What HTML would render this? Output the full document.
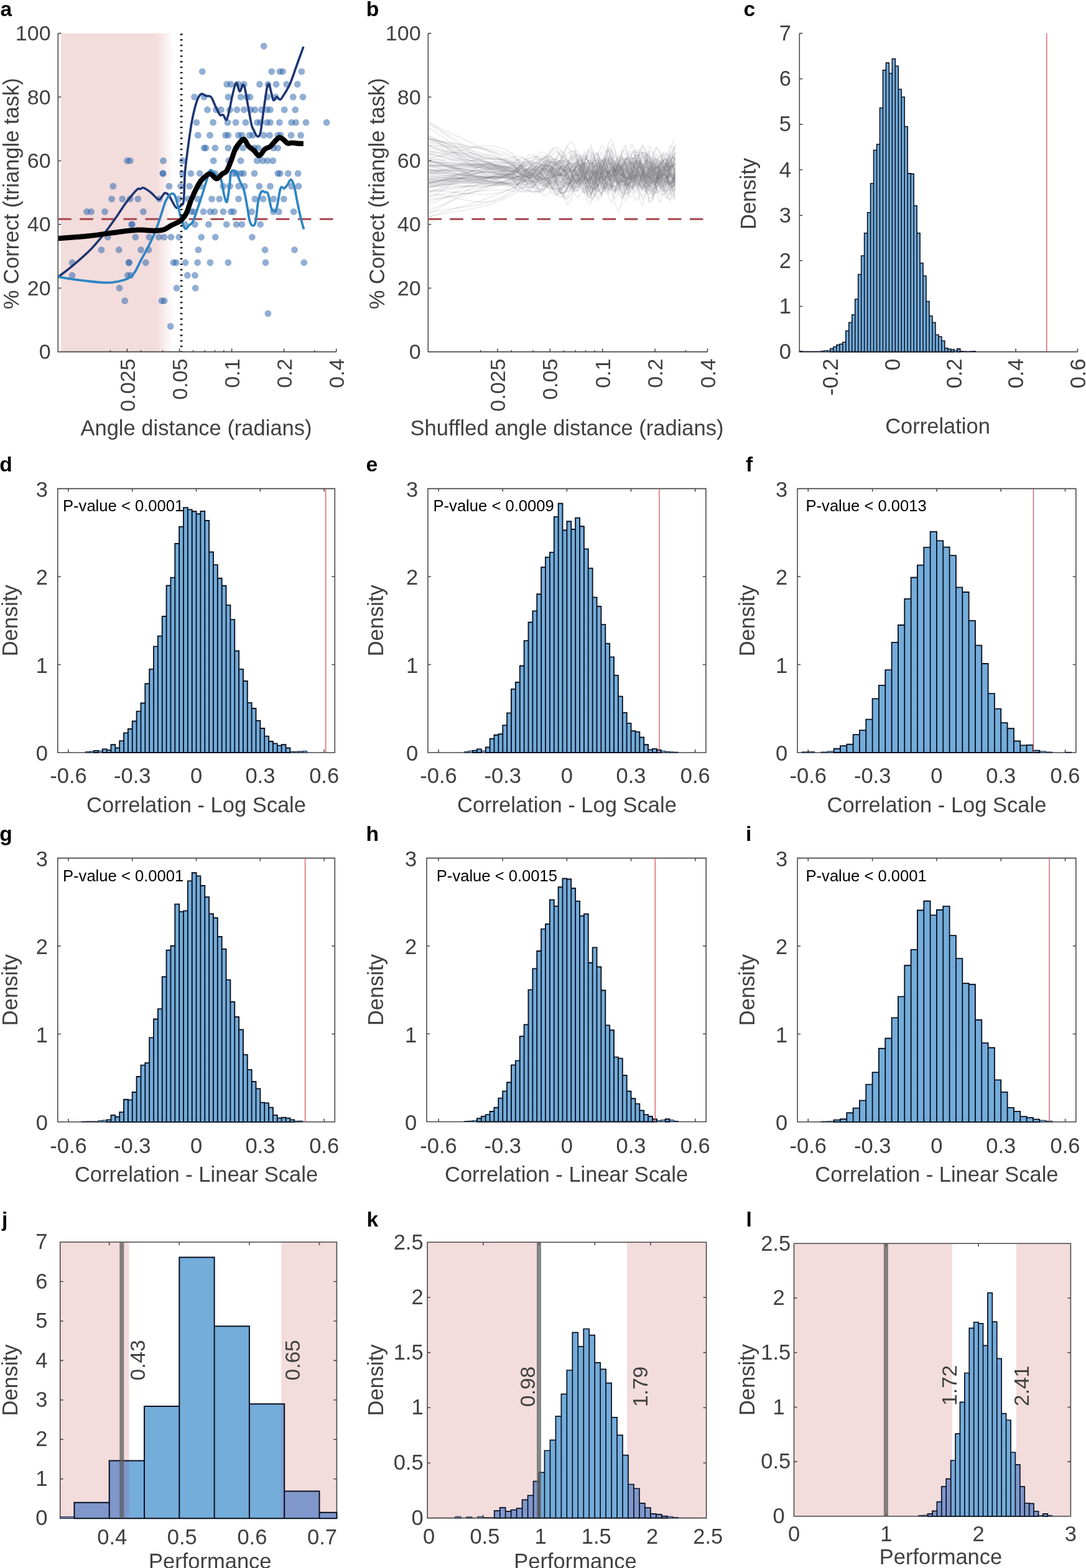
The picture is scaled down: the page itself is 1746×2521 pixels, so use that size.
<!DOCTYPE html>
<html lang="en">
<head>
<meta charset="utf-8">
<title>Figure: triangle task performance, shuffled controls and permutation tests</title>
<style>
html,body{margin:0;padding:0;background:#fff}
body{width:1746px;height:2521px;overflow:hidden}
svg{display:block;font-family:'Liberation Sans', Arial, Helvetica, sans-serif}
</style>
</head>
<body>
<svg width="1746" height="2521" viewBox="0 0 1746 2521">
<defs>
<linearGradient id="pinkfade" x1="0" y1="0" x2="1" y2="0">
<stop offset="0" stop-color="#f3dcdc"/>
<stop offset="0.84" stop-color="#f3dcdc"/>
<stop offset="1" stop-color="#f3dcdc" stop-opacity="0"/>
</linearGradient>
</defs>
<rect width="1746" height="2521" fill="#fff"/>
<g id="panel-a">
<rect x="98" y="53.6" width="182" height="511.4" fill="url(#pinkfade)"/>
<g fill="#2d64ad" fill-opacity="0.52"><circle cx="424.2" cy="74.08" r="5.4"/><circle cx="325.3" cy="115.04" r="5.4"/><circle cx="436.7" cy="115.04" r="5.4"/><circle cx="449.8" cy="115.04" r="5.4"/><circle cx="454.6" cy="115.04" r="5.4"/><circle cx="484.9" cy="115.04" r="5.4"/><circle cx="364.7" cy="135.52" r="5.4"/><circle cx="371.2" cy="135.52" r="5.4"/><circle cx="383.5" cy="135.52" r="5.4"/><circle cx="392.3" cy="135.52" r="5.4"/><circle cx="417.4" cy="135.52" r="5.4"/><circle cx="430.9" cy="135.52" r="5.4"/><circle cx="444" cy="135.52" r="5.4"/><circle cx="460.7" cy="135.52" r="5.4"/><circle cx="478.2" cy="135.52" r="5.4"/><circle cx="312.5" cy="156" r="5.4"/><circle cx="328.2" cy="156" r="5.4"/><circle cx="366.8" cy="156" r="5.4"/><circle cx="387" cy="156" r="5.4"/><circle cx="396.7" cy="156" r="5.4"/><circle cx="401.9" cy="156" r="5.4"/><circle cx="430" cy="156" r="5.4"/><circle cx="443.2" cy="156" r="5.4"/><circle cx="471.2" cy="156" r="5.4"/><circle cx="487" cy="156" r="5.4"/><circle cx="333.5" cy="176.48" r="5.4"/><circle cx="347.5" cy="176.48" r="5.4"/><circle cx="355.4" cy="176.48" r="5.4"/><circle cx="369.5" cy="176.48" r="5.4"/><circle cx="380.9" cy="176.48" r="5.4"/><circle cx="392.3" cy="176.48" r="5.4"/><circle cx="402.8" cy="176.48" r="5.4"/><circle cx="409.8" cy="176.48" r="5.4"/><circle cx="420.4" cy="176.48" r="5.4"/><circle cx="429.1" cy="176.48" r="5.4"/><circle cx="434.4" cy="176.48" r="5.4"/><circle cx="457.2" cy="176.48" r="5.4"/><circle cx="474.7" cy="176.48" r="5.4"/><circle cx="316" cy="196.96" r="5.4"/><circle cx="342.6" cy="196.96" r="5.4"/><circle cx="366" cy="196.96" r="5.4"/><circle cx="379.1" cy="196.96" r="5.4"/><circle cx="394.9" cy="196.96" r="5.4"/><circle cx="413.3" cy="196.96" r="5.4"/><circle cx="418.6" cy="196.96" r="5.4"/><circle cx="429.1" cy="196.96" r="5.4"/><circle cx="434.4" cy="196.96" r="5.4"/><circle cx="449.3" cy="196.96" r="5.4"/><circle cx="468.6" cy="196.96" r="5.4"/><circle cx="475.6" cy="196.96" r="5.4"/><circle cx="491.9" cy="196.96" r="5.4"/><circle cx="525.1" cy="196.96" r="5.4"/><circle cx="318.2" cy="217.44" r="5.4"/><circle cx="337.5" cy="217.44" r="5.4"/><circle cx="362.5" cy="217.44" r="5.4"/><circle cx="366.8" cy="217.44" r="5.4"/><circle cx="383.5" cy="217.44" r="5.4"/><circle cx="388.8" cy="217.44" r="5.4"/><circle cx="401" cy="217.44" r="5.4"/><circle cx="406.3" cy="217.44" r="5.4"/><circle cx="423.9" cy="217.44" r="5.4"/><circle cx="433.5" cy="217.44" r="5.4"/><circle cx="446.7" cy="217.44" r="5.4"/><circle cx="451" cy="217.44" r="5.4"/><circle cx="468" cy="217.44" r="5.4"/><circle cx="483.5" cy="217.44" r="5.4"/><circle cx="328.2" cy="237.92" r="5.4"/><circle cx="330.9" cy="237.92" r="5.4"/><circle cx="345.8" cy="237.92" r="5.4"/><circle cx="366.8" cy="237.92" r="5.4"/><circle cx="380" cy="237.92" r="5.4"/><circle cx="390.5" cy="237.92" r="5.4"/><circle cx="409" cy="237.92" r="5.4"/><circle cx="415" cy="237.92" r="5.4"/><circle cx="439.6" cy="237.92" r="5.4"/><circle cx="446.7" cy="237.92" r="5.4"/><circle cx="204.5" cy="258.4" r="5.4"/><circle cx="209.2" cy="258.4" r="5.4"/><circle cx="262.5" cy="258.4" r="5.4"/><circle cx="293.5" cy="258.4" r="5.4"/><circle cx="343.2" cy="258.4" r="5.4"/><circle cx="367.7" cy="258.4" r="5.4"/><circle cx="387" cy="258.4" r="5.4"/><circle cx="413.3" cy="258.4" r="5.4"/><circle cx="422.1" cy="258.4" r="5.4"/><circle cx="430" cy="258.4" r="5.4"/><circle cx="438.8" cy="258.4" r="5.4"/><circle cx="261.7" cy="278.88" r="5.4"/><circle cx="262.2" cy="278.88" r="5.4"/><circle cx="293.5" cy="278.88" r="5.4"/><circle cx="306.8" cy="278.88" r="5.4"/><circle cx="321.2" cy="278.88" r="5.4"/><circle cx="345.8" cy="278.88" r="5.4"/><circle cx="374.7" cy="278.88" r="5.4"/><circle cx="380" cy="278.88" r="5.4"/><circle cx="387" cy="278.88" r="5.4"/><circle cx="391.4" cy="278.88" r="5.4"/><circle cx="409" cy="278.88" r="5.4"/><circle cx="446.7" cy="278.88" r="5.4"/><circle cx="450.2" cy="278.88" r="5.4"/><circle cx="463.3" cy="278.88" r="5.4"/><circle cx="479.1" cy="278.88" r="5.4"/><circle cx="181.8" cy="299.36" r="5.4"/><circle cx="271.9" cy="299.36" r="5.4"/><circle cx="290.6" cy="299.36" r="5.4"/><circle cx="304.7" cy="299.36" r="5.4"/><circle cx="322.1" cy="299.36" r="5.4"/><circle cx="358.9" cy="299.36" r="5.4"/><circle cx="369.5" cy="299.36" r="5.4"/><circle cx="383.5" cy="299.36" r="5.4"/><circle cx="393.2" cy="299.36" r="5.4"/><circle cx="416.8" cy="299.36" r="5.4"/><circle cx="434.4" cy="299.36" r="5.4"/><circle cx="468.6" cy="299.36" r="5.4"/><circle cx="480" cy="299.36" r="5.4"/><circle cx="179.5" cy="319.84" r="5.4"/><circle cx="196.7" cy="319.84" r="5.4"/><circle cx="209.2" cy="319.84" r="5.4"/><circle cx="221.8" cy="319.84" r="5.4"/><circle cx="256.2" cy="319.84" r="5.4"/><circle cx="287.2" cy="319.84" r="5.4"/><circle cx="302.6" cy="319.84" r="5.4"/><circle cx="317.9" cy="319.84" r="5.4"/><circle cx="340.5" cy="319.84" r="5.4"/><circle cx="352.8" cy="319.84" r="5.4"/><circle cx="383.5" cy="319.84" r="5.4"/><circle cx="409.8" cy="319.84" r="5.4"/><circle cx="423" cy="319.84" r="5.4"/><circle cx="439.6" cy="319.84" r="5.4"/><circle cx="456.3" cy="319.84" r="5.4"/><circle cx="139.5" cy="340.32" r="5.4"/><circle cx="146.6" cy="340.32" r="5.4"/><circle cx="168.5" cy="340.32" r="5.4"/><circle cx="230.4" cy="340.32" r="5.4"/><circle cx="307.6" cy="340.32" r="5.4"/><circle cx="311.8" cy="340.32" r="5.4"/><circle cx="327" cy="340.32" r="5.4"/><circle cx="337.9" cy="340.32" r="5.4"/><circle cx="344.9" cy="340.32" r="5.4"/><circle cx="358.9" cy="340.32" r="5.4"/><circle cx="371.2" cy="340.32" r="5.4"/><circle cx="375.6" cy="340.32" r="5.4"/><circle cx="404.6" cy="340.32" r="5.4"/><circle cx="439.6" cy="340.32" r="5.4"/><circle cx="448.4" cy="340.32" r="5.4"/><circle cx="472.1" cy="340.32" r="5.4"/><circle cx="211.6" cy="360.8" r="5.4"/><circle cx="212.4" cy="360.8" r="5.4"/><circle cx="297.6" cy="360.8" r="5.4"/><circle cx="313.4" cy="360.8" r="5.4"/><circle cx="335.3" cy="360.8" r="5.4"/><circle cx="364.2" cy="360.8" r="5.4"/><circle cx="380" cy="360.8" r="5.4"/><circle cx="388.8" cy="360.8" r="5.4"/><circle cx="418.6" cy="360.8" r="5.4"/><circle cx="173.2" cy="381.28" r="5.4"/><circle cx="217.8" cy="381.28" r="5.4"/><circle cx="239.8" cy="381.28" r="5.4"/><circle cx="255.4" cy="381.28" r="5.4"/><circle cx="264" cy="381.28" r="5.4"/><circle cx="275" cy="381.28" r="5.4"/><circle cx="287.7" cy="381.28" r="5.4"/><circle cx="323.7" cy="381.28" r="5.4"/><circle cx="346.3" cy="381.28" r="5.4"/><circle cx="405.4" cy="381.28" r="5.4"/><circle cx="163" cy="401.76" r="5.4"/><circle cx="191.2" cy="401.76" r="5.4"/><circle cx="226.5" cy="401.76" r="5.4"/><circle cx="239" cy="401.76" r="5.4"/><circle cx="318.9" cy="401.76" r="5.4"/><circle cx="426.1" cy="401.76" r="5.4"/><circle cx="473.5" cy="401.76" r="5.4"/><circle cx="116" cy="422.24" r="5.4"/><circle cx="206.9" cy="422.24" r="5.4"/><circle cx="207.8" cy="422.24" r="5.4"/><circle cx="234.3" cy="422.24" r="5.4"/><circle cx="278.9" cy="422.24" r="5.4"/><circle cx="283.2" cy="422.24" r="5.4"/><circle cx="298" cy="422.24" r="5.4"/><circle cx="317.6" cy="422.24" r="5.4"/><circle cx="337.9" cy="422.24" r="5.4"/><circle cx="366.8" cy="422.24" r="5.4"/><circle cx="427" cy="422.24" r="5.4"/><circle cx="488.8" cy="422.24" r="5.4"/><circle cx="116" cy="442.72" r="5.4"/><circle cx="205.3" cy="442.72" r="5.4"/><circle cx="210" cy="442.72" r="5.4"/><circle cx="301.3" cy="442.72" r="5.4"/><circle cx="313.4" cy="442.72" r="5.4"/><circle cx="192" cy="463.2" r="5.4"/><circle cx="284" cy="463.2" r="5.4"/><circle cx="314.2" cy="463.2" r="5.4"/><circle cx="200.6" cy="483.68" r="5.4"/><circle cx="260.1" cy="483.68" r="5.4"/><circle cx="264" cy="483.68" r="5.4"/><circle cx="430.9" cy="504.16" r="5.4"/><circle cx="274.2" cy="524.64" r="5.4"/></g>
<line x1="93.3" y1="352.25" x2="537.5" y2="352.25" stroke="#a8444a" stroke-width="2.9" stroke-dasharray="21.5 13.55"/>
<path d="M93.3 445.6C97.58 442.22 110.53 432.43 119 425.3C127.47 418.17 136.78 410.1 144.1 402.8C151.42 395.5 157.68 387.77 162.9 381.5C168.12 375.23 171.22 370.85 175.4 365.2C179.58 359.55 183.9 353.55 188 347.6C192.1 341.65 196.42 334.6 200 329.5C203.58 324.4 206 321.22 209.5 317C213 312.78 218.3 306.38 221 304.2C223.7 302.02 224.13 304.28 225.7 303.9C227.27 303.52 227.53 300.93 230.4 301.9C233.27 302.87 238.73 306.57 242.9 309.7C247.07 312.83 251.75 320.57 255.4 320.7C259.05 320.83 262.18 311.68 264.8 310.5C267.42 309.32 269 311.25 271.1 313.6C273.2 315.95 275.32 321.2 277.4 324.6C279.48 328 281.25 333.08 283.6 334C285.95 334.92 289.53 332.18 291.5 330.1C293.47 328.02 294.4 330.38 295.4 321.5C296.4 312.62 296.27 291.55 297.5 276.8C298.73 262.05 301.05 246.15 302.8 233C304.55 219.85 306.25 207.85 308 197.9C309.75 187.95 311.53 180.03 313.3 173.3C315.07 166.57 316.83 161.23 318.6 157.5C320.37 153.77 321.85 151.48 323.9 150.9C325.95 150.32 328.57 153.33 330.9 154C333.23 154.67 336.15 154.02 337.9 154.9C339.65 155.78 339.93 156.52 341.4 159.3C342.87 162.08 344.65 167.37 346.7 171.6C348.75 175.83 351.67 182.52 353.7 184.7C355.73 186.88 357.15 183.38 358.9 184.7C360.65 186.02 362.43 194.5 364.2 192.6C365.97 190.7 367.75 180.6 369.5 173.3C371.25 166 372.95 155.52 374.7 148.8C376.45 142.08 378.23 133.3 380 133C381.77 132.7 383.55 146.42 385.3 147C387.05 147.58 389.05 137.08 390.5 136.5C391.95 135.92 392.53 137.37 394 143.5C395.47 149.63 397.53 163.65 399.3 173.3C401.07 182.95 403.13 195.4 404.6 201.4C406.07 207.4 406.65 206.38 408.1 209.3C409.55 212.22 411.55 218.17 413.3 218.9C415.05 219.63 416.83 220.72 418.6 213.7C420.37 206.68 422.15 188.78 423.9 176.8C425.65 164.82 427.65 148.67 429.1 141.8C430.55 134.93 431.43 134.43 432.6 135.6C433.77 136.77 434.93 144.55 436.1 148.8C437.27 153.05 438.13 159.93 439.6 161.1C441.07 162.27 443.13 155.95 444.9 155.8C446.67 155.65 448.45 160.5 450.2 160.2C451.95 159.9 452.77 158.1 455.4 154C458.03 149.9 462.48 143.48 466 135.6C469.52 127.72 472.85 116.78 476.5 106.7C480.15 96.62 486 80.37 487.9 75.1" fill="none" stroke="#1d3673" stroke-width="3.6" stroke-linejoin="round"/>
<path d="M93.3 445.2C97.35 445.85 109.37 447.93 117.6 449.1C125.83 450.27 134.6 451.33 142.7 452.2C150.8 453.07 159.68 454.03 166.2 454.3C172.72 454.57 176.58 454.4 181.8 453.8C187.02 453.2 192.8 452.13 197.5 450.7C202.2 449.27 206.62 447.68 210 445.2C213.38 442.72 215.18 439.98 217.8 435.8C220.42 431.62 222.57 426.1 225.7 420.1C228.83 414.1 233.22 406.32 236.6 399.8C239.98 393.28 243.12 387.53 246 381C248.88 374.47 251.55 367.13 253.9 360.6C256.25 354.07 258.02 348.07 260.1 341.8C262.18 335.53 264.3 327.7 266.4 323C268.5 318.3 270.73 315.55 272.7 313.6C274.67 311.65 276.63 310.77 278.2 311.3C279.77 311.83 280.67 313.02 282.1 316.8C283.53 320.58 285.23 328 286.8 334C288.37 340 289.68 347.18 291.5 352.8C293.32 358.42 295.62 366.13 297.7 367.7C299.78 369.27 301.9 364.17 304 362.2C306.1 360.23 307.95 360.6 310.3 355.9C312.65 351.2 315.75 340.78 318.1 334C320.45 327.22 321.98 322.73 324.4 315.2C326.82 307.67 330.2 295.78 332.6 288.8C335 281.82 335.87 273.83 338.8 273.3C341.73 272.77 347.43 283.02 350.2 285.6C352.97 288.18 353.65 283.88 355.4 288.8C357.15 293.72 359.08 309.25 360.7 315.1C362.32 320.95 363.63 327.42 365.1 323.9C366.57 320.38 368.48 301.85 369.5 294C370.52 286.15 369.75 279.95 371.2 276.8C372.65 273.65 376.15 273.63 378.2 275.1C380.25 276.57 382.32 283.03 383.5 285.6C384.68 288.17 383.83 287.05 385.3 290.5C386.77 293.95 390.27 299.28 392.3 306.3C394.33 313.32 396.03 324.7 397.5 332.6C398.97 340.5 399.78 348.72 401.1 353.7C402.42 358.68 403.8 361.92 405.4 362.5C407 363.08 409.08 363.63 410.7 357.2C412.32 350.77 413.48 332.08 415.1 323.9C416.72 315.72 418.65 310.6 420.4 308.1C422.15 305.6 423.85 308.32 425.6 308.9C427.35 309.48 429.15 307.35 430.9 311.6C432.65 315.85 434.5 329.73 436.1 334.4C437.7 339.07 439.03 339.6 440.5 339.6C441.97 339.6 443.13 340.53 444.9 334.4C446.67 328.27 449.05 308.07 451.1 302.8C453.15 297.53 455.3 303.82 457.2 302.8C459.1 301.78 460.75 299.03 462.5 296.7C464.25 294.37 465.95 288.37 467.7 288.8C469.45 289.23 471.25 293.17 473 299.3C474.75 305.43 476.45 317.12 478.2 325.6C479.95 334.08 481.8 343.03 483.5 350.2C485.2 357.37 487.58 365.53 488.4 368.6" fill="none" stroke="#2f86c3" stroke-width="3.8" stroke-linejoin="round"/>
<path d="M93.3 383.3C101.53 382.65 126.65 381.1 142.7 379.4C158.75 377.7 176.55 374.72 189.6 373.1C202.65 371.48 213.17 370.17 221 369.7C228.83 369.23 231.38 370.12 236.6 370.3C241.82 370.48 247.85 370.98 252.3 370.8C256.75 370.62 259.38 370.63 263.3 369.2C267.22 367.77 271.37 364.55 275.8 362.2C280.23 359.85 285.98 358.23 289.9 355.1C293.82 351.97 296.28 349.25 299.3 343.4C302.32 337.55 304.48 328.17 308 320C311.52 311.83 316.88 300.28 320.4 294.4C323.92 288.52 326.18 287.18 329.1 284.7C332.02 282.22 334.68 279.05 337.9 279.5C341.12 279.95 345.18 287.4 348.4 287.4C351.62 287.4 354.57 281.55 357.2 279.5C359.83 277.45 361.87 278.47 364.2 275.1C366.53 271.73 368.87 265.15 371.2 259.3C373.53 253.45 375.85 244.97 378.2 240C380.55 235.03 382.95 232.18 385.3 229.5C387.65 226.82 389.97 223.03 392.3 223.9C394.63 224.77 396.67 231.72 399.3 234.7C401.93 237.68 405.18 239.17 408.1 241.8C411.02 244.43 413.88 250.8 416.8 250.5C419.72 250.2 422.67 242.48 425.6 240C428.53 237.52 431.47 237.93 434.4 235.6C437.33 233.27 440.72 228.42 443.2 226C445.68 223.58 447.27 221.4 449.3 221.1C451.33 220.8 453.2 222.65 455.4 224.2C457.6 225.75 460.15 229.52 462.5 230.4C464.85 231.28 466.88 229.45 469.5 229.5C472.12 229.55 475.13 230.47 478.2 230.7C481.27 230.93 486.28 230.87 487.9 230.9" fill="none" stroke="#000" stroke-width="8.2" stroke-linejoin="round"/>
<line x1="291.6" y1="54.1" x2="291.6" y2="565.6" stroke="#000" stroke-width="3.6" stroke-dasharray="2.3 6.5"/>
<path d="M204.43 565.6v-5M288.5 565.6v-5M372.57 565.6v-5M456.63 565.6v-5M540.7 565.6v-5M177.37 565.6v-2.5M226.54 565.6v-2.5M261.43 565.6v-2.5M310.61 565.6v-2.5M329.31 565.6v-2.5M345.5 565.6v-2.5M359.79 565.6v-2.5M505.81 565.6v-2.5M93.3 565.6h5M93.3 463.2h5M93.3 360.8h5M93.3 258.4h5M93.3 156h5M93.3 53.6h5M93.3 53.6V565.6H540.7" fill="none" stroke="#474747" stroke-width="1.55"/>
<text x="81.6" y="577.1" font-size="34" text-anchor="end" fill="#404040">0</text>
<text x="81.6" y="474.7" font-size="34" text-anchor="end" fill="#404040">20</text>
<text x="81.6" y="372.3" font-size="34" text-anchor="end" fill="#404040">40</text>
<text x="81.6" y="269.9" font-size="34" text-anchor="end" fill="#404040">60</text>
<text x="81.6" y="167.5" font-size="34" text-anchor="end" fill="#404040">80</text>
<text x="81.6" y="65.1" font-size="34" text-anchor="end" fill="#404040">100</text>
<text x="216.63" y="576.6" font-size="34" text-anchor="end" transform="rotate(-90 216.63 576.6)" fill="#404040">0.025</text>
<text x="300.7" y="576.6" font-size="34" text-anchor="end" transform="rotate(-90 300.7 576.6)" fill="#404040">0.05</text>
<text x="384.77" y="576.6" font-size="34" text-anchor="end" transform="rotate(-90 384.77 576.6)" fill="#404040">0.1</text>
<text x="468.83" y="576.6" font-size="34" text-anchor="end" transform="rotate(-90 468.83 576.6)" fill="#404040">0.2</text>
<text x="552.9" y="576.6" font-size="34" text-anchor="end" transform="rotate(-90 552.9 576.6)" fill="#404040">0.4</text>
<text x="30.3" y="311.3" font-size="34.5" text-anchor="middle" transform="rotate(-90 30.3 311.3)" fill="#404040">% Correct (triangle task)</text>
<text x="315.5" y="699.5" font-size="34.5" text-anchor="middle" fill="#404040">Angle distance (radians)</text>
<text x="0.5" y="25.6" font-size="33.6" font-weight="bold" fill="#000">a</text>
</g>
<g id="panel-b">
<path d="M799.88 565.6v-5M884.28 565.6v-5M968.69 565.6v-5M1053.09 565.6v-5M1137.5 565.6v-5M772.71 565.6v-2.5M822.08 565.6v-2.5M857.11 565.6v-2.5M906.49 565.6v-2.5M925.26 565.6v-2.5M941.52 565.6v-2.5M955.86 565.6v-2.5M1102.47 565.6v-2.5M688.3 565.6h5M688.3 463.2h5M688.3 360.8h5M688.3 258.4h5M688.3 156h5M688.3 53.6h5M688.3 53.6V565.6H1137.5" fill="none" stroke="#474747" stroke-width="1.55"/>
<text x="676.6" y="577.1" font-size="34" text-anchor="end" fill="#404040">0</text>
<text x="676.6" y="474.7" font-size="34" text-anchor="end" fill="#404040">20</text>
<text x="676.6" y="372.3" font-size="34" text-anchor="end" fill="#404040">40</text>
<text x="676.6" y="269.9" font-size="34" text-anchor="end" fill="#404040">60</text>
<text x="676.6" y="167.5" font-size="34" text-anchor="end" fill="#404040">80</text>
<text x="676.6" y="65.1" font-size="34" text-anchor="end" fill="#404040">100</text>
<text x="812.08" y="576.6" font-size="34" text-anchor="end" transform="rotate(-90 812.08 576.6)" fill="#404040">0.025</text>
<text x="896.48" y="576.6" font-size="34" text-anchor="end" transform="rotate(-90 896.48 576.6)" fill="#404040">0.05</text>
<text x="980.89" y="576.6" font-size="34" text-anchor="end" transform="rotate(-90 980.89 576.6)" fill="#404040">0.1</text>
<text x="1065.29" y="576.6" font-size="34" text-anchor="end" transform="rotate(-90 1065.29 576.6)" fill="#404040">0.2</text>
<text x="1149.7" y="576.6" font-size="34" text-anchor="end" transform="rotate(-90 1149.7 576.6)" fill="#404040">0.4</text>
<g fill="none" stroke="#7b7c80" stroke-opacity="0.15" stroke-width="1.7" stroke-linejoin="round">
<path d="M688.3 294.0 703.4 291.5 718.5 286.8 733.5 281.0 748.6 275.2 763.7 270.6 778.8 268.0 793.8 268.8 808.9 273.9 824.0 284.5 829.5 293.0 835.0 300.2 840.5 304.6 846.0 305.2 851.5 302.2 857.0 297.1 862.5 292.4 868.0 290.5 873.5 292.6 879.0 297.4 884.5 301.1 890.0 299.4 895.5 290.5 901.0 278.0 906.5 270.6 912.0 276.2 917.5 293.0 923.0 307.6 928.5 306.1 934.0 291.4 939.5 283.6 945.0 288.6 950.5 278.7 956.0 250.0 961.5 244.4 967.0 267.1 972.5 275.7 978.0 263.6 983.5 265.2 989.0 276.7 994.5 264.2 1000.0 241.3 1005.5 249.3 1011.0 276.4 1016.5 283.1 1022.0 279.7 1027.5 295.2 1033.0 308.0 1038.5 289.8 1044.0 270.2 1049.5 282.4 1055.0 300.5 1060.5 296.1 1066.0 293.8 1071.5 310.5 1077.0 312.4 1082.5 283.7 1085.5 269.2"/>
<path d="M688.3 257.7 703.4 261.1 718.5 265.7 733.5 270.9 748.6 276.2 763.7 280.8 778.8 284.2 793.8 285.7 808.9 284.9 824.0 281.0 829.5 276.9 835.0 273.8 840.5 272.7 846.0 274.1 851.5 277.5 857.0 280.9 862.5 282.0 868.0 278.5 873.5 269.7 879.0 257.6 884.5 246.5 890.0 241.0 895.5 243.2 901.0 250.0 906.5 254.5 912.0 251.2 917.5 243.4 923.0 242.8 928.5 257.7 934.0 278.2 939.5 283.0 945.0 271.9 950.5 273.7 956.0 286.8 961.5 278.2 967.0 259.3 972.5 265.7 978.0 284.4 983.5 283.8 989.0 281.2 994.5 302.1 1000.0 319.6 1005.5 308.0 1011.0 295.1 1016.5 301.5 1022.0 298.4 1027.5 274.3 1033.0 265.3 1038.5 280.7 1044.0 284.8 1049.5 273.0 1055.0 278.2 1060.5 294.8 1066.0 286.6 1071.5 262.8 1077.0 257.9 1082.5 260.6 1085.5 253.2"/>
<path d="M688.3 195.4 703.4 205.6 718.5 215.5 733.5 225.4 748.6 235.2 763.7 245.2 778.8 255.3 793.8 265.7 808.9 276.5 824.0 287.8 829.5 292.4 835.0 295.4 840.5 296.6 846.0 296.1 851.5 294.6 857.0 292.9 862.5 292.3 868.0 293.6 873.5 296.7 879.0 300.6 884.5 303.4 890.0 302.4 895.5 296.0 901.0 284.8 906.5 272.5 912.0 265.0 917.5 266.4 923.0 275.7 928.5 285.4 934.0 286.8 939.5 279.8 945.0 275.9 950.5 284.2 956.0 290.0 961.5 277.9 967.0 259.2 972.5 257.5 978.0 273.6 983.5 286.4 989.0 286.8 994.5 289.4 1000.0 304.5 1005.5 316.6 1011.0 306.7 1016.5 282.5 1022.0 268.6 1027.5 270.6 1033.0 271.1 1038.5 261.7 1044.0 258.2 1049.5 273.5 1055.0 293.5 1060.5 295.7 1066.0 282.7 1071.5 274.3 1077.0 271.9 1082.5 263.6 1085.5 252.4"/>
<path d="M688.3 267.6 703.4 267.6 718.5 266.9 733.5 265.7 748.6 264.5 763.7 263.8 778.8 263.8 793.8 264.9 808.9 267.7 824.0 272.3 829.5 275.7 835.0 279.2 840.5 282.0 846.0 283.3 851.5 282.6 857.0 279.4 862.5 274.0 868.0 267.2 873.5 260.9 879.0 257.0 884.5 257.8 890.0 264.4 895.5 276.2 901.0 290.2 906.5 300.9 912.0 302.6 917.5 293.1 923.0 276.1 928.5 262.0 934.0 263.3 939.5 284.0 945.0 309.8 950.5 313.3 956.0 287.8 961.5 261.5 967.0 263.1 972.5 288.6 978.0 306.4 983.5 294.4 989.0 265.0 994.5 249.6 1000.0 261.8 1005.5 283.9 1011.0 289.2 1016.5 273.5 1022.0 257.3 1027.5 259.3 1033.0 275.4 1038.5 286.4 1044.0 283.0 1049.5 275.5 1055.0 277.5 1060.5 287.5 1066.0 292.3 1071.5 286.2 1077.0 279.8 1082.5 285.1 1085.5 292.0"/>
<path d="M688.3 199.0 703.4 208.0 718.5 218.2 733.5 228.9 748.6 239.6 763.7 249.7 778.8 258.8 793.8 266.3 808.9 271.6 824.0 274.2 829.5 272.8 835.0 272.5 840.5 273.4 846.0 275.5 851.5 278.6 857.0 282.4 862.5 286.7 868.0 290.8 873.5 294.7 879.0 298.1 884.5 301.3 890.0 304.2 895.5 307.0 901.0 309.2 906.5 309.6 912.0 307.2 917.5 301.6 923.0 293.8 928.5 287.6 934.0 287.9 939.5 297.8 945.0 313.5 950.5 322.6 956.0 315.8 961.5 299.0 967.0 285.5 972.5 282.2 978.0 285.8 983.5 289.5 989.0 291.3 994.5 292.5 1000.0 291.4 1005.5 283.3 1011.0 268.1 1016.5 254.6 1022.0 253.9 1027.5 267.0 1033.0 281.7 1038.5 284.8 1044.0 274.4 1049.5 261.0 1055.0 255.2 1060.5 258.7 1066.0 266.0 1071.5 273.6 1077.0 281.7 1082.5 290.1 1085.5 292.9"/>
<path d="M688.3 290.1 703.4 289.3 718.5 288.2 733.5 287.0 748.6 285.9 763.7 284.8 778.8 284.0 793.8 283.6 808.9 283.7 824.0 284.4 829.5 285.2 835.0 284.4 840.5 281.9 846.0 278.3 851.5 274.3 857.0 270.9 862.5 268.5 868.0 266.9 873.5 265.6 879.0 263.4 884.5 259.9 890.0 256.4 895.5 255.6 901.0 260.5 906.5 272.3 912.0 286.8 917.5 296.5 923.0 295.8 928.5 287.5 934.0 281.7 939.5 285.4 945.0 291.9 950.5 293.9 956.0 299.7 961.5 308.8 967.0 302.1 972.5 278.4 978.0 263.9 983.5 269.3 989.0 275.6 994.5 272.9 1000.0 271.9 1005.5 272.7 1011.0 263.5 1016.5 254.0 1022.0 265.1 1027.5 289.2 1033.0 299.9 1038.5 295.2 1044.0 292.9 1049.5 293.5 1055.0 288.2 1060.5 287.0 1066.0 299.4 1071.5 307.6 1077.0 294.8 1082.5 275.2 1085.5 270.6"/>
<path d="M688.3 253.8 703.4 251.9 718.5 248.4 733.5 244.1 748.6 239.7 763.7 236.2 778.8 234.3 793.8 234.9 808.9 238.7 824.0 246.6 829.5 253.0 835.0 261.1 840.5 269.0 846.0 274.6 851.5 276.6 857.0 275.1 862.5 271.7 868.0 269.8 873.5 272.8 879.0 282.2 884.5 296.0 890.0 308.4 895.5 312.2 901.0 303.6 906.5 286.7 912.0 273.6 917.5 274.8 923.0 287.8 928.5 295.8 934.0 286.5 939.5 274.8 945.0 289.6 950.5 318.6 956.0 314.0 961.5 287.9 967.0 284.0 972.5 287.9 978.0 262.5 983.5 232.5 989.0 241.5 994.5 266.4 1000.0 265.5 1005.5 260.3 1011.0 283.7 1016.5 304.7 1022.0 287.9 1027.5 266.3 1033.0 277.1 1038.5 290.8 1044.0 278.4 1049.5 274.3 1055.0 303.9 1060.5 325.8 1066.0 309.9 1071.5 292.6 1077.0 296.0 1082.5 284.9 1085.5 263.9"/>
<path d="M688.3 344.3 703.4 335.8 718.5 326.6 733.5 317.2 748.6 307.7 763.7 298.6 778.8 290.1 793.8 282.5 808.9 276.2 824.0 271.5 829.5 271.2 835.0 270.0 840.5 268.0 846.0 265.5 851.5 263.6 857.0 263.8 862.5 267.2 868.0 274.2 873.5 283.6 879.0 292.5 884.5 297.1 890.0 294.1 895.5 283.4 901.0 269.5 906.5 260.1 912.0 262.1 917.5 274.8 923.0 289.3 928.5 295.6 934.0 292.6 939.5 289.9 945.0 291.1 950.5 284.4 956.0 272.1 961.5 279.2 967.0 303.3 972.5 308.6 978.0 285.3 983.5 267.7 989.0 275.6 994.5 287.2 1000.0 286.3 1005.5 285.5 1011.0 287.7 1016.5 276.1 1022.0 256.6 1027.5 259.3 1033.0 283.9 1038.5 292.6 1044.0 273.1 1049.5 256.4 1055.0 260.9 1060.5 268.9 1066.0 270.0 1071.5 276.2 1077.0 282.2 1082.5 268.3 1085.5 253.2"/>
<path d="M688.3 280.9 703.4 281.3 718.5 282.7 733.5 284.7 748.6 286.7 763.7 288.1 778.8 288.4 793.8 287.1 808.9 283.6 824.0 277.4 829.5 272.7 835.0 270.3 840.5 270.3 846.0 272.2 851.5 274.4 857.0 275.3 862.5 273.8 868.0 270.1 873.5 265.9 879.0 264.8 884.5 269.5 890.0 280.6 895.5 293.8 901.0 301.0 906.5 294.2 912.0 273.3 917.5 249.7 923.0 240.4 928.5 253.0 934.0 274.3 939.5 281.4 945.0 273.2 950.5 273.9 956.0 279.8 961.5 263.8 967.0 243.6 972.5 259.6 978.0 296.1 983.5 301.0 989.0 274.9 994.5 263.7 1000.0 274.5 1005.5 276.7 1011.0 273.0 1016.5 289.9 1022.0 310.3 1027.5 294.6 1033.0 259.8 1038.5 257.3 1044.0 285.2 1049.5 296.7 1055.0 284.9 1060.5 281.1 1066.0 283.7 1071.5 264.5 1077.0 234.5 1082.5 237.1 1085.5 248.9"/>
<path d="M688.3 277.3 703.4 277.7 718.5 279.0 733.5 280.6 748.6 282.3 763.7 283.5 778.8 284.0 793.8 283.1 808.9 280.6 824.0 276.1 829.5 272.6 835.0 267.9 840.5 263.3 846.0 260.4 851.5 260.8 857.0 265.3 862.5 273.5 868.0 283.5 873.5 292.1 879.0 296.1 884.5 294.2 890.0 287.9 895.5 281.8 901.0 281.0 906.5 286.9 912.0 294.3 917.5 293.9 923.0 280.7 928.5 262.6 934.0 257.0 939.5 270.1 945.0 282.9 950.5 277.6 956.0 277.1 961.5 299.3 967.0 314.8 972.5 301.1 978.0 284.7 983.5 288.8 989.0 290.3 994.5 270.5 1000.0 257.1 1005.5 272.5 1011.0 290.1 1016.5 285.1 1022.0 279.7 1027.5 294.2 1033.0 302.8 1038.5 283.2 1044.0 262.3 1049.5 266.5 1055.0 273.9 1060.5 262.7 1066.0 256.9 1071.5 277.7 1077.0 296.9 1082.5 288.9 1085.5 279.7"/>
<path d="M688.3 233.0 703.4 237.5 718.5 242.1 733.5 246.9 748.6 251.7 763.7 256.3 778.8 260.7 793.8 264.8 808.9 268.4 824.0 271.4 829.5 272.0 835.0 273.0 840.5 274.5 846.0 276.2 851.5 278.0 857.0 279.6 862.5 280.6 868.0 280.7 873.5 279.6 879.0 277.5 884.5 274.7 890.0 272.1 895.5 270.7 901.0 271.5 906.5 275.1 912.0 281.0 917.5 287.9 923.0 293.6 928.5 296.7 934.0 296.7 939.5 295.3 945.0 294.2 950.5 292.2 956.0 285.5 961.5 273.1 967.0 260.4 972.5 254.9 978.0 259.1 983.5 268.3 989.0 275.5 994.5 278.3 1000.0 280.0 1005.5 283.7 1011.0 288.0 1016.5 288.8 1022.0 284.7 1027.5 280.2 1033.0 281.1 1038.5 288.0 1044.0 294.9 1049.5 295.1 1055.0 288.0 1060.5 278.6 1066.0 271.9 1071.5 267.4 1077.0 260.2 1082.5 251.3 1085.5 247.4"/>
<path d="M688.3 265.7 703.4 267.1 718.5 268.9 733.5 270.9 748.6 272.9 763.7 274.7 778.8 276.0 793.8 276.8 808.9 276.7 824.0 275.7 829.5 274.4 835.0 272.4 840.5 269.5 846.0 265.7 851.5 261.4 857.0 256.9 862.5 253.0 868.0 250.7 873.5 250.8 879.0 253.6 884.5 259.2 890.0 266.5 895.5 273.9 901.0 279.7 906.5 282.5 912.0 282.3 917.5 281.1 923.0 280.9 928.5 282.7 934.0 283.9 939.5 280.2 945.0 270.2 950.5 261.7 956.0 265.6 961.5 280.1 967.0 293.2 972.5 297.5 978.0 296.8 983.5 298.0 989.0 299.5 994.5 293.3 1000.0 278.2 1005.5 264.8 1011.0 263.7 1016.5 273.0 1022.0 281.5 1027.5 282.6 1033.0 281.1 1038.5 283.0 1044.0 284.9 1049.5 278.4 1055.0 263.0 1060.5 249.7 1066.0 249.1 1071.5 259.1 1077.0 268.7 1082.5 272.7 1085.5 274.1"/>
<path d="M688.3 297.3 703.4 295.9 718.5 294.2 733.5 292.5 748.6 290.7 763.7 289.1 778.8 287.7 793.8 286.7 808.9 286.3 824.0 286.5 829.5 287.2 835.0 288.3 840.5 290.2 846.0 293.0 851.5 296.5 857.0 300.0 862.5 302.5 868.0 302.7 873.5 299.8 879.0 293.8 884.5 285.5 890.0 277.1 895.5 271.0 901.0 268.5 906.5 269.3 912.0 271.2 917.5 272.0 923.0 272.5 928.5 276.8 934.0 287.7 939.5 300.0 945.0 301.6 950.5 289.2 956.0 277.9 961.5 275.4 967.0 273.9 972.5 270.8 978.0 277.3 983.5 295.3 989.0 308.2 994.5 305.0 1000.0 295.6 1005.5 291.1 1011.0 286.5 1016.5 277.0 1022.0 273.5 1027.5 285.7 1033.0 302.3 1038.5 307.0 1044.0 301.9 1049.5 298.3 1055.0 294.0 1060.5 281.0 1066.0 267.4 1071.5 267.5 1077.0 274.9 1082.5 276.2 1085.5 272.0"/>
<path d="M688.3 342.4 703.4 339.0 718.5 336.5 733.5 334.6 748.6 332.6 763.7 330.1 778.8 326.7 793.8 322.0 808.9 315.4 824.0 306.6 829.5 301.4 835.0 293.3 840.5 283.4 846.0 273.3 851.5 265.2 857.0 260.8 862.5 261.2 868.0 266.2 873.5 273.7 879.0 280.4 884.5 283.3 890.0 280.8 895.5 274.8 901.0 270.4 906.5 273.7 912.0 286.3 917.5 301.7 923.0 307.4 928.5 294.1 934.0 267.8 939.5 250.7 945.0 257.8 950.5 271.6 956.0 266.5 961.5 260.1 967.0 279.4 972.5 307.5 978.0 306.5 983.5 279.4 989.0 265.5 994.5 276.5 1000.0 283.1 1005.5 271.4 1011.0 269.6 1016.5 296.5 1022.0 323.3 1027.5 316.5 1033.0 291.4 1038.5 284.6 1044.0 293.8 1049.5 288.3 1055.0 268.8 1060.5 269.8 1066.0 299.0 1071.5 319.7 1077.0 309.6 1082.5 292.3 1085.5 291.8"/>
<path d="M688.3 293.1 703.4 291.5 718.5 289.6 733.5 287.5 748.6 285.4 763.7 283.4 778.8 281.8 793.8 280.7 808.9 280.2 824.0 280.6 829.5 281.4 835.0 283.0 840.5 284.7 846.0 285.8 851.5 285.7 857.0 283.9 862.5 280.4 868.0 275.9 873.5 272.1 879.0 270.9 884.5 274.1 890.0 282.8 895.5 295.9 901.0 310.1 906.5 319.8 912.0 319.6 917.5 307.9 923.0 288.9 928.5 271.7 934.0 265.7 939.5 272.1 945.0 280.1 950.5 278.0 956.0 273.0 961.5 280.9 967.0 299.6 972.5 306.8 978.0 288.7 983.5 260.1 989.0 248.5 994.5 261.8 1000.0 281.1 1005.5 287.2 1011.0 283.3 1016.5 286.4 1022.0 298.6 1027.5 302.6 1033.0 285.8 1038.5 261.7 1044.0 256.4 1049.5 277.1 1055.0 302.5 1060.5 309.7 1066.0 299.9 1071.5 292.2 1077.0 294.2 1082.5 293.4 1085.5 286.5"/>
<path d="M688.3 266.5 703.4 270.3 718.5 274.4 733.5 278.9 748.6 283.3 763.7 287.5 778.8 291.2 793.8 294.3 808.9 296.4 824.0 297.4 829.5 296.8 835.0 295.0 840.5 292.5 846.0 289.7 851.5 287.3 857.0 285.6 862.5 285.0 868.0 285.1 873.5 285.6 879.0 285.8 884.5 285.1 890.0 283.6 895.5 282.1 901.0 281.9 906.5 283.9 912.0 287.6 917.5 290.1 923.0 287.0 928.5 275.7 934.0 259.4 939.5 249.2 945.0 256.4 950.5 278.1 956.0 292.7 961.5 289.1 967.0 278.3 972.5 276.1 978.0 283.5 983.5 290.5 989.0 292.8 994.5 295.3 1000.0 298.9 1005.5 294.8 1011.0 277.8 1016.5 259.7 1022.0 258.0 1027.5 273.7 1033.0 287.5 1038.5 283.3 1044.0 267.7 1049.5 260.1 1055.0 268.4 1060.5 282.4 1066.0 290.8 1071.5 294.5 1077.0 298.3 1082.5 298.9 1085.5 295.1"/>
<path d="M688.3 246.7 703.4 249.6 718.5 252.1 733.5 254.3 748.6 256.5 763.7 259.0 778.8 261.8 793.8 265.3 808.9 269.6 824.0 275.0 829.5 277.9 835.0 279.9 840.5 280.9 846.0 280.9 851.5 280.7 857.0 280.9 862.5 282.1 868.0 284.7 873.5 287.9 879.0 290.3 884.5 289.9 890.0 285.5 895.5 277.2 901.0 268.2 906.5 263.0 912.0 265.7 917.5 275.8 923.0 288.3 928.5 297.3 934.0 302.6 939.5 310.7 945.0 323.7 950.5 327.4 956.0 309.9 961.5 287.2 967.0 278.8 972.5 279.5 978.0 276.0 983.5 273.7 989.0 284.0 994.5 296.0 1000.0 290.4 1005.5 271.7 1011.0 261.0 1016.5 262.3 1022.0 262.6 1027.5 262.6 1033.0 277.1 1038.5 303.6 1044.0 319.2 1049.5 315.1 1055.0 306.8 1060.5 304.7 1066.0 298.6 1071.5 282.6 1077.0 268.3 1082.5 269.8 1085.5 272.0"/>
<path d="M688.3 271.5 703.4 274.6 718.5 279.0 733.5 284.0 748.6 289.0 763.7 293.4 778.8 296.5 793.8 297.8 808.9 296.7 824.0 292.5 829.5 288.3 835.0 283.3 840.5 278.1 846.0 273.2 851.5 269.5 857.0 267.4 862.5 267.1 868.0 268.5 873.5 271.0 879.0 273.9 884.5 276.6 890.0 278.8 895.5 281.1 901.0 284.6 906.5 290.3 912.0 298.1 917.5 305.6 923.0 308.6 928.5 302.6 934.0 287.6 939.5 271.2 945.0 266.3 950.5 279.5 956.0 298.3 961.5 306.6 967.0 302.8 972.5 296.2 978.0 291.6 983.5 284.6 989.0 272.3 994.5 263.6 1000.0 270.2 1005.5 289.5 1011.0 304.0 1016.5 299.4 1022.0 280.3 1027.5 264.5 1033.0 262.1 1038.5 267.7 1044.0 272.5 1049.5 276.9 1055.0 286.4 1060.5 298.3 1066.0 300.4 1071.5 285.0 1077.0 260.8 1082.5 249.0 1085.5 251.0"/>
<path d="M688.3 233.5 703.4 234.9 718.5 235.6 733.5 235.9 748.6 236.2 763.7 236.9 778.8 238.3 793.8 240.7 808.9 244.6 824.0 250.3 829.5 253.9 835.0 258.5 840.5 263.9 846.0 269.7 851.5 275.3 857.0 280.3 862.5 284.3 868.0 287.0 873.5 288.2 879.0 288.0 884.5 286.7 890.0 284.5 895.5 281.9 901.0 278.9 906.5 275.6 912.0 272.2 917.5 269.1 923.0 267.6 928.5 269.3 934.0 275.4 939.5 284.6 945.0 291.2 950.5 286.5 956.0 268.6 961.5 247.0 967.0 235.0 972.5 238.9 978.0 253.7 983.5 267.8 989.0 273.5 994.5 271.0 1000.0 265.8 1005.5 261.9 1011.0 260.3 1016.5 261.3 1022.0 267.3 1027.5 279.7 1033.0 294.7 1038.5 303.2 1044.0 297.6 1049.5 279.4 1055.0 259.8 1060.5 251.1 1066.0 256.8 1071.5 267.6 1077.0 267.8 1082.5 255.7 1085.5 244.9"/>
<path d="M688.3 228.2 703.4 233.5 718.5 239.0 733.5 244.4 748.6 249.9 763.7 255.3 778.8 260.6 793.8 265.7 808.9 270.6 824.0 275.1 829.5 276.5 835.0 278.7 840.5 281.4 846.0 284.3 851.5 286.9 857.0 288.5 862.5 288.5 868.0 286.5 873.5 282.5 879.0 277.2 884.5 271.4 890.0 266.9 895.5 265.2 901.0 267.1 906.5 272.5 912.0 279.1 917.5 283.5 923.0 282.6 928.5 276.0 934.0 266.9 939.5 261.8 945.0 265.6 950.5 275.0 956.0 280.1 961.5 277.6 967.0 273.1 972.5 273.1 978.0 277.4 983.5 280.6 989.0 280.6 994.5 280.5 1000.0 283.2 1005.5 286.2 1011.0 284.2 1016.5 277.6 1022.0 273.2 1027.5 276.6 1033.0 284.3 1038.5 286.0 1044.0 277.2 1049.5 265.4 1055.0 262.3 1060.5 270.9 1066.0 281.1 1071.5 280.9 1077.0 269.0 1082.5 257.8 1085.5 255.9"/>
<path d="M688.3 286.9 703.4 288.3 718.5 289.6 733.5 290.9 748.6 292.1 763.7 293.4 778.8 294.8 793.8 296.3 808.9 297.9 824.0 299.7 829.5 300.5 835.0 301.8 840.5 303.6 846.0 305.5 851.5 307.3 857.0 308.3 862.5 308.1 868.0 306.2 873.5 302.8 879.0 298.5 884.5 294.3 890.0 291.6 895.5 291.1 901.0 292.7 906.5 294.9 912.0 295.7 917.5 294.2 923.0 291.3 928.5 290.1 934.0 292.8 939.5 296.8 945.0 295.1 950.5 284.6 956.0 274.1 961.5 270.7 967.0 269.8 972.5 265.0 978.0 260.4 983.5 264.4 989.0 275.0 994.5 281.7 1000.0 280.5 1005.5 279.0 1011.0 282.4 1016.5 285.5 1022.0 282.0 1027.5 277.2 1033.0 280.7 1038.5 291.6 1044.0 299.9 1049.5 302.0 1055.0 304.3 1060.5 310.7 1066.0 314.2 1071.5 307.7 1077.0 295.3 1082.5 288.3 1085.5 287.4"/>
<path d="M688.3 261.2 703.4 261.5 718.5 262.0 733.5 262.6 748.6 263.2 763.7 263.7 778.8 264.0 793.8 263.9 808.9 263.4 824.0 262.4 829.5 261.6 835.0 262.5 840.5 265.8 846.0 271.7 851.5 280.0 857.0 289.8 862.5 300.0 868.0 308.7 873.5 313.9 879.0 314.1 884.5 308.4 890.0 297.6 895.5 284.3 901.0 272.2 906.5 265.7 912.0 267.3 917.5 275.7 923.0 285.8 928.5 290.7 934.0 287.0 939.5 279.4 945.0 279.6 950.5 294.1 956.0 307.6 961.5 300.1 967.0 271.5 972.5 244.5 978.0 241.0 983.5 258.8 989.0 276.1 994.5 276.5 1000.0 265.9 1005.5 262.5 1011.0 271.8 1016.5 279.3 1022.0 269.1 1027.5 245.8 1033.0 232.2 1038.5 244.9 1044.0 274.9 1049.5 296.5 1055.0 295.1 1060.5 281.1 1066.0 274.9 1071.5 282.9 1077.0 292.6 1082.5 288.5 1085.5 281.8"/>
<path d="M688.3 234.4 703.4 240.5 718.5 246.8 733.5 253.3 748.6 259.8 763.7 266.1 778.8 272.2 793.8 277.8 808.9 282.9 824.0 287.3 829.5 288.2 835.0 288.6 840.5 287.9 846.0 285.7 851.5 281.7 857.0 275.8 862.5 268.5 868.0 260.8 873.5 254.2 879.0 250.4 884.5 250.9 890.0 256.7 895.5 267.3 901.0 280.5 906.5 292.2 912.0 297.4 917.5 293.1 923.0 279.8 928.5 262.7 934.0 250.3 939.5 249.1 945.0 257.6 950.5 265.9 956.0 267.0 961.5 267.5 967.0 276.4 972.5 290.4 978.0 295.1 983.5 282.1 989.0 260.9 994.5 252.0 1000.0 266.2 1005.5 292.6 1011.0 309.6 1016.5 306.2 1022.0 290.9 1027.5 280.2 1033.0 279.8 1038.5 281.9 1044.0 277.5 1049.5 270.1 1055.0 271.7 1060.5 286.2 1066.0 301.2 1071.5 298.5 1077.0 273.0 1082.5 242.9 1085.5 232.6"/>
<path d="M688.3 306.5 703.4 306.7 718.5 307.9 733.5 309.5 748.6 311.1 763.7 312.3 778.8 312.5 793.8 311.4 808.9 308.3 824.0 302.9 829.5 298.9 835.0 294.1 840.5 290.0 846.0 288.2 851.5 289.7 857.0 294.3 862.5 300.4 868.0 305.1 873.5 304.9 879.0 297.5 884.5 283.2 890.0 265.7 895.5 251.7 901.0 246.9 906.5 252.6 912.0 262.0 917.5 264.6 923.0 256.2 928.5 246.7 934.0 254.5 939.5 283.5 945.0 307.9 950.5 302.2 956.0 290.9 961.5 303.2 967.0 315.1 972.5 297.2 978.0 274.1 983.5 282.5 989.0 304.8 994.5 302.8 1000.0 287.6 1005.5 294.8 1011.0 313.2 1016.5 302.8 1022.0 269.5 1027.5 256.1 1033.0 266.1 1038.5 262.5 1044.0 242.6 1049.5 245.5 1055.0 278.6 1060.5 300.0 1066.0 292.8 1071.5 290.4 1077.0 308.9 1082.5 315.0 1085.5 303.6"/>
<path d="M688.3 298.6 703.4 297.3 718.5 296.3 733.5 295.3 748.6 294.4 763.7 293.4 778.8 292.1 793.8 290.5 808.9 288.4 824.0 285.7 829.5 284.2 835.0 283.2 840.5 282.9 846.0 283.4 851.5 284.6 857.0 286.2 862.5 287.7 868.0 288.6 873.5 288.5 879.0 287.1 884.5 284.6 890.0 281.7 895.5 279.3 901.0 278.3 906.5 278.7 912.0 279.6 917.5 279.1 923.0 275.8 928.5 270.0 934.0 265.0 939.5 265.0 945.0 270.7 950.5 274.7 956.0 269.1 961.5 259.1 967.0 257.2 972.5 268.0 978.0 280.6 983.5 281.1 989.0 270.1 994.5 263.0 1000.0 271.8 1005.5 289.6 1011.0 298.3 1016.5 289.8 1022.0 276.6 1027.5 276.2 1033.0 290.6 1038.5 303.5 1044.0 300.2 1049.5 284.8 1055.0 274.8 1060.5 279.9 1066.0 291.1 1071.5 292.0 1077.0 276.9 1082.5 259.5 1085.5 254.0"/>
<path d="M688.3 291.1 703.4 290.5 718.5 289.3 733.5 287.8 748.6 286.4 763.7 285.2 778.8 284.6 793.8 284.8 808.9 286.3 824.0 289.2 829.5 291.6 835.0 292.8 840.5 292.3 846.0 289.8 851.5 285.7 857.0 281.3 862.5 278.2 868.0 278.2 873.5 281.8 879.0 288.3 884.5 295.0 890.0 298.8 895.5 297.4 901.0 292.0 906.5 286.5 912.0 285.5 917.5 289.1 923.0 291.0 928.5 283.5 934.0 268.7 939.5 261.0 945.0 269.0 950.5 276.2 956.0 268.0 961.5 261.7 967.0 268.1 972.5 267.2 978.0 250.7 983.5 242.2 989.0 252.8 994.5 260.6 1000.0 255.2 1005.5 255.9 1011.0 268.4 1016.5 270.3 1022.0 257.0 1027.5 253.7 1033.0 267.3 1038.5 275.3 1044.0 271.9 1049.5 277.7 1055.0 293.1 1060.5 294.5 1066.0 281.1 1071.5 280.2 1077.0 298.7 1082.5 310.4 1085.5 312.1"/>
<path d="M688.3 311.7 703.4 312.6 718.5 315.1 733.5 318.5 748.6 321.8 763.7 324.3 778.8 325.2 793.8 323.6 808.9 318.6 824.0 309.5 829.5 302.6 835.0 292.9 840.5 282.6 846.0 274.3 851.5 270.4 857.0 272.0 862.5 278.2 868.0 286.1 873.5 291.7 879.0 291.9 884.5 287.1 890.0 281.7 895.5 282.8 901.0 295.2 906.5 315.0 912.0 329.0 917.5 323.4 923.0 298.3 928.5 273.3 934.0 271.3 939.5 287.5 945.0 290.1 950.5 277.7 956.0 291.4 961.5 319.3 967.0 307.7 972.5 268.2 978.0 259.1 983.5 277.5 989.0 276.6 994.5 266.4 1000.0 286.3 1005.5 310.4 1011.0 290.8 1016.5 254.4 1022.0 255.3 1027.5 275.5 1033.0 272.4 1038.5 268.0 1044.0 294.4 1049.5 314.0 1055.0 288.3 1060.5 257.8 1066.0 267.9 1071.5 287.2 1077.0 279.9 1082.5 278.5 1085.5 291.4"/>
<path d="M688.3 222.2 703.4 226.0 718.5 228.7 733.5 230.9 748.6 233.0 763.7 235.7 778.8 239.5 793.8 244.9 808.9 252.3 824.0 262.5 829.5 268.5 835.0 274.5 840.5 279.3 846.0 282.0 851.5 281.8 857.0 278.7 862.5 273.4 868.0 267.2 873.5 262.1 879.0 259.3 884.5 259.4 890.0 260.9 895.5 261.1 901.0 256.9 906.5 247.1 912.0 235.1 917.5 227.9 923.0 233.3 928.5 253.0 934.0 277.0 939.5 288.0 945.0 277.6 950.5 261.5 956.0 261.7 961.5 271.2 967.0 270.8 972.5 264.3 978.0 273.5 983.5 301.2 989.0 319.9 994.5 308.6 1000.0 282.4 1005.5 271.4 1011.0 280.4 1016.5 287.5 1022.0 281.8 1027.5 278.7 1033.0 291.1 1038.5 303.0 1044.0 289.8 1049.5 257.4 1055.0 237.4 1060.5 245.5 1066.0 262.5 1071.5 264.4 1077.0 254.8 1082.5 254.3 1085.5 258.5"/>
<path d="M688.3 258.7 703.4 262.2 718.5 266.9 733.5 272.4 748.6 277.8 763.7 282.5 778.8 286.0 793.8 287.4 808.9 286.2 824.0 281.7 829.5 277.2 835.0 272.6 840.5 268.5 846.0 265.7 851.5 265.1 857.0 266.9 862.5 271.5 868.0 278.3 873.5 286.0 879.0 293.0 884.5 297.3 890.0 297.1 895.5 291.9 901.0 282.7 906.5 272.2 912.0 264.4 917.5 262.1 923.0 265.2 928.5 270.2 934.0 272.1 939.5 269.3 945.0 267.1 950.5 273.6 956.0 285.0 961.5 287.1 967.0 273.4 972.5 255.9 978.0 253.3 983.5 269.4 989.0 289.0 994.5 294.7 1000.0 286.1 1005.5 277.0 1011.0 277.5 1016.5 282.7 1022.0 282.3 1027.5 276.8 1033.0 277.6 1038.5 290.8 1044.0 306.3 1049.5 307.3 1055.0 290.6 1060.5 272.1 1066.0 269.5 1071.5 285.0 1077.0 307.2 1082.5 318.9 1085.5 321.3"/>
<path d="M688.3 293.3 703.4 293.3 718.5 293.0 733.5 292.5 748.6 292.0 763.7 291.6 778.8 291.6 793.8 292.2 808.9 293.4 824.0 295.5 829.5 297.0 835.0 296.8 840.5 294.8 846.0 290.9 851.5 285.6 857.0 280.0 862.5 275.1 868.0 272.2 873.5 271.7 879.0 273.6 884.5 276.6 890.0 279.3 895.5 280.8 901.0 281.0 906.5 281.3 912.0 283.5 917.5 287.0 923.0 288.4 928.5 283.4 934.0 272.5 939.5 264.9 945.0 271.4 950.5 288.0 956.0 295.1 961.5 289.5 967.0 284.1 972.5 284.5 978.0 283.3 983.5 281.0 989.0 287.9 994.5 302.5 1000.0 307.6 1005.5 295.7 1011.0 282.9 1016.5 284.4 1022.0 293.8 1027.5 297.7 1033.0 297.5 1038.5 299.9 1044.0 299.2 1049.5 287.8 1055.0 275.5 1060.5 278.6 1066.0 293.0 1071.5 299.4 1077.0 293.1 1082.5 286.4 1085.5 286.2"/>
<path d="M688.3 294.0 703.4 290.5 718.5 286.7 733.5 282.7 748.6 278.6 763.7 274.8 778.8 271.3 793.8 268.4 808.9 266.2 824.0 264.8 829.5 265.1 835.0 266.9 840.5 270.4 846.0 275.1 851.5 280.4 857.0 285.3 862.5 288.7 868.0 289.6 873.5 287.6 879.0 283.1 884.5 277.4 890.0 272.5 895.5 270.3 901.0 271.7 906.5 276.0 912.0 280.8 917.5 283.8 923.0 285.1 928.5 288.1 934.0 296.2 939.5 307.8 945.0 312.4 950.5 300.8 956.0 283.2 961.5 277.7 967.0 285.3 972.5 291.7 978.0 289.0 983.5 284.7 989.0 285.0 994.5 282.9 1000.0 270.5 1005.5 255.9 1011.0 255.7 1016.5 271.5 1022.0 286.6 1027.5 288.2 1033.0 282.8 1038.5 282.4 1044.0 286.0 1049.5 284.7 1055.0 280.4 1060.5 285.5 1066.0 301.9 1071.5 316.2 1077.0 320.1 1082.5 315.6 1085.5 315.8"/>
<path d="M688.3 205.3 703.4 214.2 718.5 224.9 733.5 236.4 748.6 247.9 763.7 258.6 778.8 267.6 793.8 274.0 808.9 277.0 824.0 275.7 829.5 271.6 835.0 267.1 840.5 263.0 846.0 260.3 851.5 259.3 857.0 260.2 862.5 262.4 868.0 264.6 873.5 265.6 879.0 264.6 884.5 262.1 890.0 259.7 895.5 260.4 901.0 266.1 906.5 276.3 912.0 286.5 917.5 291.1 923.0 288.1 928.5 282.0 934.0 280.8 939.5 286.2 945.0 287.6 950.5 278.5 956.0 274.4 961.5 286.9 967.0 301.0 972.5 301.6 978.0 298.5 983.5 304.5 989.0 309.0 994.5 297.8 1000.0 282.3 1005.5 281.0 1011.0 288.2 1016.5 286.7 1022.0 280.8 1027.5 285.9 1033.0 296.3 1038.5 292.7 1044.0 276.8 1049.5 268.2 1055.0 269.8 1060.5 265.5 1066.0 254.6 1071.5 254.8 1077.0 269.1 1082.5 277.8 1085.5 275.9"/>
<path d="M688.3 289.5 703.4 289.8 718.5 290.9 733.5 292.4 748.6 293.8 763.7 294.9 778.8 295.2 793.8 294.4 808.9 292.2 824.0 288.1 829.5 285.0 835.0 282.1 840.5 279.8 846.0 278.5 851.5 278.4 857.0 279.6 862.5 281.6 868.0 283.8 873.5 285.7 879.0 286.6 884.5 286.3 890.0 284.8 895.5 282.9 901.0 281.3 906.5 280.3 912.0 279.3 917.5 277.2 923.0 272.6 928.5 266.3 934.0 262.1 939.5 265.3 945.0 276.4 950.5 285.3 956.0 279.6 961.5 264.3 967.0 258.1 972.5 272.1 978.0 294.8 983.5 303.5 989.0 290.0 994.5 271.0 1000.0 269.0 1005.5 286.6 1011.0 304.0 1016.5 302.0 1022.0 283.4 1027.5 267.7 1033.0 268.5 1038.5 279.5 1044.0 285.2 1049.5 279.5 1055.0 270.1 1060.5 266.3 1066.0 267.8 1071.5 268.9 1077.0 267.4 1082.5 268.7 1085.5 271.2"/>
<path d="M688.3 220.7 703.4 225.7 718.5 231.1 733.5 236.7 748.6 242.3 763.7 247.7 778.8 252.8 793.8 257.3 808.9 261.0 824.0 263.9 829.5 264.1 835.0 265.4 840.5 267.8 846.0 271.4 851.5 275.4 857.0 278.6 862.5 279.7 868.0 277.7 873.5 272.7 879.0 265.8 884.5 259.0 890.0 254.5 895.5 252.8 901.0 252.6 906.5 251.0 912.0 246.9 917.5 242.9 923.0 245.0 928.5 256.3 934.0 271.2 939.5 278.4 945.0 276.4 950.5 277.0 956.0 279.7 961.5 270.6 967.0 256.5 972.5 257.1 978.0 269.1 983.5 275.6 989.0 279.7 994.5 292.6 1000.0 303.1 1005.5 295.7 1011.0 281.5 1016.5 277.2 1022.0 275.7 1027.5 267.8 1033.0 266.5 1038.5 280.7 1044.0 293.4 1049.5 291.4 1055.0 286.6 1060.5 286.6 1066.0 278.4 1071.5 259.2 1077.0 248.1 1082.5 252.5 1085.5 255.6"/>
<path d="M688.3 285.7 703.4 285.6 718.5 286.4 733.5 287.7 748.6 289.1 763.7 289.9 778.8 289.8 793.8 288.3 808.9 284.9 824.0 279.2 829.5 275.1 835.0 270.2 840.5 264.9 846.0 259.9 851.5 255.6 857.0 252.8 862.5 251.7 868.0 252.8 873.5 255.9 879.0 260.9 884.5 266.9 890.0 273.1 895.5 278.4 901.0 281.7 906.5 281.9 912.0 278.7 917.5 272.4 923.0 264.5 928.5 257.8 934.0 256.1 939.5 263.1 945.0 278.6 950.5 294.5 956.0 297.3 961.5 283.7 967.0 264.8 972.5 257.7 978.0 270.1 983.5 292.4 989.0 305.1 994.5 296.4 1000.0 273.3 1005.5 255.2 1011.0 256.3 1016.5 273.3 1022.0 289.8 1027.5 291.2 1033.0 276.9 1038.5 258.9 1044.0 250.0 1049.5 254.3 1055.0 266.5 1060.5 277.4 1066.0 280.5 1071.5 274.3 1077.0 262.3 1082.5 252.4 1085.5 250.8"/>
<path d="M688.3 301.8 703.4 299.1 718.5 294.5 733.5 289.0 748.6 283.5 763.7 278.9 778.8 276.2 793.8 276.3 808.9 280.1 824.0 288.6 829.5 295.7 835.0 300.8 840.5 301.8 846.0 297.6 851.5 288.4 857.0 276.1 862.5 264.7 868.0 258.7 873.5 261.6 879.0 273.8 884.5 291.6 890.0 307.6 895.5 314.8 901.0 310.6 906.5 299.7 912.0 291.8 917.5 292.0 923.0 294.9 928.5 290.6 934.0 281.8 939.5 288.4 945.0 314.3 950.5 318.4 956.0 280.8 961.5 257.2 967.0 279.2 972.5 300.7 978.0 289.1 983.5 274.9 989.0 274.7 994.5 264.6 1000.0 251.2 1005.5 269.1 1011.0 298.4 1016.5 286.7 1022.0 250.2 1027.5 249.4 1033.0 280.9 1038.5 293.6 1044.0 285.5 1049.5 287.6 1055.0 289.8 1060.5 274.3 1066.0 273.1 1071.5 306.3 1077.0 324.8 1082.5 294.9 1085.5 273.5"/>
<path d="M688.3 298.2 703.4 297.8 718.5 296.7 733.5 295.2 748.6 293.6 763.7 292.5 778.8 292.1 793.8 293.0 808.9 295.4 824.0 299.8 829.5 303.2 835.0 306.4 840.5 308.7 846.0 308.9 851.5 306.2 857.0 300.2 862.5 291.1 868.0 280.0 873.5 268.6 879.0 259.6 884.5 254.9 890.0 255.7 895.5 261.2 901.0 268.6 906.5 274.3 912.0 275.6 917.5 273.7 923.0 273.5 928.5 281.2 934.0 296.7 939.5 309.9 945.0 306.0 950.5 284.9 956.0 270.9 961.5 278.6 967.0 295.4 972.5 302.1 978.0 301.1 983.5 309.3 989.0 329.1 994.5 339.9 1000.0 325.9 1005.5 299.5 1011.0 286.1 1016.5 291.3 1022.0 297.4 1027.5 291.9 1033.0 285.5 1038.5 293.9 1044.0 310.2 1049.5 311.0 1055.0 288.9 1060.5 263.8 1066.0 257.5 1071.5 265.9 1077.0 268.8 1082.5 262.8 1085.5 261.5"/>
<path d="M688.3 349.0 703.4 345.5 718.5 342.6 733.5 340.0 748.6 337.4 763.7 334.5 778.8 331.0 793.8 326.5 808.9 320.8 824.0 313.5 829.5 309.5 835.0 302.9 840.5 294.3 846.0 284.9 851.5 275.9 857.0 269.3 862.5 266.6 868.0 268.7 873.5 275.7 879.0 286.0 884.5 297.1 890.0 305.6 895.5 308.6 901.0 305.0 906.5 296.4 912.0 287.1 917.5 281.4 923.0 280.5 928.5 279.9 934.0 273.0 939.5 258.4 945.0 248.3 950.5 259.8 956.0 286.4 961.5 298.4 967.0 280.2 972.5 250.6 978.0 240.2 983.5 255.2 989.0 274.6 994.5 280.1 1000.0 278.3 1005.5 284.0 1011.0 294.7 1016.5 292.6 1022.0 273.7 1027.5 260.0 1033.0 273.7 1038.5 306.6 1044.0 327.3 1049.5 317.7 1055.0 293.7 1060.5 282.3 1066.0 288.8 1071.5 293.6 1077.0 280.2 1082.5 264.4 1085.5 260.5"/>
<path d="M688.3 249.7 703.4 255.3 718.5 262.1 733.5 269.4 748.6 276.8 763.7 283.6 778.8 289.2 793.8 293.1 808.9 294.7 824.0 293.5 829.5 290.5 835.0 287.1 840.5 284.5 846.0 284.0 851.5 285.9 857.0 289.6 862.5 293.0 868.0 293.7 873.5 289.6 879.0 280.6 884.5 269.8 890.0 262.6 895.5 264.5 901.0 277.2 906.5 295.3 912.0 307.8 917.5 306.6 923.0 294.8 928.5 286.0 934.0 288.8 939.5 291.8 945.0 276.3 950.5 258.2 956.0 272.4 961.5 299.6 967.0 297.9 972.5 278.1 978.0 275.7 983.5 280.9 989.0 267.2 994.5 255.1 1000.0 275.4 1005.5 302.9 1011.0 298.4 1016.5 278.6 1022.0 278.7 1027.5 285.7 1033.0 274.4 1038.5 267.2 1044.0 290.2 1049.5 313.9 1055.0 302.9 1060.5 279.9 1066.0 279.5 1071.5 286.4 1077.0 280.1 1082.5 281.7 1085.5 295.9"/>
<path d="M688.3 300.6 703.4 300.2 718.5 299.8 733.5 299.6 748.6 299.3 763.7 299.0 778.8 298.6 793.8 298.0 808.9 297.3 824.0 296.4 829.5 295.8 835.0 294.1 840.5 291.5 846.0 288.3 851.5 285.3 857.0 283.3 862.5 283.1 868.0 285.0 873.5 289.1 879.0 294.4 884.5 299.4 890.0 302.6 895.5 302.8 901.0 299.9 906.5 295.8 912.0 293.1 917.5 294.3 923.0 298.4 928.5 301.1 934.0 296.9 939.5 285.4 945.0 274.9 950.5 276.0 956.0 284.9 961.5 287.2 967.0 279.7 972.5 273.5 978.0 276.5 983.5 280.7 989.0 274.5 994.5 261.0 1000.0 254.8 1005.5 262.0 1011.0 271.6 1016.5 271.6 1022.0 265.8 1027.5 266.5 1033.0 275.0 1038.5 279.1 1044.0 271.8 1049.5 262.6 1055.0 265.0 1060.5 277.8 1066.0 286.6 1071.5 285.0 1077.0 281.6 1082.5 286.7 1085.5 291.7"/>
<path d="M688.3 329.4 703.4 323.8 718.5 316.5 733.5 308.3 748.6 300.1 763.7 292.8 778.8 287.2 793.8 284.2 808.9 284.6 824.0 289.4 829.5 294.8 835.0 299.1 840.5 301.5 846.0 301.3 851.5 298.3 857.0 292.7 862.5 285.2 868.0 277.3 873.5 270.5 879.0 266.4 884.5 266.2 890.0 270.0 895.5 276.2 901.0 282.0 906.5 284.1 912.0 280.1 917.5 271.1 923.0 262.1 928.5 260.9 934.0 273.4 939.5 296.7 945.0 316.4 950.5 315.1 956.0 294.9 961.5 277.9 967.0 279.3 972.5 292.3 978.0 297.6 983.5 287.3 989.0 274.1 994.5 276.6 1000.0 295.9 1005.5 312.6 1011.0 307.5 1016.5 282.6 1022.0 259.9 1027.5 257.6 1033.0 271.5 1038.5 281.9 1044.0 277.1 1049.5 266.6 1055.0 268.9 1060.5 288.3 1066.0 307.7 1071.5 305.8 1077.0 278.9 1082.5 250.8 1085.5 243.1"/>
<path d="M688.3 295.5 703.4 293.0 718.5 291.8 733.5 291.1 748.6 290.5 763.7 289.3 778.8 286.8 793.8 282.4 808.9 275.5 824.0 265.5 829.5 259.2 835.0 254.8 840.5 253.5 846.0 255.8 851.5 261.8 857.0 270.4 862.5 279.8 868.0 287.7 873.5 291.6 879.0 290.0 884.5 283.1 890.0 273.1 895.5 264.2 901.0 260.5 906.5 264.0 912.0 272.0 917.5 277.6 923.0 274.4 928.5 262.9 934.0 254.2 939.5 263.6 945.0 291.4 950.5 311.1 956.0 298.4 961.5 271.1 967.0 262.5 972.5 275.5 978.0 283.6 983.5 273.0 989.0 262.9 994.5 273.4 1000.0 291.4 1005.5 287.1 1011.0 259.6 1016.5 241.6 1022.0 255.5 1027.5 283.5 1033.0 293.2 1038.5 282.5 1044.0 277.2 1049.5 288.6 1055.0 295.9 1060.5 280.2 1066.0 257.1 1071.5 256.9 1077.0 279.4 1082.5 293.2 1085.5 287.5"/>
<path d="M688.3 244.6 703.4 246.0 718.5 248.0 733.5 250.2 748.6 252.5 763.7 254.5 778.8 255.9 793.8 256.4 808.9 255.7 824.0 253.6 829.5 251.6 835.0 251.1 840.5 252.8 846.0 257.1 851.5 263.7 857.0 271.7 862.5 279.6 868.0 285.5 873.5 288.1 879.0 287.1 884.5 283.6 890.0 279.9 895.5 278.4 901.0 279.6 906.5 281.2 912.0 279.7 917.5 273.5 923.0 266.7 928.5 268.0 934.0 282.1 939.5 300.8 945.0 307.5 950.5 299.8 956.0 294.4 961.5 292.0 967.0 278.3 972.5 259.1 978.0 257.2 983.5 272.7 989.0 281.8 994.5 276.5 1000.0 272.5 1005.5 273.8 1011.0 264.9 1016.5 246.0 1022.0 240.3 1027.5 256.4 1033.0 273.7 1038.5 278.4 1044.0 282.5 1049.5 292.6 1055.0 293.0 1060.5 276.8 1066.0 265.3 1071.5 274.5 1077.0 289.4 1082.5 293.3 1085.5 293.2"/>
<path d="M688.3 266.0 703.4 266.3 718.5 265.9 733.5 265.3 748.6 264.7 763.7 264.4 778.8 264.6 793.8 265.7 808.9 268.0 824.0 271.7 829.5 274.2 835.0 276.4 840.5 276.8 846.0 274.3 851.5 268.5 857.0 260.3 862.5 251.5 868.0 245.3 873.5 244.5 879.0 250.9 884.5 263.8 890.0 279.2 895.5 290.9 901.0 293.3 906.5 285.3 912.0 272.5 917.5 265.3 923.0 270.2 928.5 281.6 934.0 282.8 939.5 263.3 945.0 240.2 950.5 247.2 956.0 277.9 961.5 292.2 967.0 284.5 972.5 289.0 978.0 315.2 983.5 327.9 989.0 305.8 994.5 279.7 1000.0 283.2 1005.5 299.9 1011.0 295.9 1016.5 280.4 1022.0 289.4 1027.5 320.1 1033.0 331.2 1038.5 309.1 1044.0 288.3 1049.5 292.0 1055.0 294.8 1060.5 271.2 1066.0 244.7 1071.5 250.0 1077.0 271.7 1082.5 271.9 1085.5 259.8"/>
<path d="M688.3 255.2 703.4 256.5 718.5 257.1 733.5 257.2 748.6 257.4 763.7 257.9 778.8 259.3 793.8 261.7 808.9 265.8 824.0 271.8 829.5 275.7 835.0 279.5 840.5 282.8 846.0 285.0 851.5 285.7 857.0 284.7 862.5 282.4 868.0 279.5 873.5 277.0 879.0 275.9 884.5 277.0 890.0 280.2 895.5 284.4 901.0 287.9 906.5 288.8 912.0 286.6 917.5 283.6 923.0 283.3 928.5 288.6 934.0 298.1 939.5 304.5 945.0 300.3 950.5 288.0 956.0 280.3 961.5 280.8 967.0 280.2 972.5 271.8 978.0 262.7 983.5 263.7 989.0 272.5 994.5 275.6 1000.0 266.8 1005.5 255.2 1011.0 252.0 1016.5 255.0 1022.0 253.6 1027.5 246.2 1033.0 243.7 1038.5 253.5 1044.0 267.5 1049.5 272.5 1055.0 267.6 1060.5 264.5 1066.0 269.9 1071.5 275.7 1077.0 270.7 1082.5 260.8 1085.5 258.0"/>
<path d="M688.3 272.3 703.4 273.6 718.5 276.1 733.5 279.2 748.6 282.3 763.7 284.8 778.8 286.1 793.8 285.7 808.9 283.1 824.0 277.5 829.5 273.0 835.0 267.7 840.5 262.2 846.0 257.2 851.5 253.6 857.0 252.0 862.5 252.8 868.0 255.9 873.5 260.8 879.0 266.4 884.5 271.4 890.0 274.6 895.5 275.5 901.0 274.7 906.5 273.8 912.0 275.2 917.5 280.5 923.0 288.7 928.5 295.6 934.0 295.4 939.5 285.0 945.0 270.2 950.5 266.4 956.0 282.2 961.5 304.9 967.0 312.8 972.5 297.0 978.0 270.4 983.5 255.1 989.0 260.5 994.5 276.0 1000.0 283.5 1005.5 276.6 1011.0 264.7 1016.5 260.0 1022.0 263.2 1027.5 264.5 1033.0 257.6 1038.5 249.4 1044.0 253.2 1049.5 271.6 1055.0 291.0 1060.5 293.5 1066.0 276.6 1071.5 256.8 1077.0 253.3 1082.5 270.4 1085.5 282.9"/>
<path d="M688.3 273.3 703.4 275.8 718.5 277.6 733.5 279.0 748.6 280.4 763.7 282.2 778.8 284.7 793.8 288.2 808.9 293.1 824.0 299.8 829.5 303.7 835.0 304.8 840.5 302.7 846.0 297.2 851.5 289.1 857.0 280.0 862.5 271.8 868.0 266.7 873.5 266.3 879.0 271.0 884.5 279.6 890.0 289.0 895.5 295.8 901.0 297.2 906.5 293.3 912.0 287.6 917.5 285.3 923.0 288.7 928.5 293.5 934.0 290.4 939.5 274.5 945.0 257.8 950.5 263.1 956.0 288.7 961.5 301.9 967.0 284.3 972.5 256.3 978.0 249.3 983.5 264.2 989.0 275.9 994.5 271.7 1000.0 266.4 1005.5 273.2 1011.0 280.0 1016.5 269.1 1022.0 249.8 1027.5 250.2 1033.0 276.7 1038.5 300.5 1044.0 294.9 1049.5 270.4 1055.0 259.6 1060.5 272.6 1066.0 288.3 1071.5 286.5 1077.0 270.9 1082.5 263.3 1085.5 261.3"/>
<path d="M688.3 293.4 703.4 292.0 718.5 290.8 733.5 289.7 748.6 288.5 763.7 287.3 778.8 285.9 793.8 284.2 808.9 282.1 824.0 279.6 829.5 278.2 835.0 277.2 840.5 276.7 846.0 276.8 851.5 277.3 857.0 277.9 862.5 278.0 868.0 277.0 873.5 274.5 879.0 270.8 884.5 266.5 890.0 263.3 895.5 262.9 901.0 266.6 906.5 274.2 912.0 283.3 917.5 290.3 923.0 292.3 928.5 289.8 934.0 286.6 939.5 286.8 945.0 288.9 950.5 286.7 956.0 280.2 961.5 278.8 967.0 285.4 972.5 290.0 978.0 283.2 983.5 269.9 989.0 263.2 994.5 266.9 1000.0 272.2 1005.5 273.6 1011.0 276.0 1016.5 284.5 1022.0 292.6 1027.5 290.8 1033.0 281.6 1038.5 277.6 1044.0 284.2 1049.5 292.4 1055.0 291.8 1060.5 284.9 1066.0 280.6 1071.5 280.7 1077.0 281.3 1082.5 278.9 1085.5 279.8"/>
<path d="M688.3 323.8 703.4 320.3 718.5 317.2 733.5 314.3 748.6 311.3 763.7 308.2 778.8 304.7 793.8 300.6 808.9 295.7 824.0 289.8 829.5 286.8 835.0 286.3 840.5 288.8 846.0 293.1 851.5 297.0 857.0 297.3 862.5 291.9 868.0 281.2 873.5 269.0 879.0 261.6 884.5 264.6 890.0 278.8 895.5 298.0 901.0 311.2 906.5 310.7 912.0 300.8 917.5 295.7 923.0 302.9 928.5 308.8 934.0 292.0 939.5 262.2 945.0 262.0 950.5 292.3 956.0 296.5 961.5 284.0 967.0 294.8 972.5 296.7 978.0 262.5 983.5 246.4 989.0 272.9 994.5 287.4 1000.0 278.8 1005.5 291.2 1011.0 306.7 1016.5 281.8 1022.0 255.8 1027.5 273.9 1033.0 294.6 1038.5 288.6 1044.0 297.4 1049.5 320.6 1055.0 305.6 1060.5 270.2 1066.0 272.9 1071.5 291.6 1077.0 283.6 1082.5 282.4 1085.5 295.0"/>
<path d="M688.3 266.2 703.4 265.8 718.5 265.8 733.5 265.9 748.6 266.1 763.7 266.1 778.8 265.7 793.8 264.7 808.9 263.1 824.0 260.5 829.5 258.8 835.0 257.2 840.5 256.3 846.0 256.7 851.5 259.0 857.0 263.5 862.5 269.9 868.0 277.6 873.5 285.3 879.0 291.4 884.5 294.3 890.0 293.0 895.5 287.9 901.0 280.8 906.5 274.7 912.0 272.5 917.5 275.1 923.0 279.9 928.5 282.0 934.0 278.1 939.5 271.0 945.0 271.0 950.5 285.4 956.0 303.5 961.5 308.4 967.0 297.7 972.5 285.3 978.0 282.6 983.5 284.3 989.0 277.9 994.5 263.1 1000.0 254.2 1005.5 261.8 1011.0 278.0 1016.5 285.4 1022.0 277.9 1027.5 266.8 1033.0 264.4 1038.5 267.5 1044.0 263.1 1049.5 248.5 1055.0 237.0 1060.5 242.3 1066.0 260.5 1071.5 274.1 1077.0 272.8 1082.5 266.0 1085.5 264.9"/>
<path d="M688.3 286.3 703.4 285.8 718.5 285.8 733.5 286.0 748.6 286.2 763.7 286.1 778.8 285.6 793.8 284.5 808.9 282.4 824.0 279.3 829.5 277.1 835.0 275.1 840.5 273.6 846.0 272.5 851.5 272.0 857.0 271.9 862.5 271.7 868.0 271.0 873.5 269.3 879.0 266.6 884.5 263.0 890.0 259.8 895.5 258.5 901.0 260.9 906.5 268.2 912.0 279.6 917.5 291.8 923.0 300.3 928.5 301.1 934.0 294.4 939.5 285.4 945.0 282.0 950.5 286.3 956.0 290.4 961.5 288.3 967.0 283.7 972.5 283.1 978.0 284.9 983.5 280.5 989.0 266.8 994.5 253.0 1000.0 252.1 1005.5 265.8 1011.0 281.9 1016.5 288.3 1022.0 285.2 1027.5 282.2 1033.0 285.1 1038.5 289.4 1044.0 288.6 1049.5 284.9 1055.0 286.2 1060.5 294.5 1066.0 300.0 1071.5 292.9 1077.0 276.9 1082.5 264.7 1085.5 263.9"/>
<path d="M688.3 197.1 703.4 204.6 718.5 211.6 733.5 218.5 748.6 225.3 763.7 232.4 778.8 239.8 793.8 247.9 808.9 256.7 824.0 266.5 829.5 270.9 835.0 274.2 840.5 275.5 846.0 274.4 851.5 270.8 857.0 265.4 862.5 259.6 868.0 255.1 873.5 253.7 879.0 256.5 884.5 263.4 890.0 272.3 895.5 279.8 901.0 281.6 906.5 275.5 912.0 263.3 917.5 251.6 923.0 248.9 928.5 260.1 934.0 280.4 939.5 294.8 945.0 290.5 950.5 275.3 956.0 273.5 961.5 287.7 967.0 295.0 972.5 279.8 978.0 257.2 983.5 253.9 989.0 272.3 994.5 286.8 1000.0 278.0 1005.5 258.1 1011.0 252.8 1016.5 265.5 1022.0 273.8 1027.5 261.8 1033.0 244.1 1038.5 246.5 1044.0 270.7 1049.5 290.4 1055.0 286.0 1060.5 269.5 1066.0 266.8 1071.5 282.6 1077.0 296.9 1082.5 291.4 1085.5 283.8"/>
<path d="M688.3 247.7 703.4 251.1 718.5 255.0 733.5 259.1 748.6 263.1 763.7 267.0 778.8 270.4 793.8 273.2 808.9 275.1 824.0 275.9 829.5 275.2 835.0 275.0 840.5 274.6 846.0 273.1 851.5 269.9 857.0 265.3 862.5 260.2 868.0 256.8 873.5 257.4 879.0 263.7 884.5 275.4 890.0 289.5 895.5 300.9 901.0 304.8 906.5 299.9 912.0 290.4 917.5 283.5 923.0 282.3 928.5 282.2 934.0 275.7 939.5 267.3 945.0 275.0 950.5 302.3 956.0 316.8 961.5 304.3 967.0 289.5 972.5 287.0 978.0 281.6 983.5 270.5 989.0 276.9 994.5 301.9 1000.0 312.7 1005.5 296.5 1011.0 279.0 1016.5 275.3 1022.0 269.9 1027.5 259.6 1033.0 266.6 1038.5 291.2 1044.0 300.7 1049.5 283.5 1055.0 266.3 1060.5 264.6 1066.0 262.1 1071.5 255.8 1077.0 268.4 1082.5 297.9 1085.5 309.1"/>
<path d="M688.3 301.3 703.4 297.2 718.5 292.6 733.5 288.0 748.6 283.3 763.7 278.7 778.8 274.6 793.8 270.9 808.9 267.9 824.0 265.8 829.5 265.8 835.0 267.0 840.5 269.4 846.0 273.0 851.5 277.5 857.0 282.6 862.5 287.9 868.0 292.8 873.5 296.9 879.0 300.0 884.5 302.1 890.0 303.1 895.5 303.3 901.0 302.6 906.5 300.5 912.0 296.5 917.5 290.5 923.0 283.1 928.5 276.4 934.0 274.2 939.5 279.7 945.0 292.2 950.5 303.7 956.0 303.4 961.5 290.5 967.0 273.4 972.5 261.5 978.0 258.0 983.5 259.6 989.0 263.1 994.5 267.9 1000.0 273.8 1005.5 277.0 1011.0 272.0 1016.5 258.4 1022.0 244.2 1027.5 239.9 1033.0 249.6 1038.5 266.6 1044.0 280.1 1049.5 283.9 1055.0 280.4 1060.5 275.3 1066.0 271.6 1071.5 269.3 1077.0 269.6 1082.5 275.8 1085.5 282.7"/>
<path d="M688.3 289.5 703.4 289.0 718.5 288.4 733.5 287.8 748.6 287.1 763.7 286.5 778.8 286.0 793.8 285.7 808.9 285.6 824.0 285.7 829.5 286.0 835.0 288.6 840.5 293.8 846.0 300.7 851.5 307.1 857.0 309.7 862.5 305.9 868.0 295.1 873.5 280.4 879.0 267.8 884.5 264.3 890.0 273.4 895.5 291.4 901.0 308.1 906.5 312.6 912.0 303.5 917.5 292.0 923.0 289.8 928.5 292.4 934.0 282.6 939.5 262.5 945.0 267.1 950.5 300.9 956.0 302.0 961.5 266.5 967.0 254.1 972.5 266.1 978.0 263.0 983.5 261.9 989.0 282.8 994.5 281.4 1000.0 244.2 1005.5 233.0 1011.0 263.3 1016.5 277.4 1022.0 265.8 1027.5 267.8 1033.0 270.4 1038.5 248.8 1044.0 245.1 1049.5 282.4 1055.0 302.1 1060.5 278.0 1066.0 263.7 1071.5 276.8 1077.0 280.2 1082.5 281.7 1085.5 294.8"/>
<path d="M688.3 279.1 703.4 276.4 718.5 272.0 733.5 266.8 748.6 261.5 763.7 257.1 778.8 254.5 793.8 254.5 808.9 258.0 824.0 265.8 829.5 272.5 835.0 281.1 840.5 290.2 846.0 297.8 851.5 301.7 857.0 300.6 862.5 294.3 868.0 284.4 873.5 273.9 879.0 266.8 884.5 265.8 890.0 270.9 895.5 278.4 901.0 281.9 906.5 276.4 912.0 263.3 917.5 252.3 923.0 256.1 928.5 278.3 934.0 304.5 939.5 311.1 945.0 294.9 950.5 285.8 956.0 298.7 961.5 300.9 967.0 275.1 972.5 255.8 978.0 272.8 983.5 300.2 989.0 300.2 994.5 285.3 1000.0 290.5 1005.5 307.0 1011.0 296.7 1016.5 262.4 1022.0 247.9 1027.5 266.3 1033.0 281.0 1038.5 271.0 1044.0 265.4 1049.5 286.6 1055.0 305.0 1060.5 288.0 1066.0 257.6 1071.5 255.9 1077.0 278.8 1082.5 286.2 1085.5 282.0"/>
<path d="M688.3 349.0 703.4 344.0 718.5 339.4 733.5 334.8 748.6 330.3 763.7 325.6 778.8 320.6 793.8 315.2 808.9 309.2 824.0 302.5 829.5 299.4 835.0 294.0 840.5 286.7 846.0 278.4 851.5 270.4 857.0 264.2 862.5 261.1 868.0 261.9 873.5 266.9 879.0 275.0 884.5 284.3 890.0 292.2 895.5 296.1 901.0 294.6 906.5 288.2 912.0 280.0 917.5 274.3 923.0 273.5 928.5 275.4 934.0 273.8 939.5 262.6 945.0 245.6 950.5 239.4 956.0 254.9 961.5 277.1 967.0 280.5 972.5 258.2 978.0 230.6 983.5 224.1 989.0 242.2 994.5 264.5 1000.0 270.9 1005.5 263.2 1011.0 258.3 1016.5 264.5 1022.0 271.7 1027.5 267.7 1033.0 257.5 1038.5 259.2 1044.0 281.0 1049.5 306.6 1055.0 311.2 1060.5 289.9 1066.0 264.5 1071.5 261.3 1077.0 284.2 1082.5 309.2 1085.5 315.7"/>
<path d="M688.3 309.5 703.4 307.3 718.5 305.0 733.5 302.8 748.6 300.5 763.7 298.2 778.8 296.1 793.8 293.9 808.9 291.9 824.0 290.1 829.5 289.5 835.0 288.6 840.5 287.5 846.0 285.9 851.5 283.6 857.0 280.5 862.5 276.4 868.0 271.9 873.5 268.1 879.0 267.1 884.5 270.7 890.0 279.9 895.5 293.7 901.0 308.2 906.5 316.9 912.0 314.4 917.5 300.7 923.0 282.8 928.5 271.8 934.0 275.6 939.5 290.1 945.0 302.9 950.5 307.3 956.0 306.2 961.5 298.1 967.0 280.4 972.5 267.5 978.0 277.8 983.5 302.6 989.0 311.0 994.5 291.1 1000.0 266.0 1005.5 260.0 1011.0 270.0 1016.5 279.9 1022.0 285.8 1027.5 288.7 1033.0 281.2 1038.5 261.2 1044.0 247.8 1049.5 261.0 1055.0 289.1 1060.5 300.1 1066.0 284.6 1071.5 264.9 1077.0 260.3 1082.5 267.4 1085.5 272.0"/>
<path d="M688.3 277.0 703.4 276.2 718.5 274.0 733.5 271.3 748.6 268.6 763.7 266.5 778.8 265.6 793.8 266.6 808.9 270.0 824.0 276.5 829.5 281.5 835.0 285.6 840.5 287.1 846.0 284.7 851.5 278.6 857.0 270.8 862.5 264.4 868.0 262.6 873.5 266.8 879.0 275.1 884.5 282.6 890.0 284.3 895.5 278.9 901.0 271.6 906.5 271.9 912.0 283.9 917.5 299.2 923.0 302.3 928.5 288.6 934.0 276.1 939.5 281.9 945.0 287.2 950.5 266.8 956.0 255.7 961.5 274.3 967.0 280.6 972.5 266.9 978.0 273.8 983.5 290.6 989.0 278.3 994.5 262.2 1000.0 275.4 1005.5 284.6 1011.0 271.5 1016.5 275.8 1022.0 299.2 1027.5 296.4 1033.0 277.8 1038.5 282.6 1044.0 287.7 1049.5 265.9 1055.0 255.4 1060.5 273.8 1066.0 278.5 1071.5 264.9 1077.0 271.7 1082.5 285.7 1085.5 280.2"/>
<path d="M688.3 338.2 703.4 332.3 718.5 326.2 733.5 320.0 748.6 313.8 763.7 307.7 778.8 301.8 793.8 296.2 808.9 291.1 824.0 286.5 829.5 285.3 835.0 282.9 840.5 280.1 846.0 278.1 851.5 278.1 857.0 281.0 862.5 286.8 868.0 293.8 873.5 299.3 879.0 300.5 884.5 295.6 890.0 285.7 895.5 274.8 901.0 267.8 906.5 267.1 912.0 270.0 917.5 269.9 923.0 264.4 928.5 259.9 934.0 265.7 939.5 277.8 945.0 276.1 950.5 257.0 956.0 251.4 961.5 265.9 967.0 274.7 972.5 274.5 978.0 284.4 983.5 296.3 989.0 287.5 994.5 272.5 1000.0 279.5 1005.5 296.6 1011.0 296.7 1016.5 288.9 1022.0 290.8 1027.5 287.6 1033.0 268.3 1038.5 257.8 1044.0 271.1 1049.5 281.2 1055.0 270.8 1060.5 261.5 1066.0 264.9 1071.5 262.6 1077.0 255.9 1082.5 268.3 1085.5 283.4"/>
<path d="M688.3 294.1 703.4 291.9 718.5 288.8 733.5 285.4 748.6 281.9 763.7 278.9 778.8 276.7 793.8 275.8 808.9 276.7 824.0 279.7 829.5 282.6 835.0 285.9 840.5 288.9 846.0 291.1 851.5 291.7 857.0 289.7 862.5 284.7 868.0 276.6 873.5 266.1 879.0 254.7 884.5 244.6 890.0 238.0 895.5 236.5 901.0 240.3 906.5 248.0 912.0 256.5 917.5 262.8 923.0 266.1 928.5 267.2 934.0 266.5 939.5 261.9 945.0 252.0 950.5 244.0 956.0 252.3 961.5 276.9 967.0 299.8 972.5 304.3 978.0 293.1 983.5 280.7 989.0 274.6 994.5 272.7 1000.0 274.9 1005.5 284.1 1011.0 294.9 1016.5 292.8 1022.0 271.9 1027.5 246.2 1033.0 235.4 1038.5 242.8 1044.0 255.7 1049.5 263.9 1055.0 267.5 1060.5 267.5 1066.0 260.5 1071.5 249.4 1077.0 250.4 1082.5 272.0 1085.5 290.0"/>
<path d="M688.3 294.9 703.4 294.6 718.5 295.8 733.5 297.5 748.6 299.3 763.7 300.4 778.8 300.2 793.8 297.9 808.9 292.8 824.0 284.4 829.5 278.4 835.0 270.4 840.5 261.5 846.0 253.7 851.5 248.7 857.0 248.3 862.5 253.0 868.0 261.9 873.5 272.1 879.0 280.1 884.5 282.2 890.0 277.1 895.5 267.0 901.0 256.9 906.5 252.8 912.0 256.7 917.5 263.5 923.0 264.8 928.5 258.0 934.0 253.0 939.5 265.6 945.0 292.8 950.5 302.5 956.0 281.1 961.5 264.1 967.0 276.7 972.5 296.0 978.0 294.7 983.5 286.2 989.0 292.1 994.5 297.4 1000.0 278.3 1005.5 252.6 1011.0 255.7 1016.5 280.6 1022.0 286.7 1027.5 265.8 1033.0 250.7 1038.5 257.0 1044.0 261.8 1049.5 253.0 1055.0 254.5 1060.5 278.9 1066.0 296.4 1071.5 282.0 1077.0 261.6 1082.5 270.2 1085.5 285.4"/>
<path d="M688.3 275.5 703.4 275.1 718.5 273.7 733.5 271.8 748.6 269.8 763.7 268.4 778.8 268.0 793.8 269.1 808.9 272.3 824.0 278.0 829.5 282.2 835.0 285.2 840.5 286.1 846.0 284.5 851.5 280.5 857.0 274.9 862.5 269.0 868.0 264.1 873.5 261.3 879.0 260.7 884.5 261.5 890.0 262.3 895.5 262.4 901.0 262.9 906.5 266.9 912.0 277.6 917.5 294.4 923.0 310.9 928.5 317.9 934.0 311.4 939.5 298.6 945.0 290.4 950.5 285.1 956.0 275.7 961.5 272.8 967.0 287.2 972.5 303.4 978.0 300.1 983.5 282.9 989.0 269.6 994.5 259.8 1000.0 246.0 1005.5 239.3 1011.0 253.9 1016.5 276.9 1022.0 285.0 1027.5 279.4 1033.0 276.0 1038.5 274.0 1044.0 264.6 1049.5 259.1 1055.0 274.1 1060.5 300.0 1066.0 312.9 1071.5 309.6 1077.0 301.7 1082.5 290.6 1085.5 279.3"/>
<path d="M688.3 295.7 703.4 293.0 718.5 288.6 733.5 283.3 748.6 278.0 763.7 273.6 778.8 270.8 793.8 270.7 808.9 273.9 824.0 281.3 829.5 287.7 835.0 293.1 840.5 296.7 846.0 297.5 851.5 295.4 857.0 290.3 862.5 283.1 868.0 275.3 873.5 268.9 879.0 266.1 884.5 268.5 890.0 276.8 895.5 289.7 901.0 304.2 906.5 315.6 912.0 319.5 917.5 314.4 923.0 302.9 928.5 291.6 934.0 287.5 939.5 292.9 945.0 301.3 950.5 300.4 956.0 288.2 961.5 275.5 967.0 271.9 972.5 274.9 978.0 275.6 983.5 271.7 989.0 270.4 994.5 278.5 1000.0 291.5 1005.5 297.5 1011.0 292.4 1016.5 286.0 1022.0 291.6 1027.5 308.6 1033.0 320.5 1038.5 312.0 1044.0 288.0 1049.5 270.4 1055.0 275.3 1060.5 294.2 1066.0 302.2 1071.5 283.5 1077.0 247.0 1082.5 225.3 1085.5 225.9"/>
<path d="M688.3 264.9 703.4 266.8 718.5 268.9 733.5 271.2 748.6 273.4 763.7 275.6 778.8 277.5 793.8 279.0 808.9 280.2 824.0 280.7 829.5 280.5 835.0 278.7 840.5 276.2 846.0 273.9 851.5 272.6 857.0 272.6 862.5 273.3 868.0 273.0 873.5 270.0 879.0 263.2 884.5 254.0 890.0 246.1 895.5 244.2 901.0 251.4 906.5 265.2 912.0 277.6 917.5 280.3 923.0 273.1 928.5 265.2 934.0 264.7 939.5 266.4 945.0 259.6 950.5 257.3 956.0 277.9 961.5 298.1 967.0 291.1 972.5 275.8 978.0 277.5 983.5 283.7 989.0 282.2 994.5 290.7 1000.0 310.9 1005.5 312.1 1011.0 290.5 1016.5 280.0 1022.0 290.3 1027.5 296.4 1033.0 294.8 1038.5 302.5 1044.0 308.0 1049.5 290.0 1055.0 267.7 1060.5 271.4 1066.0 286.8 1071.5 287.2 1077.0 283.2 1082.5 287.5 1085.5 287.5"/>
<path d="M688.3 308.9 703.4 304.4 718.5 298.5 733.5 291.8 748.6 285.1 763.7 279.2 778.8 274.7 793.8 272.4 808.9 273.0 824.0 277.2 829.5 281.8 835.0 286.3 840.5 290.0 846.0 292.7 851.5 294.1 857.0 294.0 862.5 292.4 868.0 289.4 873.5 285.3 879.0 280.5 884.5 275.3 890.0 270.1 895.5 265.3 901.0 261.5 906.5 259.5 912.0 260.5 917.5 265.4 923.0 274.0 928.5 284.1 934.0 291.0 939.5 288.4 945.0 273.5 950.5 253.2 956.0 243.4 961.5 251.0 967.0 269.3 972.5 284.6 978.0 288.1 983.5 281.3 989.0 271.3 994.5 263.6 1000.0 260.7 1005.5 264.4 1011.0 275.8 1016.5 291.1 1022.0 301.0 1027.5 296.7 1033.0 279.0 1038.5 260.3 1044.0 254.7 1049.5 265.4 1055.0 282.5 1060.5 292.2 1066.0 288.5 1071.5 274.7 1077.0 256.0 1082.5 240.4 1085.5 234.2"/>
<path d="M688.3 283.8 703.4 283.3 718.5 282.6 733.5 281.6 748.6 280.7 763.7 279.9 778.8 279.5 793.8 279.4 808.9 280.0 824.0 281.3 829.5 282.4 835.0 284.5 840.5 287.1 846.0 289.7 851.5 291.5 857.0 291.7 862.5 289.6 868.0 285.5 873.5 279.8 879.0 274.2 884.5 270.6 890.0 270.6 895.5 275.1 901.0 282.7 906.5 290.6 912.0 294.9 917.5 293.6 923.0 288.8 928.5 286.0 934.0 290.1 939.5 299.0 945.0 301.6 950.5 289.4 956.0 273.8 961.5 271.2 967.0 280.0 972.5 284.2 978.0 277.8 983.5 273.0 989.0 280.9 994.5 293.3 1000.0 293.4 1005.5 279.9 1011.0 269.1 1016.5 271.9 1022.0 279.1 1027.5 277.0 1033.0 268.6 1038.5 269.7 1044.0 284.5 1049.5 298.0 1055.0 296.3 1060.5 285.8 1066.0 282.7 1071.5 290.0 1077.0 295.2 1082.5 288.9 1085.5 284.2"/>
<path d="M688.3 238.5 703.4 240.7 718.5 243.3 733.5 245.9 748.6 248.6 763.7 251.2 778.8 253.4 793.8 255.3 808.9 256.6 824.0 257.2 829.5 256.8 835.0 257.7 840.5 259.6 846.0 261.6 851.5 263.1 857.0 263.3 862.5 261.7 868.0 258.6 873.5 255.1 879.0 253.0 884.5 254.4 890.0 260.9 895.5 272.3 901.0 286.2 906.5 297.2 912.0 299.4 917.5 290.2 923.0 273.3 928.5 259.3 934.0 260.5 939.5 280.7 945.0 305.8 950.5 311.5 956.0 294.6 961.5 277.8 967.0 276.3 972.5 280.2 978.0 273.7 983.5 260.4 989.0 259.0 994.5 273.7 1000.0 284.4 1005.5 271.1 1011.0 243.3 1016.5 231.4 1022.0 250.1 1027.5 280.1 1033.0 291.8 1038.5 280.6 1044.0 268.5 1049.5 272.7 1055.0 285.1 1060.5 287.9 1066.0 281.2 1071.5 281.7 1077.0 293.9 1082.5 301.5 1085.5 295.4"/>
<path d="M688.3 258.0 703.4 261.4 718.5 265.2 733.5 269.4 748.6 273.5 763.7 277.4 778.8 280.7 793.8 283.3 808.9 284.8 824.0 284.9 829.5 283.9 835.0 283.6 840.5 283.7 846.0 283.6 851.5 282.1 857.0 278.6 862.5 273.4 868.0 267.9 873.5 264.3 879.0 264.9 884.5 270.6 890.0 279.8 895.5 288.4 901.0 292.4 906.5 290.7 912.0 286.6 917.5 285.1 923.0 285.5 928.5 280.5 934.0 266.0 939.5 253.3 945.0 258.8 950.5 273.9 956.0 276.6 961.5 276.2 967.0 281.5 972.5 274.8 978.0 255.0 983.5 249.8 989.0 262.6 994.5 270.2 1000.0 273.1 1005.5 284.3 1011.0 289.0 1016.5 273.4 1022.0 260.0 1027.5 265.9 1033.0 273.5 1038.5 275.5 1044.0 287.2 1049.5 301.0 1055.0 293.7 1060.5 275.7 1066.0 272.0 1071.5 272.8 1077.0 259.6 1082.5 252.3 1085.5 253.9"/>
<path d="M688.3 301.5 703.4 298.9 718.5 296.4 733.5 294.0 748.6 291.5 763.7 289.0 778.8 286.4 793.8 283.7 808.9 280.8 824.0 277.8 829.5 276.5 835.0 276.1 840.5 277.5 846.0 280.9 851.5 286.4 857.0 293.1 862.5 299.7 868.0 304.2 873.5 305.2 879.0 301.9 884.5 295.2 890.0 287.7 895.5 282.3 901.0 281.2 906.5 283.6 912.0 285.3 917.5 281.4 923.0 270.9 928.5 260.0 934.0 258.9 939.5 270.4 945.0 281.2 950.5 275.4 956.0 263.0 961.5 262.7 967.0 268.0 972.5 259.8 978.0 243.0 983.5 240.9 989.0 257.2 994.5 269.8 1000.0 268.0 1005.5 268.2 1011.0 281.6 1016.5 292.4 1022.0 284.1 1027.5 269.7 1033.0 271.3 1038.5 284.7 1044.0 288.6 1049.5 282.5 1055.0 285.8 1060.5 301.2 1066.0 306.7 1071.5 294.8 1077.0 291.7 1082.5 307.6 1085.5 320.4"/>
<path d="M688.3 317.8 703.4 310.5 718.5 301.3 733.5 291.0 748.6 280.7 763.7 271.4 778.8 264.2 793.8 259.9 808.9 259.6 824.0 264.3 829.5 270.4 835.0 278.1 840.5 285.6 846.0 291.1 851.5 293.2 857.0 291.8 862.5 288.3 868.0 285.2 873.5 284.9 879.0 288.0 884.5 292.0 890.0 292.2 895.5 284.8 901.0 270.8 906.5 258.2 912.0 257.3 917.5 270.9 923.0 288.2 928.5 293.6 934.0 286.0 939.5 283.1 945.0 290.2 950.5 279.9 956.0 253.7 961.5 254.5 967.0 278.6 972.5 283.9 978.0 275.8 983.5 282.4 989.0 283.5 994.5 259.2 1000.0 246.3 1005.5 266.7 1011.0 283.1 1016.5 278.0 1022.0 281.1 1027.5 291.2 1033.0 275.9 1038.5 253.1 1044.0 262.5 1049.5 285.4 1055.0 286.5 1060.5 284.5 1066.0 296.9 1071.5 293.2 1077.0 268.4 1082.5 264.8 1085.5 277.2"/>
<path d="M688.3 260.2 703.4 261.5 718.5 262.5 733.5 263.2 748.6 263.9 763.7 264.8 778.8 266.2 793.8 268.2 808.9 271.1 824.0 275.0 829.5 277.4 835.0 280.0 840.5 282.4 846.0 284.2 851.5 285.0 857.0 285.0 862.5 284.3 868.0 283.5 873.5 283.6 879.0 285.4 884.5 289.5 890.0 295.9 895.5 303.3 901.0 309.3 906.5 310.5 912.0 304.2 917.5 291.0 923.0 274.8 928.5 263.1 934.0 264.3 939.5 280.8 945.0 303.7 950.5 314.2 956.0 302.5 961.5 280.9 967.0 268.0 972.5 269.8 978.0 276.8 983.5 277.7 989.0 273.0 994.5 272.9 1000.0 281.9 1005.5 291.0 1011.0 286.1 1016.5 265.6 1022.0 245.6 1027.5 245.0 1033.0 266.1 1038.5 291.1 1044.0 299.0 1049.5 285.9 1055.0 266.8 1060.5 259.6 1066.0 267.1 1071.5 278.4 1077.0 284.6 1082.5 287.0 1085.5 290.3"/>
<path d="M688.3 277.3 703.4 278.3 718.5 279.5 733.5 280.8 748.6 282.1 763.7 283.3 778.8 284.3 793.8 285.0 808.9 285.3 824.0 285.2 829.5 284.7 835.0 283.5 840.5 282.2 846.0 281.5 851.5 281.7 857.0 282.5 862.5 283.1 868.0 282.3 873.5 278.7 879.0 272.1 884.5 263.8 890.0 257.0 895.5 255.9 901.0 263.3 906.5 278.3 912.0 294.1 917.5 302.0 923.0 297.2 928.5 284.3 934.0 274.7 939.5 275.0 945.0 277.8 950.5 275.6 956.0 280.8 961.5 300.0 967.0 310.4 972.5 293.7 978.0 270.0 983.5 268.8 989.0 284.7 994.5 292.9 1000.0 291.1 1005.5 293.4 1011.0 294.5 1016.5 279.3 1022.0 258.9 1027.5 261.4 1033.0 284.9 1038.5 297.6 1044.0 286.7 1049.5 273.1 1055.0 270.7 1060.5 268.4 1066.0 261.7 1071.5 267.1 1077.0 286.4 1082.5 294.3 1085.5 286.1"/>
<path d="M688.3 277.5 703.4 279.6 718.5 282.4 733.5 285.5 748.6 288.6 763.7 291.4 778.8 293.6 793.8 294.8 808.9 294.9 824.0 293.4 829.5 291.6 835.0 288.5 840.5 284.4 846.0 279.6 851.5 274.8 857.0 270.9 862.5 268.7 868.0 269.3 873.5 273.5 879.0 281.2 884.5 291.8 890.0 303.3 895.5 312.9 901.0 317.6 906.5 314.5 912.0 303.5 917.5 287.7 923.0 272.8 928.5 265.4 934.0 269.1 939.5 281.6 945.0 294.0 950.5 296.4 956.0 287.5 961.5 274.0 967.0 261.9 972.5 254.8 978.0 255.7 983.5 266.0 989.0 280.3 994.5 287.2 1000.0 278.0 1005.5 258.4 1011.0 245.7 1016.5 253.6 1022.0 278.0 1027.5 299.7 1033.0 302.5 1038.5 287.7 1044.0 271.5 1049.5 268.4 1055.0 279.3 1060.5 294.6 1066.0 304.8 1071.5 307.2 1077.0 305.1 1082.5 298.4 1085.5 294.0"/>
<path d="M688.3 280.5 703.4 278.8 718.5 276.6 733.5 274.3 748.6 271.9 763.7 269.7 778.8 268.0 793.8 266.9 808.9 266.6 824.0 267.4 829.5 268.5 835.0 274.2 840.5 283.6 846.0 294.0 851.5 301.5 857.0 302.5 862.5 295.8 868.0 283.7 873.5 272.2 879.0 268.1 884.5 274.8 890.0 288.3 895.5 298.4 901.0 295.5 906.5 280.8 912.0 269.2 917.5 275.0 923.0 291.7 928.5 292.0 934.0 264.2 939.5 242.5 945.0 259.1 950.5 271.2 956.0 248.6 961.5 250.0 967.0 274.7 972.5 260.6 978.0 237.5 983.5 261.6 989.0 284.4 994.5 269.0 1000.0 272.5 1005.5 300.0 1011.0 289.3 1016.5 264.9 1022.0 285.4 1027.5 305.6 1033.0 283.8 1038.5 276.1 1044.0 294.7 1049.5 278.5 1055.0 247.1 1060.5 261.4 1066.0 280.2 1071.5 257.8 1077.0 250.0 1082.5 274.4 1085.5 277.6"/>
<path d="M688.3 242.5 703.4 244.3 718.5 245.2 733.5 245.7 748.6 246.1 763.7 247.0 778.8 248.8 793.8 252.0 808.9 257.0 824.0 264.3 829.5 268.9 835.0 275.5 840.5 282.6 846.0 288.2 851.5 291.1 857.0 290.9 862.5 288.8 868.0 286.8 873.5 287.2 879.0 290.5 884.5 294.7 890.0 295.5 895.5 289.2 901.0 276.9 906.5 265.7 912.0 266.0 917.5 280.6 923.0 297.7 928.5 298.0 934.0 276.2 939.5 254.5 945.0 256.3 950.5 264.8 956.0 258.2 961.5 258.2 967.0 269.9 972.5 260.4 978.0 235.8 983.5 242.1 989.0 273.8 994.5 280.8 1000.0 263.3 1005.5 262.1 1011.0 274.3 1016.5 273.7 1022.0 276.3 1027.5 298.0 1033.0 304.8 1038.5 279.0 1044.0 265.3 1049.5 287.0 1055.0 302.1 1060.5 287.7 1066.0 275.7 1071.5 275.8 1077.0 259.7 1082.5 239.4 1085.5 239.2"/>
<path d="M688.3 257.4 703.4 260.2 718.5 262.5 733.5 264.5 748.6 266.6 763.7 268.9 778.8 271.6 793.8 275.1 808.9 279.4 824.0 285.0 829.5 288.0 835.0 289.6 840.5 289.3 846.0 287.0 851.5 282.8 857.0 277.4 862.5 271.6 868.0 267.0 873.5 265.1 879.0 266.9 884.5 273.1 890.0 282.8 895.5 293.9 901.0 303.1 906.5 307.0 912.0 303.3 917.5 293.7 923.0 283.1 928.5 278.8 934.0 285.9 939.5 302.0 945.0 315.0 950.5 311.4 956.0 294.2 961.5 281.7 967.0 286.0 972.5 300.0 978.0 306.0 983.5 295.3 989.0 277.3 994.5 268.5 1000.0 274.7 1005.5 285.4 1011.0 286.2 1016.5 274.7 1022.0 262.4 1027.5 261.3 1033.0 270.8 1038.5 279.8 1044.0 279.4 1049.5 272.6 1055.0 269.3 1060.5 275.0 1066.0 285.0 1071.5 291.4 1077.0 293.5 1082.5 295.4 1085.5 298.5"/>
<path d="M688.3 316.6 703.4 313.6 718.5 311.0 733.5 308.6 748.6 306.2 763.7 303.6 778.8 300.7 793.8 297.1 808.9 292.7 824.0 287.3 829.5 284.5 835.0 281.3 840.5 278.6 846.0 277.1 851.5 277.6 857.0 280.4 862.5 285.0 868.0 290.4 873.5 294.6 879.0 295.5 884.5 291.7 890.0 283.0 895.5 271.5 901.0 260.9 906.5 255.6 912.0 257.7 917.5 264.4 923.0 269.9 928.5 268.9 934.0 263.1 939.5 263.3 945.0 278.9 950.5 301.0 956.0 306.2 961.5 293.7 967.0 285.1 972.5 292.0 978.0 300.6 983.5 295.7 989.0 286.1 994.5 291.9 1000.0 311.9 1005.5 323.1 1011.0 313.1 1016.5 296.9 1022.0 292.9 1027.5 295.9 1033.0 287.7 1038.5 268.4 1044.0 259.3 1049.5 271.1 1055.0 287.0 1060.5 286.6 1066.0 274.2 1071.5 270.3 1077.0 279.1 1082.5 282.2 1085.5 276.9"/>
<path d="M688.3 263.5 703.4 264.6 718.5 265.7 733.5 266.6 748.6 267.6 763.7 268.6 778.8 269.7 793.8 271.1 808.9 272.7 824.0 274.6 829.5 275.5 835.0 277.3 840.5 279.5 846.0 281.4 851.5 282.0 857.0 280.5 862.5 276.2 868.0 269.0 873.5 259.6 879.0 249.7 884.5 241.5 890.0 237.5 895.5 239.4 901.0 247.2 906.5 258.6 912.0 269.1 917.5 274.7 923.0 274.4 928.5 272.3 934.0 275.4 939.5 287.1 945.0 300.0 950.5 298.6 956.0 281.2 961.5 266.8 967.0 271.4 972.5 288.3 978.0 298.0 983.5 293.2 989.0 286.3 994.5 290.1 1000.0 298.4 1005.5 293.5 1011.0 270.9 1016.5 247.6 1022.0 242.8 1027.5 254.9 1033.0 265.6 1038.5 264.1 1044.0 259.9 1049.5 267.3 1055.0 283.6 1060.5 290.5 1066.0 278.7 1071.5 262.5 1077.0 265.5 1082.5 287.7 1085.5 302.0"/>
<path d="M688.3 223.0 703.4 229.5 718.5 237.3 733.5 245.8 748.6 254.3 763.7 262.1 778.8 268.5 793.8 273.0 808.9 274.7 824.0 273.1 829.5 269.6 835.0 269.2 840.5 273.1 846.0 281.1 851.5 291.7 857.0 302.0 862.5 308.3 868.0 307.7 873.5 299.3 879.0 285.6 884.5 271.9 890.0 264.2 895.5 265.3 901.0 272.3 906.5 276.7 912.0 271.1 917.5 257.9 923.0 250.8 928.5 262.4 934.0 284.7 939.5 288.8 945.0 263.4 950.5 247.7 956.0 269.9 961.5 289.5 967.0 282.1 972.5 282.6 978.0 304.5 983.5 305.6 989.0 274.0 994.5 259.9 1000.0 282.8 1005.5 295.6 1011.0 276.1 1016.5 264.0 1022.0 275.1 1027.5 271.2 1033.0 245.6 1038.5 245.7 1044.0 280.3 1049.5 296.9 1055.0 278.3 1060.5 269.8 1066.0 287.1 1071.5 291.0 1077.0 275.6 1082.5 282.7 1085.5 299.5"/>
<path d="M688.3 320.7 703.4 318.8 718.5 316.4 733.5 313.7 748.6 311.0 763.7 308.6 778.8 306.7 793.8 305.5 808.9 305.4 824.0 306.6 829.5 308.1 835.0 308.3 840.5 307.6 846.0 306.8 851.5 306.7 857.0 307.6 862.5 308.9 868.0 309.2 873.5 306.7 879.0 300.3 884.5 290.4 890.0 279.7 895.5 271.9 901.0 269.7 906.5 272.5 912.0 275.8 917.5 276.1 923.0 275.8 928.5 282.2 934.0 296.4 939.5 306.3 945.0 299.9 950.5 288.3 956.0 285.5 961.5 278.2 967.0 264.9 972.5 267.4 978.0 286.0 983.5 297.7 989.0 302.1 994.5 313.2 1000.0 318.9 1005.5 304.7 1011.0 288.4 1016.5 286.6 1022.0 285.6 1027.5 280.5 1033.0 288.8 1038.5 307.9 1044.0 313.1 1049.5 305.3 1055.0 302.2 1060.5 296.5 1066.0 276.8 1071.5 261.5 1077.0 263.5 1082.5 267.6 1085.5 266.0"/>
<path d="M688.3 242.2 703.4 245.5 718.5 249.3 733.5 253.4 748.6 257.5 763.7 261.3 778.8 264.5 793.8 266.9 808.9 268.3 824.0 268.2 829.5 267.0 835.0 266.3 840.5 266.6 846.0 267.7 851.5 269.8 857.0 272.4 862.5 274.9 868.0 276.5 873.5 276.7 879.0 274.9 884.5 271.1 890.0 266.2 895.5 261.5 901.0 258.5 906.5 258.0 912.0 259.8 917.5 262.0 923.0 263.2 928.5 263.7 934.0 266.9 939.5 276.4 945.0 291.5 950.5 303.1 956.0 303.6 961.5 297.9 967.0 294.6 972.5 294.1 978.0 290.3 983.5 282.8 989.0 279.2 994.5 284.3 1000.0 291.4 1005.5 290.4 1011.0 280.8 1016.5 271.1 1022.0 266.1 1027.5 261.6 1033.0 253.5 1038.5 247.4 1044.0 251.6 1049.5 265.1 1055.0 277.2 1060.5 281.2 1066.0 281.3 1071.5 284.8 1077.0 291.5 1082.5 293.6 1085.5 292.6"/>
<path d="M688.3 227.1 703.4 230.9 718.5 235.0 733.5 239.2 748.6 243.5 763.7 247.6 778.8 251.4 793.8 254.8 808.9 257.6 824.0 259.7 829.5 259.8 835.0 263.0 840.5 269.2 846.0 278.0 851.5 288.1 857.0 298.0 862.5 305.5 868.0 308.8 873.5 306.2 879.0 297.2 884.5 282.9 890.0 266.2 895.5 251.4 901.0 243.3 906.5 245.6 912.0 258.1 917.5 275.7 923.0 290.3 928.5 294.0 934.0 284.4 939.5 268.4 945.0 258.4 950.5 261.5 956.0 270.0 961.5 274.0 967.0 275.3 972.5 280.9 978.0 289.1 983.5 289.3 989.0 276.5 994.5 262.9 1000.0 267.5 1005.5 292.6 1011.0 316.9 1016.5 315.7 1022.0 288.4 1027.5 262.5 1033.0 265.4 1038.5 295.6 1044.0 323.4 1049.5 321.9 1055.0 294.5 1060.5 269.0 1066.0 268.3 1071.5 286.6 1077.0 298.1 1082.5 290.4 1085.5 279.8"/>
<path d="M688.3 223.0 703.4 227.2 718.5 231.3 733.5 235.2 748.6 239.2 763.7 243.2 778.8 247.4 793.8 251.8 808.9 256.4 824.0 261.4 829.5 263.5 835.0 267.3 840.5 272.4 846.0 277.7 851.5 282.0 857.0 284.2 862.5 283.3 868.0 279.1 873.5 272.7 879.0 265.8 884.5 261.1 890.0 261.2 895.5 267.3 901.0 278.1 906.5 289.0 912.0 293.7 917.5 287.8 923.0 272.3 928.5 255.4 934.0 248.5 939.5 256.8 945.0 269.6 950.5 267.7 956.0 252.0 961.5 246.3 967.0 263.3 972.5 285.6 978.0 287.8 983.5 270.3 989.0 257.9 994.5 266.8 1000.0 283.3 1005.5 283.9 1011.0 268.0 1016.5 259.3 1022.0 272.4 1027.5 292.0 1033.0 292.5 1038.5 271.6 1044.0 253.6 1049.5 256.9 1055.0 270.2 1060.5 269.8 1066.0 253.1 1071.5 244.4 1077.0 263.7 1082.5 294.5 1085.5 305.9"/>
<path d="M688.3 219.0 703.4 225.1 718.5 232.0 733.5 239.3 748.6 246.5 763.7 253.4 778.8 259.6 793.8 264.6 808.9 268.1 824.0 269.8 829.5 268.8 835.0 269.6 840.5 272.0 846.0 276.0 851.5 280.9 857.0 285.6 862.5 289.0 868.0 290.1 873.5 287.9 879.0 282.5 884.5 274.8 890.0 266.5 895.5 260.0 901.0 257.5 906.5 260.1 912.0 266.5 917.5 273.2 923.0 276.5 928.5 274.5 934.0 268.7 939.5 263.6 945.0 262.8 950.5 265.1 956.0 267.7 961.5 271.4 967.0 277.3 972.5 281.2 978.0 278.1 983.5 271.0 989.0 270.6 994.5 282.5 1000.0 297.1 1005.5 299.2 1011.0 286.5 1016.5 274.1 1022.0 277.7 1027.5 294.2 1033.0 305.1 1038.5 297.9 1044.0 281.0 1049.5 272.3 1055.0 278.6 1060.5 289.1 1066.0 290.4 1071.5 281.2 1077.0 270.4 1082.5 265.5 1085.5 264.8"/>
<path d="M688.3 256.8 703.4 261.6 718.5 267.1 733.5 273.0 748.6 279.0 763.7 284.5 778.8 289.2 793.8 292.8 808.9 294.9 824.0 294.9 829.5 293.3 835.0 290.2 840.5 285.9 846.0 280.8 851.5 276.0 857.0 272.8 862.5 272.5 868.0 275.6 873.5 282.0 879.0 290.2 884.5 298.2 890.0 303.6 895.5 305.1 901.0 303.5 906.5 300.4 912.0 297.6 917.5 294.7 923.0 289.0 928.5 279.6 934.0 272.2 939.5 276.6 945.0 293.5 950.5 305.3 956.0 298.1 961.5 284.3 967.0 276.9 972.5 271.9 978.0 267.1 983.5 272.7 989.0 289.3 994.5 297.1 1000.0 284.6 1005.5 267.2 1011.0 262.6 1016.5 266.4 1022.0 269.9 1027.5 277.6 1033.0 291.0 1038.5 294.8 1044.0 280.0 1049.5 263.8 1055.0 265.2 1060.5 278.1 1066.0 287.1 1071.5 292.8 1077.0 300.2 1082.5 299.9 1085.5 293.3"/>
<path d="M688.3 223.3 703.4 226.5 718.5 229.4 733.5 232.2 748.6 235.0 763.7 237.9 778.8 241.0 793.8 244.5 808.9 248.5 824.0 253.1 829.5 255.3 835.0 261.3 840.5 269.7 846.0 277.8 851.5 282.9 857.0 283.4 862.5 279.5 868.0 274.0 873.5 270.7 879.0 272.4 884.5 278.3 890.0 283.2 895.5 279.6 901.0 264.4 906.5 244.3 912.0 234.4 917.5 245.1 923.0 268.9 928.5 283.7 934.0 279.2 939.5 275.4 945.0 289.5 950.5 289.3 956.0 259.9 961.5 256.1 967.0 289.3 972.5 303.7 978.0 294.1 983.5 301.8 989.0 308.5 994.5 280.8 1000.0 260.8 1005.5 284.3 1011.0 304.7 1016.5 293.2 1022.0 289.8 1027.5 298.3 1033.0 276.4 1038.5 245.1 1044.0 256.4 1049.5 283.4 1055.0 278.7 1060.5 269.6 1066.0 280.7 1071.5 272.9 1077.0 244.1 1082.5 249.6 1085.5 270.3"/>
<path d="M688.3 275.3 703.4 273.5 718.5 271.4 733.5 269.1 748.6 266.8 763.7 264.6 778.8 262.8 793.8 261.5 808.9 260.9 824.0 261.1 829.5 261.9 835.0 265.1 840.5 270.6 846.0 278.0 851.5 286.0 857.0 293.0 862.5 297.3 868.0 297.6 873.5 293.6 879.0 286.2 884.5 277.7 890.0 270.9 895.5 267.8 901.0 268.3 906.5 269.2 912.0 266.3 917.5 257.2 923.0 245.6 928.5 241.3 934.0 252.7 939.5 276.2 945.0 293.1 950.5 288.9 956.0 277.7 961.5 278.1 967.0 281.6 972.5 270.6 978.0 252.8 983.5 254.1 989.0 278.7 994.5 300.9 1000.0 302.2 1005.5 295.2 1011.0 298.1 1016.5 303.3 1022.0 291.8 1027.5 269.0 1033.0 262.0 1038.5 280.0 1044.0 300.4 1049.5 302.8 1055.0 296.9 1060.5 300.6 1066.0 307.3 1071.5 296.7 1077.0 273.2 1082.5 262.6 1085.5 268.5"/>
<path d="M688.3 234.0 703.4 238.8 718.5 244.1 733.5 249.6 748.6 255.1 763.7 260.4 778.8 265.3 793.8 269.6 808.9 273.1 824.0 275.5 829.5 275.5 835.0 276.7 840.5 279.2 846.0 283.0 851.5 287.4 857.0 291.8 862.5 294.9 868.0 295.8 873.5 293.4 879.0 287.6 884.5 279.1 890.0 269.6 895.5 262.1 901.0 259.7 906.5 264.7 912.0 276.7 917.5 291.8 923.0 303.8 928.5 306.8 934.0 299.3 939.5 287.5 945.0 281.9 950.5 286.8 956.0 290.6 961.5 280.7 967.0 261.4 972.5 250.7 978.0 260.3 983.5 281.5 989.0 293.5 994.5 285.3 1000.0 266.4 1005.5 255.5 1011.0 258.9 1016.5 265.7 1022.0 262.1 1027.5 249.9 1033.0 244.9 1038.5 258.3 1044.0 281.9 1049.5 295.3 1055.0 287.5 1060.5 268.5 1066.0 258.2 1071.5 264.8 1077.0 277.3 1082.5 280.6 1085.5 277.2"/>
<path d="M688.3 272.5 703.4 272.6 718.5 273.6 733.5 275.2 748.6 276.7 763.7 277.7 778.8 277.8 793.8 276.5 808.9 273.2 824.0 267.5 829.5 263.4 835.0 260.9 840.5 261.0 846.0 264.1 851.5 270.4 857.0 278.7 862.5 287.6 868.0 294.7 873.5 298.0 879.0 296.4 884.5 290.2 890.0 281.6 895.5 274.1 901.0 270.7 906.5 272.0 912.0 274.5 917.5 272.9 923.0 264.4 928.5 253.4 934.0 251.5 939.5 266.4 945.0 287.4 950.5 289.2 956.0 268.7 961.5 253.1 967.0 256.6 972.5 263.3 978.0 258.1 983.5 254.0 989.0 268.4 994.5 289.8 1000.0 290.4 1005.5 268.6 1011.0 252.8 1016.5 260.3 1022.0 274.8 1027.5 276.6 1033.0 273.5 1038.5 283.7 1044.0 300.0 1049.5 297.4 1055.0 273.9 1060.5 257.7 1066.0 267.3 1071.5 287.5 1077.0 297.5 1082.5 298.3 1085.5 302.3"/>
<path d="M688.3 288.8 703.4 286.5 718.5 283.8 733.5 280.9 748.6 278.0 763.7 275.4 778.8 273.1 793.8 271.3 808.9 270.3 824.0 270.2 829.5 271.0 835.0 271.2 840.5 271.2 846.0 271.5 851.5 272.5 857.0 274.4 862.5 277.2 868.0 279.9 873.5 281.3 879.0 280.0 884.5 275.3 890.0 268.2 895.5 261.1 901.0 257.1 906.5 258.5 912.0 264.4 917.5 271.0 923.0 274.8 928.5 276.8 934.0 281.5 939.5 290.0 945.0 293.0 950.5 281.1 956.0 266.7 961.5 265.3 967.0 270.8 972.5 271.7 978.0 272.9 983.5 281.3 989.0 285.6 994.5 274.6 1000.0 259.5 1005.5 256.6 1011.0 262.0 1016.5 264.1 1022.0 267.6 1027.5 280.0 1033.0 289.9 1038.5 283.8 1044.0 270.9 1049.5 267.6 1055.0 271.5 1060.5 271.8 1066.0 273.0 1071.5 285.4 1077.0 303.5 1082.5 308.0 1085.5 306.1"/>
<path d="M688.3 273.6 703.4 274.5 718.5 274.7 733.5 274.5 748.6 274.4 763.7 274.6 778.8 275.5 793.8 277.5 808.9 280.9 824.0 286.0 829.5 289.5 835.0 291.5 840.5 291.6 846.0 289.6 851.5 285.9 857.0 281.4 862.5 277.2 868.0 274.2 873.5 273.2 879.0 273.8 884.5 275.0 890.0 275.9 895.5 276.1 901.0 277.0 906.5 281.0 912.0 289.1 917.5 299.2 923.0 304.9 928.5 300.0 934.0 286.0 939.5 273.6 945.0 272.6 950.5 277.6 956.0 279.2 961.5 282.9 967.0 291.1 972.5 289.9 978.0 273.3 983.5 259.4 989.0 263.8 994.5 276.7 1000.0 283.3 1005.5 287.0 1011.0 293.0 1016.5 291.4 1022.0 277.4 1027.5 268.1 1033.0 277.4 1038.5 292.9 1044.0 297.1 1049.5 293.0 1055.0 290.4 1060.5 283.9 1066.0 269.6 1071.5 262.5 1077.0 276.1 1082.5 295.1 1085.5 300.0"/>
<path d="M688.3 255.7 703.4 257.5 718.5 259.7 733.5 262.1 748.6 264.4 763.7 266.6 778.8 268.4 793.8 269.6 808.9 270.0 824.0 269.5 829.5 268.4 835.0 270.6 840.5 275.5 846.0 282.1 851.5 288.3 857.0 291.9 862.5 291.0 868.0 285.5 873.5 276.9 879.0 269.1 884.5 266.4 890.0 271.5 895.5 283.4 901.0 295.8 906.5 299.6 912.0 288.9 917.5 268.0 923.0 250.3 928.5 248.6 934.0 259.9 939.5 263.0 945.0 245.1 950.5 232.9 956.0 256.1 961.5 286.9 967.0 286.7 972.5 271.8 978.0 280.0 983.5 300.4 989.0 294.3 994.5 268.2 1000.0 265.5 1005.5 290.0 1011.0 299.6 1016.5 280.7 1022.0 270.1 1027.5 284.8 1033.0 289.5 1038.5 261.4 1044.0 234.7 1049.5 242.7 1055.0 262.0 1060.5 257.4 1066.0 245.9 1071.5 262.9 1077.0 293.2 1082.5 294.4 1085.5 281.7"/>
<path d="M688.3 283.0 703.4 284.3 718.5 285.6 733.5 286.9 748.6 288.1 763.7 289.4 778.8 290.7 793.8 292.0 808.9 293.3 824.0 294.5 829.5 295.0 835.0 296.6 840.5 298.7 846.0 300.6 851.5 301.4 857.0 300.1 862.5 296.8 868.0 292.2 873.5 288.0 879.0 286.3 884.5 288.9 890.0 295.9 895.5 304.7 901.0 311.0 906.5 309.7 912.0 299.9 917.5 286.4 923.0 277.9 928.5 280.6 934.0 290.5 939.5 295.2 945.0 289.2 950.5 285.6 956.0 294.3 961.5 298.2 967.0 285.1 972.5 273.2 978.0 283.2 983.5 303.0 989.0 305.8 994.5 293.1 1000.0 288.6 1005.5 296.9 1011.0 299.3 1016.5 291.6 1022.0 292.3 1027.5 307.6 1033.0 315.3 1038.5 300.8 1044.0 283.9 1049.5 287.4 1055.0 301.6 1060.5 302.8 1066.0 293.2 1071.5 292.0 1077.0 297.9 1082.5 292.2 1085.5 283.0"/>
<path d="M688.3 216.8 703.4 226.5 718.5 237.2 733.5 248.4 748.6 259.7 763.7 270.4 778.8 280.0 793.8 288.1 808.9 294.1 824.0 297.4 829.5 296.3 835.0 294.8 840.5 293.5 846.0 292.9 851.5 293.6 857.0 295.3 862.5 297.5 868.0 299.2 873.5 298.9 879.0 295.6 884.5 289.5 890.0 282.2 895.5 276.8 901.0 276.7 906.5 283.6 912.0 294.7 917.5 303.7 923.0 303.6 928.5 292.8 934.0 278.7 939.5 273.0 945.0 278.4 950.5 282.7 956.0 278.1 961.5 276.9 967.0 286.0 972.5 290.9 978.0 278.5 983.5 262.5 989.0 265.1 994.5 283.7 1000.0 294.3 1005.5 287.2 1011.0 278.7 1016.5 281.5 1022.0 286.4 1027.5 282.4 1033.0 279.0 1038.5 290.1 1044.0 306.2 1049.5 305.5 1055.0 288.1 1060.5 277.9 1066.0 287.5 1071.5 301.4 1077.0 302.9 1082.5 297.4 1085.5 297.3"/>
<path d="M688.3 262.0 703.4 264.4 718.5 266.9 733.5 269.4 748.6 271.9 763.7 274.3 778.8 276.7 793.8 279.0 808.9 281.2 824.0 283.3 829.5 283.9 835.0 284.0 840.5 283.3 846.0 281.4 851.5 277.9 857.0 272.9 862.5 266.8 868.0 260.2 873.5 254.5 879.0 251.0 884.5 251.0 890.0 255.3 895.5 263.6 901.0 274.0 906.5 283.7 912.0 289.2 917.5 288.4 923.0 282.2 928.5 274.3 934.0 269.7 939.5 270.6 945.0 273.4 950.5 271.4 956.0 266.2 961.5 268.1 967.0 282.8 972.5 301.9 978.0 309.7 983.5 300.1 989.0 283.0 994.5 273.9 1000.0 277.5 1005.5 285.5 1011.0 288.0 1016.5 285.9 1022.0 287.6 1027.5 296.0 1033.0 302.2 1038.5 295.0 1044.0 275.3 1049.5 257.6 1055.0 255.4 1060.5 267.6 1066.0 280.4 1071.5 283.8 1077.0 282.5 1082.5 284.4 1085.5 288.4"/>
<path d="M688.3 246.2 703.4 250.1 718.5 253.7 733.5 257.2 748.6 260.6 763.7 264.2 778.8 268.1 793.8 272.4 808.9 277.4 824.0 283.1 829.5 285.9 835.0 288.7 840.5 290.6 846.0 291.0 851.5 289.8 857.0 287.7 862.5 286.2 868.0 287.0 873.5 291.3 879.0 298.8 884.5 307.2 890.0 312.9 895.5 312.8 901.0 306.5 906.5 298.1 912.0 293.6 917.5 296.2 923.0 301.5 928.5 301.0 934.0 292.7 939.5 288.6 945.0 299.9 950.5 311.7 956.0 302.9 961.5 289.5 967.0 290.4 972.5 291.2 978.0 278.4 983.5 271.8 989.0 286.0 994.5 299.2 1000.0 294.4 1005.5 289.6 1011.0 297.9 1016.5 299.9 1022.0 287.0 1027.5 283.0 1033.0 298.5 1038.5 309.4 1044.0 304.1 1049.5 302.7 1055.0 311.4 1060.5 307.8 1066.0 288.8 1071.5 282.0 1077.0 296.2 1082.5 305.2 1085.5 304.4"/>
<path d="M688.3 223.6 703.4 229.3 718.5 235.3 733.5 241.6 748.6 247.8 763.7 253.9 778.8 259.5 793.8 264.6 808.9 269.0 824.0 272.4 829.5 272.8 835.0 275.4 840.5 279.4 846.0 283.5 851.5 286.2 857.0 286.1 862.5 282.9 868.0 277.7 873.5 272.8 879.0 270.8 884.5 273.1 890.0 278.2 895.5 282.4 901.0 281.0 906.5 273.2 912.0 264.5 917.5 263.6 923.0 274.6 928.5 289.7 934.0 294.6 939.5 288.2 945.0 288.5 950.5 302.1 956.0 303.0 961.5 289.3 967.0 291.0 972.5 309.0 978.0 312.0 983.5 299.7 989.0 299.3 994.5 306.0 1000.0 294.5 1005.5 276.7 1011.0 280.6 1016.5 293.0 1022.0 286.1 1027.5 273.3 1033.0 277.4 1038.5 281.7 1044.0 267.9 1049.5 259.0 1055.0 273.9 1060.5 287.8 1066.0 281.9 1071.5 279.8 1077.0 296.4 1082.5 305.0 1085.5 301.7"/>
<path d="M688.3 267.2 703.4 269.3 718.5 272.5 733.5 276.1 748.6 279.8 763.7 283.0 778.8 285.1 793.8 285.7 808.9 284.2 824.0 280.1 829.5 276.4 835.0 272.0 840.5 267.5 846.0 263.3 851.5 259.7 857.0 257.2 862.5 256.0 868.0 255.8 873.5 256.6 879.0 258.0 884.5 259.6 890.0 261.5 895.5 264.0 901.0 267.9 906.5 273.9 912.0 281.8 917.5 290.0 923.0 295.3 928.5 294.1 934.0 285.6 939.5 274.4 945.0 271.3 950.5 285.5 956.0 308.9 961.5 322.6 967.0 315.4 972.5 294.4 978.0 277.0 983.5 274.0 989.0 281.2 994.5 287.2 1000.0 285.8 1005.5 280.1 1011.0 274.7 1016.5 268.7 1022.0 259.1 1027.5 248.5 1033.0 246.6 1038.5 259.3 1044.0 279.9 1049.5 291.9 1055.0 285.6 1060.5 268.4 1066.0 258.8 1071.5 267.9 1077.0 287.3 1082.5 301.7 1085.5 303.0"/>
<path d="M688.3 307.9 703.4 305.0 718.5 302.9 733.5 301.2 748.6 299.6 763.7 297.5 778.8 294.6 793.8 290.4 808.9 284.6 824.0 276.7 829.5 272.0 835.0 268.0 840.5 265.4 846.0 264.7 851.5 266.3 857.0 269.7 862.5 274.3 868.0 278.9 873.5 282.0 879.0 282.6 884.5 280.3 890.0 275.9 895.5 271.1 901.0 268.0 906.5 268.2 912.0 271.1 917.5 273.8 923.0 273.4 928.5 269.8 934.0 268.0 939.5 274.4 945.0 288.1 950.5 295.8 956.0 287.0 961.5 274.0 967.0 275.3 972.5 291.1 978.0 303.1 983.5 300.0 989.0 290.4 994.5 288.1 1000.0 291.7 1005.5 290.5 1011.0 283.5 1016.5 282.0 1022.0 290.3 1027.5 295.6 1033.0 285.5 1038.5 267.4 1044.0 260.9 1049.5 271.7 1055.0 283.9 1060.5 281.9 1066.0 270.4 1071.5 264.5 1077.0 266.2 1082.5 266.6 1085.5 263.5"/>
</g>
<line x1="688.3" y1="352.25" x2="1137.5" y2="352.25" stroke="#a8444a" stroke-width="2.9" stroke-dasharray="21.5 13.55"/>
<text x="617.6" y="311.3" font-size="34.5" text-anchor="middle" transform="rotate(-90 617.6 311.3)" fill="#404040">% Correct (triangle task)</text>
<text x="911.5" y="699.5" font-size="34.5" text-anchor="middle" fill="#404040">Shuffled angle distance (radians)</text>
<text x="588.7" y="25.6" font-size="33.6" font-weight="bold" fill="#000">b</text>
</g>
<g id="panel-c">
<path d="M1334.99 565.6v-5M1434.37 565.6v-5M1533.74 565.6v-5M1633.12 565.6v-5M1732.5 565.6v-5M1285.3 565.6h5M1285.3 492.46h5M1285.3 419.31h5M1285.3 346.17h5M1285.3 273.03h5M1285.3 199.89h5M1285.3 126.74h5M1285.3 53.6h5M1285.3 53.6V565.6H1732.5" fill="none" stroke="#474747" stroke-width="1.55"/>
<text x="1272" y="577.1" font-size="34.5" text-anchor="end" fill="#404040">0</text>
<text x="1272" y="503.96" font-size="34.5" text-anchor="end" fill="#404040">1</text>
<text x="1272" y="430.81" font-size="34.5" text-anchor="end" fill="#404040">2</text>
<text x="1272" y="357.67" font-size="34.5" text-anchor="end" fill="#404040">3</text>
<text x="1272" y="284.53" font-size="34.5" text-anchor="end" fill="#404040">4</text>
<text x="1272" y="211.39" font-size="34.5" text-anchor="end" fill="#404040">5</text>
<text x="1272" y="138.24" font-size="34.5" text-anchor="end" fill="#404040">6</text>
<text x="1272" y="65.1" font-size="34.5" text-anchor="end" fill="#404040">7</text>
<text x="1347.19" y="576.6" font-size="34.5" text-anchor="end" transform="rotate(-90 1347.19 576.6)" fill="#404040">-0.2</text>
<text x="1446.57" y="576.6" font-size="34.5" text-anchor="end" transform="rotate(-90 1446.57 576.6)" fill="#404040">0</text>
<text x="1545.94" y="576.6" font-size="34.5" text-anchor="end" transform="rotate(-90 1545.94 576.6)" fill="#404040">0.2</text>
<text x="1645.32" y="576.6" font-size="34.5" text-anchor="end" transform="rotate(-90 1645.32 576.6)" fill="#404040">0.4</text>
<text x="1744.7" y="576.6" font-size="34.5" text-anchor="end" transform="rotate(-90 1744.7 576.6)" fill="#404040">0.6</text>
<path d="M1334.99 565.6V560.48H1339.96V565.6ZM1339.96 565.6V557.55H1344.93V565.6ZM1344.93 565.6V554.63H1349.9V565.6ZM1349.9 565.6V553.17H1354.86V565.6ZM1354.86 565.6V550.24H1359.83V565.6ZM1359.83 565.6V531.95H1364.8V565.6ZM1364.8 565.6V518.42H1369.77V565.6ZM1369.77 565.6V505.99H1374.74V565.6ZM1374.74 565.6V480.97H1379.71V565.6ZM1379.71 565.6V441.26H1384.68V565.6ZM1384.68 565.6V411.27H1389.65V565.6ZM1389.65 565.6V374.7H1394.62V565.6ZM1394.62 565.6V341.78H1399.58V565.6ZM1399.58 565.6V294.97H1404.55V565.6ZM1404.55 565.6V241.58H1409.52V565.6ZM1409.52 565.6V232.07H1414.49V565.6ZM1414.49 565.6V173.55H1419.46V565.6ZM1419.46 565.6V112.85H1424.43V565.6ZM1424.43 565.6V101.14H1429.4V565.6ZM1429.4 565.6V117.97H1434.37V565.6ZM1434.37 565.6V94.56H1439.34V565.6ZM1439.34 565.6V106.26H1444.3V565.6ZM1444.3 565.6V143.57H1449.27V565.6ZM1449.27 565.6V156H1454.24V565.6ZM1454.24 565.6V203.54H1459.21V565.6ZM1459.21 565.6V278.88H1464.18V565.6ZM1464.18 565.6V279.61H1469.15V565.6ZM1469.15 565.6V330.81H1474.12V565.6ZM1474.12 565.6V374.7H1479.09V565.6ZM1479.09 565.6V422.97H1484.06V565.6ZM1484.06 565.6V443.45H1489.02V565.6ZM1489.02 565.6V484.41H1493.99V565.6ZM1493.99 565.6V508.04H1498.96V565.6ZM1498.96 565.6V518.42H1503.93V565.6ZM1503.93 565.6V538.17H1508.9V565.6ZM1508.9 565.6V541.17H1513.87V565.6ZM1513.87 565.6V548.05H1518.84V565.6ZM1518.84 565.6V559.75H1523.81V565.6ZM1523.81 565.6V561.21H1528.78V565.6ZM1528.78 565.6V562.31H1533.74V565.6ZM1538.71 565.6V560.85H1543.68V565.6ZM1285.3 565.6V564.5H1290.27V565.6ZM1290.27 565.6V565.16H1295.24V565.6ZM1295.24 565.6V565.16H1300.21V565.6ZM1300.21 565.6V565.16H1305.18V565.6ZM1305.18 565.6V565.16H1310.14V565.6ZM1310.14 565.6V565.16H1315.11V565.6ZM1315.11 565.6V565.16H1320.08V565.6ZM1320.08 565.6V564.14H1325.05V565.6ZM1325.05 565.6V563.41H1330.02V565.6ZM1330.02 565.6V563.41H1334.99V565.6ZM1533.74 565.6V563.41H1538.71V565.6ZM1543.68 565.6V564.5H1548.65V565.6ZM1548.65 565.6V564.87H1553.62V565.6ZM1553.62 565.6V565.23H1558.59V565.6ZM1558.59 565.6V564.87H1563.56V565.6ZM1563.56 565.6V564.5H1568.53V565.6Z" fill="#74acda"/>
<path d="M1285.3 565.6V564.5H1290.27V565.6ZM1290.27 565.6V565.16H1295.24V565.6ZM1295.24 565.6V565.16H1300.21V565.6ZM1300.21 565.6V565.16H1305.18V565.6ZM1305.18 565.6V565.16H1310.14V565.6ZM1310.14 565.6V565.16H1315.11V565.6ZM1315.11 565.6V565.16H1320.08V565.6ZM1320.08 565.6V564.14H1325.05V565.6ZM1325.05 565.6V563.41H1330.02V565.6ZM1330.02 565.6V563.41H1334.99V565.6ZM1533.74 565.6V563.41H1538.71V565.6ZM1543.68 565.6V564.5H1548.65V565.6ZM1548.65 565.6V564.87H1553.62V565.6ZM1553.62 565.6V565.23H1558.59V565.6ZM1558.59 565.6V564.87H1563.56V565.6ZM1563.56 565.6V564.5H1568.53V565.6Z" fill="none" stroke="#08101f" stroke-width="0.9" stroke-linejoin="miter"/>
<path d="M1334.99 565.6V560.48H1339.96V565.6ZM1339.96 565.6V557.55H1344.93V565.6ZM1344.93 565.6V554.63H1349.9V565.6ZM1349.9 565.6V553.17H1354.86V565.6ZM1354.86 565.6V550.24H1359.83V565.6ZM1359.83 565.6V531.95H1364.8V565.6ZM1364.8 565.6V518.42H1369.77V565.6ZM1369.77 565.6V505.99H1374.74V565.6ZM1374.74 565.6V480.97H1379.71V565.6ZM1379.71 565.6V441.26H1384.68V565.6ZM1384.68 565.6V411.27H1389.65V565.6ZM1389.65 565.6V374.7H1394.62V565.6ZM1394.62 565.6V341.78H1399.58V565.6ZM1399.58 565.6V294.97H1404.55V565.6ZM1404.55 565.6V241.58H1409.52V565.6ZM1409.52 565.6V232.07H1414.49V565.6ZM1414.49 565.6V173.55H1419.46V565.6ZM1419.46 565.6V112.85H1424.43V565.6ZM1424.43 565.6V101.14H1429.4V565.6ZM1429.4 565.6V117.97H1434.37V565.6ZM1434.37 565.6V94.56H1439.34V565.6ZM1439.34 565.6V106.26H1444.3V565.6ZM1444.3 565.6V143.57H1449.27V565.6ZM1449.27 565.6V156H1454.24V565.6ZM1454.24 565.6V203.54H1459.21V565.6ZM1459.21 565.6V278.88H1464.18V565.6ZM1464.18 565.6V279.61H1469.15V565.6ZM1469.15 565.6V330.81H1474.12V565.6ZM1474.12 565.6V374.7H1479.09V565.6ZM1479.09 565.6V422.97H1484.06V565.6ZM1484.06 565.6V443.45H1489.02V565.6ZM1489.02 565.6V484.41H1493.99V565.6ZM1493.99 565.6V508.04H1498.96V565.6ZM1498.96 565.6V518.42H1503.93V565.6ZM1503.93 565.6V538.17H1508.9V565.6ZM1508.9 565.6V541.17H1513.87V565.6ZM1513.87 565.6V548.05H1518.84V565.6ZM1518.84 565.6V559.75H1523.81V565.6ZM1523.81 565.6V561.21H1528.78V565.6ZM1528.78 565.6V562.31H1533.74V565.6ZM1538.71 565.6V560.85H1543.68V565.6Z" fill="none" stroke="#08101f" stroke-width="1.55" stroke-linejoin="miter"/>
<line x1="1682.8" y1="53.6" x2="1682.8" y2="565.6" stroke="#dc5257" stroke-width="1.3"/>
<text x="1214.5" y="311.5" font-size="34.5" text-anchor="middle" transform="rotate(-90 1214.5 311.5)" fill="#404040">Density</text>
<text x="1507.5" y="696.7" font-size="34.5" text-anchor="middle" fill="#404040">Correlation</text>
<text x="1195.5" y="25.6" font-size="33.6" font-weight="bold" fill="#000">c</text>
</g>
<g id="panel-d">
<path d="M109.93 1210v-5M109.93 785.6v5M212.74 1210v-5M212.74 785.6v5M315.55 1210v-5M315.55 785.6v5M418.36 1210v-5M418.36 785.6v5M521.17 1210v-5M521.17 785.6v5M92.8 1210h5M538.3 1210h-5M92.8 1068.53h5M538.3 1068.53h-5M92.8 927.07h5M538.3 927.07h-5M92.8 785.6h5M538.3 785.6h-5M92.8 785.6H538.3V1210H92.8Z" fill="none" stroke="#474747" stroke-width="1.55"/>
<text x="77" y="1223.4" font-size="34.5" text-anchor="end" fill="#404040">0</text>
<text x="77" y="1081.93" font-size="34.5" text-anchor="end" fill="#404040">1</text>
<text x="77" y="940.47" font-size="34.5" text-anchor="end" fill="#404040">2</text>
<text x="77" y="799" font-size="34.5" text-anchor="end" fill="#404040">3</text>
<text x="109.93" y="1259.3" font-size="34.5" text-anchor="middle" fill="#404040">-0.6</text>
<text x="212.74" y="1259.3" font-size="34.5" text-anchor="middle" fill="#404040">-0.3</text>
<text x="315.55" y="1259.3" font-size="34.5" text-anchor="middle" fill="#404040">0</text>
<text x="418.36" y="1259.3" font-size="34.5" text-anchor="middle" fill="#404040">0.3</text>
<text x="521.17" y="1259.3" font-size="34.5" text-anchor="middle" fill="#404040">0.6</text>
<path d="M151.06 1210V1206.89H157.91V1210ZM164.77 1210V1204.34H171.62V1210ZM171.62 1210V1206.18H178.47V1210ZM178.47 1210V1197.27H185.33V1210ZM185.33 1210V1202.5H192.18V1210ZM192.18 1210V1191.18H199.03V1210ZM199.03 1210V1178.31H205.89V1210ZM205.89 1210V1171.95H212.74V1210ZM212.74 1210V1159.5H219.6V1210ZM219.6 1210V1143.65H226.45V1210ZM226.45 1210V1130.5H233.3V1210ZM233.3 1210V1099.23H240.16V1210ZM240.16 1210V1075.89H247.01V1210ZM247.01 1210V1039.39H253.87V1210ZM253.87 1210V1022.56H260.72V1210ZM260.72 1210V991.01H267.57V1210ZM267.57 1210V941.5H274.43V1210ZM274.43 1210V928.62H281.28V1210ZM281.28 1210V874.02H288.13V1210ZM288.13 1210V846.86H294.99V1210ZM294.99 1210V816.16H301.84V1210ZM301.84 1210V819.41H308.7V1210ZM308.7 1210V822.24H315.55V1210ZM315.55 1210V826.2H322.4V1210ZM322.4 1210V821.82H329.26V1210ZM329.26 1210V836.95H336.11V1210ZM336.11 1210V887.46H342.97V1210ZM342.97 1210V908.11H349.82V1210ZM349.82 1210V929.75H356.67V1210ZM356.67 1210V941.78H363.53V1210ZM363.53 1210V972.9H370.38V1210ZM370.38 1210V996.1H377.23V1210ZM377.23 1210V1046.46H384.09V1210ZM384.09 1210V1075.89H390.94V1210ZM390.94 1210V1094.99H397.8V1210ZM397.8 1210V1129.93H404.65V1210ZM404.65 1210V1138.98H411.5V1210ZM411.5 1210V1158.79H418.36V1210ZM418.36 1210V1170.96H425.21V1210ZM425.21 1210V1183.69H432.07V1210ZM432.07 1210V1192.03H438.92V1210ZM438.92 1210V1195.43H445.77V1210ZM445.77 1210V1198.68H452.63V1210ZM452.63 1210V1197.27H459.48V1210ZM459.48 1210V1202.5H466.33V1210ZM137.35 1210V1208.59H144.2V1210ZM144.2 1210V1207.88H151.06V1210ZM157.91 1210V1207.17H164.77V1210ZM466.33 1210V1208.3H473.19V1210ZM473.19 1210V1208.3H480.04V1210ZM480.04 1210V1207.88H486.9V1210ZM486.9 1210V1207.45H493.75V1210Z" fill="#74acda"/>
<path d="M137.35 1210V1208.59H144.2V1210ZM144.2 1210V1207.88H151.06V1210ZM157.91 1210V1207.17H164.77V1210ZM466.33 1210V1208.3H473.19V1210ZM473.19 1210V1208.3H480.04V1210ZM480.04 1210V1207.88H486.9V1210ZM486.9 1210V1207.45H493.75V1210Z" fill="none" stroke="#08101f" stroke-width="0.9" stroke-linejoin="miter"/>
<path d="M151.06 1210V1206.89H157.91V1210ZM164.77 1210V1204.34H171.62V1210ZM171.62 1210V1206.18H178.47V1210ZM178.47 1210V1197.27H185.33V1210ZM185.33 1210V1202.5H192.18V1210ZM192.18 1210V1191.18H199.03V1210ZM199.03 1210V1178.31H205.89V1210ZM205.89 1210V1171.95H212.74V1210ZM212.74 1210V1159.5H219.6V1210ZM219.6 1210V1143.65H226.45V1210ZM226.45 1210V1130.5H233.3V1210ZM233.3 1210V1099.23H240.16V1210ZM240.16 1210V1075.89H247.01V1210ZM247.01 1210V1039.39H253.87V1210ZM253.87 1210V1022.56H260.72V1210ZM260.72 1210V991.01H267.57V1210ZM267.57 1210V941.5H274.43V1210ZM274.43 1210V928.62H281.28V1210ZM281.28 1210V874.02H288.13V1210ZM288.13 1210V846.86H294.99V1210ZM294.99 1210V816.16H301.84V1210ZM301.84 1210V819.41H308.7V1210ZM308.7 1210V822.24H315.55V1210ZM315.55 1210V826.2H322.4V1210ZM322.4 1210V821.82H329.26V1210ZM329.26 1210V836.95H336.11V1210ZM336.11 1210V887.46H342.97V1210ZM342.97 1210V908.11H349.82V1210ZM349.82 1210V929.75H356.67V1210ZM356.67 1210V941.78H363.53V1210ZM363.53 1210V972.9H370.38V1210ZM370.38 1210V996.1H377.23V1210ZM377.23 1210V1046.46H384.09V1210ZM384.09 1210V1075.89H390.94V1210ZM390.94 1210V1094.99H397.8V1210ZM397.8 1210V1129.93H404.65V1210ZM404.65 1210V1138.98H411.5V1210ZM411.5 1210V1158.79H418.36V1210ZM418.36 1210V1170.96H425.21V1210ZM425.21 1210V1183.69H432.07V1210ZM432.07 1210V1192.03H438.92V1210ZM438.92 1210V1195.43H445.77V1210ZM445.77 1210V1198.68H452.63V1210ZM452.63 1210V1197.27H459.48V1210ZM459.48 1210V1202.5H466.33V1210Z" fill="none" stroke="#08101f" stroke-width="1.85" stroke-linejoin="miter"/>
<line x1="523.7" y1="785.6" x2="523.7" y2="1210" stroke="#dc5257" stroke-width="1.3"/>
<text x="101" y="822.3" font-size="25.6" fill="#000">P-value &lt; 0.0001</text>
<text x="28" y="997.8" font-size="34.5" text-anchor="middle" transform="rotate(-90 28 997.8)" fill="#404040">Density</text>
<text x="315.55" y="1306" font-size="34.5" text-anchor="middle" fill="#404040">Correlation - Log Scale</text>
<text x="-0.8" y="758.3" font-size="33.6" font-weight="bold" fill="#000">d</text>
</g>
<g id="panel-e">
<path d="M705.09 1210v-5M705.09 785.6v5M808.25 1210v-5M808.25 785.6v5M911.4 1210v-5M911.4 785.6v5M1014.55 1210v-5M1014.55 785.6v5M1117.71 1210v-5M1117.71 785.6v5M687.9 1210h5M1134.9 1210h-5M687.9 1068.53h5M1134.9 1068.53h-5M687.9 927.07h5M1134.9 927.07h-5M687.9 785.6h5M1134.9 785.6h-5M687.9 785.6H1134.9V1210H687.9Z" fill="none" stroke="#474747" stroke-width="1.55"/>
<text x="672.1" y="1223.4" font-size="34.5" text-anchor="end" fill="#404040">0</text>
<text x="672.1" y="1081.93" font-size="34.5" text-anchor="end" fill="#404040">1</text>
<text x="672.1" y="940.47" font-size="34.5" text-anchor="end" fill="#404040">2</text>
<text x="672.1" y="799" font-size="34.5" text-anchor="end" fill="#404040">3</text>
<text x="705.09" y="1259.3" font-size="34.5" text-anchor="middle" fill="#404040">-0.6</text>
<text x="808.25" y="1259.3" font-size="34.5" text-anchor="middle" fill="#404040">-0.3</text>
<text x="911.4" y="1259.3" font-size="34.5" text-anchor="middle" fill="#404040">0</text>
<text x="1014.55" y="1259.3" font-size="34.5" text-anchor="middle" fill="#404040">0.3</text>
<text x="1117.71" y="1259.3" font-size="34.5" text-anchor="middle" fill="#404040">0.6</text>
<path d="M760.11 1210V1206.6H766.98V1210ZM766.98 1210V1204.34H773.86V1210ZM780.74 1210V1201.51H787.62V1210ZM787.62 1210V1187.79H794.49V1210ZM794.49 1210V1181.71H801.37V1210ZM801.37 1210V1180.29H808.25V1210ZM808.25 1210V1166.15H815.12V1210ZM815.12 1210V1146.34H822V1210ZM822 1210V1107.86H828.88V1210ZM828.88 1210V1096.97H835.75V1210ZM835.75 1210V1070.51H842.63V1210ZM842.63 1210V1030.05H849.51V1210ZM849.51 1210V1000.49H856.38V1210ZM856.38 1210V982.38H863.26V1210ZM863.26 1210V955.22H870.14V1210ZM870.14 1210V911.93H877.02V1210ZM877.02 1210V895.8H883.89V1210ZM883.89 1210V888.16H890.77V1210ZM890.77 1210V830.87H897.65V1210ZM897.65 1210V809.51H904.52V1210ZM904.52 1210V852.51H911.4V1210ZM911.4 1210V838.23H918.28V1210ZM918.28 1210V850.96H925.15V1210ZM925.15 1210V832.57H932.03V1210ZM932.03 1210V846.29H938.91V1210ZM938.91 1210V882.65H945.78V1210ZM945.78 1210V913.63H952.66V1210ZM952.66 1210V960.31H959.54V1210ZM959.54 1210V975.02H966.42V1210ZM966.42 1210V1004.17H973.29V1210ZM973.29 1210V1034.72H980.17V1210ZM980.17 1210V1056.37H987.05V1210ZM987.05 1210V1085.93H993.92V1210ZM993.92 1210V1119.6H1000.8V1210ZM1000.8 1210V1145.92H1007.68V1210ZM1007.68 1210V1162.89H1014.55V1210ZM1014.55 1210V1175.2H1021.43V1210ZM1021.43 1210V1176.61H1028.31V1210ZM1028.31 1210V1185.53H1035.18V1210ZM1035.18 1210V1197.27H1042.06V1210ZM1042.06 1210V1205.33H1048.94V1210ZM1048.94 1210V1203.92H1055.82V1210ZM1055.82 1210V1205.76H1062.69V1210ZM746.35 1210V1208.59H753.23V1210ZM753.23 1210V1207.17H760.11V1210ZM773.86 1210V1207.17H780.74V1210ZM1062.69 1210V1207.17H1069.57V1210ZM1069.57 1210V1208.3H1076.45V1210ZM1076.45 1210V1208.87H1083.32V1210ZM1083.32 1210V1209.15H1090.2V1210Z" fill="#74acda"/>
<path d="M746.35 1210V1208.59H753.23V1210ZM753.23 1210V1207.17H760.11V1210ZM773.86 1210V1207.17H780.74V1210ZM1062.69 1210V1207.17H1069.57V1210ZM1069.57 1210V1208.3H1076.45V1210ZM1076.45 1210V1208.87H1083.32V1210ZM1083.32 1210V1209.15H1090.2V1210Z" fill="none" stroke="#08101f" stroke-width="0.9" stroke-linejoin="miter"/>
<path d="M760.11 1210V1206.6H766.98V1210ZM766.98 1210V1204.34H773.86V1210ZM780.74 1210V1201.51H787.62V1210ZM787.62 1210V1187.79H794.49V1210ZM794.49 1210V1181.71H801.37V1210ZM801.37 1210V1180.29H808.25V1210ZM808.25 1210V1166.15H815.12V1210ZM815.12 1210V1146.34H822V1210ZM822 1210V1107.86H828.88V1210ZM828.88 1210V1096.97H835.75V1210ZM835.75 1210V1070.51H842.63V1210ZM842.63 1210V1030.05H849.51V1210ZM849.51 1210V1000.49H856.38V1210ZM856.38 1210V982.38H863.26V1210ZM863.26 1210V955.22H870.14V1210ZM870.14 1210V911.93H877.02V1210ZM877.02 1210V895.8H883.89V1210ZM883.89 1210V888.16H890.77V1210ZM890.77 1210V830.87H897.65V1210ZM897.65 1210V809.51H904.52V1210ZM904.52 1210V852.51H911.4V1210ZM911.4 1210V838.23H918.28V1210ZM918.28 1210V850.96H925.15V1210ZM925.15 1210V832.57H932.03V1210ZM932.03 1210V846.29H938.91V1210ZM938.91 1210V882.65H945.78V1210ZM945.78 1210V913.63H952.66V1210ZM952.66 1210V960.31H959.54V1210ZM959.54 1210V975.02H966.42V1210ZM966.42 1210V1004.17H973.29V1210ZM973.29 1210V1034.72H980.17V1210ZM980.17 1210V1056.37H987.05V1210ZM987.05 1210V1085.93H993.92V1210ZM993.92 1210V1119.6H1000.8V1210ZM1000.8 1210V1145.92H1007.68V1210ZM1007.68 1210V1162.89H1014.55V1210ZM1014.55 1210V1175.2H1021.43V1210ZM1021.43 1210V1176.61H1028.31V1210ZM1028.31 1210V1185.53H1035.18V1210ZM1035.18 1210V1197.27H1042.06V1210ZM1042.06 1210V1205.33H1048.94V1210ZM1048.94 1210V1203.92H1055.82V1210ZM1055.82 1210V1205.76H1062.69V1210Z" fill="none" stroke="#08101f" stroke-width="1.85" stroke-linejoin="miter"/>
<line x1="1060" y1="785.6" x2="1060" y2="1210" stroke="#dc5257" stroke-width="1.3"/>
<text x="696.5" y="822.3" font-size="25.6" fill="#000">P-value &lt; 0.0009</text>
<text x="616.5" y="997.8" font-size="34.5" text-anchor="middle" transform="rotate(-90 616.5 997.8)" fill="#404040">Density</text>
<text x="911.4" y="1306" font-size="34.5" text-anchor="middle" fill="#404040">Correlation - Log Scale</text>
<text x="588.5" y="758.3" font-size="33.6" font-weight="bold" fill="#000">e</text>
</g>
<g id="panel-f">
<path d="M1299.32 1210v-5M1299.32 785.6v5M1402.63 1210v-5M1402.63 785.6v5M1505.95 1210v-5M1505.95 785.6v5M1609.27 1210v-5M1609.27 785.6v5M1712.58 1210v-5M1712.58 785.6v5M1282.1 1210h5M1729.8 1210h-5M1282.1 1068.53h5M1729.8 1068.53h-5M1282.1 927.07h5M1729.8 927.07h-5M1282.1 785.6h5M1729.8 785.6h-5M1282.1 785.6H1729.8V1210H1282.1Z" fill="none" stroke="#474747" stroke-width="1.55"/>
<text x="1266.3" y="1223.4" font-size="34.5" text-anchor="end" fill="#404040">0</text>
<text x="1266.3" y="1081.93" font-size="34.5" text-anchor="end" fill="#404040">1</text>
<text x="1266.3" y="940.47" font-size="34.5" text-anchor="end" fill="#404040">2</text>
<text x="1266.3" y="799" font-size="34.5" text-anchor="end" fill="#404040">3</text>
<text x="1299.32" y="1259.3" font-size="34.5" text-anchor="middle" fill="#404040">-0.6</text>
<text x="1402.63" y="1259.3" font-size="34.5" text-anchor="middle" fill="#404040">-0.3</text>
<text x="1505.95" y="1259.3" font-size="34.5" text-anchor="middle" fill="#404040">0</text>
<text x="1609.27" y="1259.3" font-size="34.5" text-anchor="middle" fill="#404040">0.3</text>
<text x="1712.58" y="1259.3" font-size="34.5" text-anchor="middle" fill="#404040">0.6</text>
<path d="M1340.65 1210V1203.78H1350.98V1210ZM1350.98 1210V1199.11H1361.31V1210ZM1361.31 1210V1196.7H1371.64V1210ZM1371.64 1210V1181.14H1381.97V1210ZM1381.97 1210V1174.07H1392.3V1210ZM1392.3 1210V1156.67H1402.63V1210ZM1402.63 1210V1123.42H1412.97V1210ZM1412.97 1210V1101.92H1423.3V1210ZM1423.3 1210V1077.16H1433.63V1210ZM1433.63 1210V1032.88H1443.96V1210ZM1443.96 1210V1005.01H1454.29V1210ZM1454.29 1210V962.86H1464.62V1210ZM1464.62 1210V928.48H1474.96V1210ZM1474.96 1210V908.68H1485.29V1210ZM1485.29 1210V880.1H1495.62V1210ZM1495.62 1210V854.92H1505.95V1210ZM1505.95 1210V869.35H1516.28V1210ZM1516.28 1210V879.68H1526.61V1210ZM1526.61 1210V893.11H1536.94V1210ZM1536.94 1210V944.33H1547.28V1210ZM1547.28 1210V951.96H1557.61V1210ZM1557.61 1210V997.94H1567.94V1210ZM1567.94 1210V1037.69H1578.27V1210ZM1578.27 1210V1066.98H1588.6V1210ZM1588.6 1210V1115.08H1598.93V1210ZM1598.93 1210V1139.55H1609.27V1210ZM1609.27 1210V1162.18H1619.6V1210ZM1619.6 1210V1171.24H1629.93V1210ZM1629.93 1210V1191.47H1640.26V1210ZM1640.26 1210V1198.4H1650.59V1210ZM1650.59 1210V1197.83H1660.92V1210ZM1660.92 1210V1206.6H1671.25V1210ZM1288.99 1210V1208.87H1299.32V1210ZM1299.32 1210V1208.59H1309.65V1210ZM1319.98 1210V1209.01H1330.31V1210ZM1330.31 1210V1207.88H1340.65V1210ZM1671.25 1210V1207.88H1681.59V1210ZM1681.59 1210V1209.01H1691.92V1210ZM1712.58 1210V1209.29H1722.91V1210Z" fill="#74acda"/>
<path d="M1288.99 1210V1208.87H1299.32V1210ZM1299.32 1210V1208.59H1309.65V1210ZM1319.98 1210V1209.01H1330.31V1210ZM1330.31 1210V1207.88H1340.65V1210ZM1671.25 1210V1207.88H1681.59V1210ZM1681.59 1210V1209.01H1691.92V1210ZM1712.58 1210V1209.29H1722.91V1210Z" fill="none" stroke="#08101f" stroke-width="0.9" stroke-linejoin="miter"/>
<path d="M1340.65 1210V1203.78H1350.98V1210ZM1350.98 1210V1199.11H1361.31V1210ZM1361.31 1210V1196.7H1371.64V1210ZM1371.64 1210V1181.14H1381.97V1210ZM1381.97 1210V1174.07H1392.3V1210ZM1392.3 1210V1156.67H1402.63V1210ZM1402.63 1210V1123.42H1412.97V1210ZM1412.97 1210V1101.92H1423.3V1210ZM1423.3 1210V1077.16H1433.63V1210ZM1433.63 1210V1032.88H1443.96V1210ZM1443.96 1210V1005.01H1454.29V1210ZM1454.29 1210V962.86H1464.62V1210ZM1464.62 1210V928.48H1474.96V1210ZM1474.96 1210V908.68H1485.29V1210ZM1485.29 1210V880.1H1495.62V1210ZM1495.62 1210V854.92H1505.95V1210ZM1505.95 1210V869.35H1516.28V1210ZM1516.28 1210V879.68H1526.61V1210ZM1526.61 1210V893.11H1536.94V1210ZM1536.94 1210V944.33H1547.28V1210ZM1547.28 1210V951.96H1557.61V1210ZM1557.61 1210V997.94H1567.94V1210ZM1567.94 1210V1037.69H1578.27V1210ZM1578.27 1210V1066.98H1588.6V1210ZM1588.6 1210V1115.08H1598.93V1210ZM1598.93 1210V1139.55H1609.27V1210ZM1609.27 1210V1162.18H1619.6V1210ZM1619.6 1210V1171.24H1629.93V1210ZM1629.93 1210V1191.47H1640.26V1210ZM1640.26 1210V1198.4H1650.59V1210ZM1650.59 1210V1197.83H1660.92V1210ZM1660.92 1210V1206.6H1671.25V1210Z" fill="none" stroke="#08101f" stroke-width="1.85" stroke-linejoin="miter"/>
<line x1="1661.5" y1="785.6" x2="1661.5" y2="1210" stroke="#dc5257" stroke-width="1.3"/>
<text x="1295.5" y="822.3" font-size="25.6" fill="#000">P-value &lt; 0.0013</text>
<text x="1213.5" y="997.8" font-size="34.5" text-anchor="middle" transform="rotate(-90 1213.5 997.8)" fill="#404040">Density</text>
<text x="1505.95" y="1306" font-size="34.5" text-anchor="middle" fill="#404040">Correlation - Log Scale</text>
<text x="1199" y="758.3" font-size="33.6" font-weight="bold" fill="#000">f</text>
</g>
<g id="panel-g">
<path d="M109.93 1803.8v-5M109.93 1379.6v5M212.74 1803.8v-5M212.74 1379.6v5M315.55 1803.8v-5M315.55 1379.6v5M418.36 1803.8v-5M418.36 1379.6v5M521.17 1803.8v-5M521.17 1379.6v5M92.8 1803.8h5M538.3 1803.8h-5M92.8 1662.4h5M538.3 1662.4h-5M92.8 1521h5M538.3 1521h-5M92.8 1379.6h5M538.3 1379.6h-5M92.8 1379.6H538.3V1803.8H92.8Z" fill="none" stroke="#474747" stroke-width="1.55"/>
<text x="77" y="1817.2" font-size="34.5" text-anchor="end" fill="#404040">0</text>
<text x="77" y="1675.8" font-size="34.5" text-anchor="end" fill="#404040">1</text>
<text x="77" y="1534.4" font-size="34.5" text-anchor="end" fill="#404040">2</text>
<text x="77" y="1393" font-size="34.5" text-anchor="end" fill="#404040">3</text>
<text x="109.93" y="1854.3" font-size="34.5" text-anchor="middle" fill="#404040">-0.6</text>
<text x="212.74" y="1854.3" font-size="34.5" text-anchor="middle" fill="#404040">-0.3</text>
<text x="315.55" y="1854.3" font-size="34.5" text-anchor="middle" fill="#404040">0</text>
<text x="418.36" y="1854.3" font-size="34.5" text-anchor="middle" fill="#404040">0.3</text>
<text x="521.17" y="1854.3" font-size="34.5" text-anchor="middle" fill="#404040">0.6</text>
<path d="M171.62 1803.8V1800.41H178.47V1803.8ZM178.47 1803.8V1792.91H185.33V1803.8ZM185.33 1803.8V1795.74H192.18V1803.8ZM192.18 1803.8V1788.1H199.03V1803.8ZM199.03 1803.8V1767.74H205.89V1803.8ZM205.89 1803.8V1768.31H212.74V1803.8ZM212.74 1803.8V1756.01H219.6V1803.8ZM219.6 1803.8V1730.98H226.45V1803.8ZM226.45 1803.8V1712.6H233.3V1803.8ZM233.3 1803.8V1708.92H240.16V1803.8ZM240.16 1803.8V1668.34H247.01V1803.8ZM247.01 1803.8V1638.5H253.87V1803.8ZM253.87 1803.8V1622.1H260.72V1803.8ZM260.72 1803.8V1570.49H267.57V1803.8ZM267.57 1803.8V1527.79H274.43V1803.8ZM274.43 1803.8V1520.72H281.28V1803.8ZM281.28 1803.8V1453.69H288.13V1803.8ZM288.13 1803.8V1465.85H294.99V1803.8ZM294.99 1803.8V1464.44H301.84V1803.8ZM301.84 1803.8V1416.36H308.7V1803.8ZM308.7 1803.8V1403.21H315.55V1803.8ZM315.55 1803.8V1408.3H322.4V1803.8ZM322.4 1803.8V1424H329.26V1803.8ZM329.26 1803.8V1442.24H336.11V1803.8ZM336.11 1803.8V1469.25H342.97V1803.8ZM342.97 1803.8V1475.75H349.82V1803.8ZM349.82 1803.8V1506.01H356.67V1803.8ZM356.67 1803.8V1525.81H363.53V1803.8ZM363.53 1803.8V1575.44H370.38V1803.8ZM370.38 1803.8V1610.79H377.23V1803.8ZM377.23 1803.8V1634.97H384.09V1803.8ZM384.09 1803.8V1655.47H390.94V1803.8ZM390.94 1803.8V1695.63H397.8V1803.8ZM397.8 1803.8V1719.81H404.65V1803.8ZM404.65 1803.8V1739.04H411.5V1803.8ZM411.5 1803.8V1750.35H418.36V1803.8ZM418.36 1803.8V1772.69H425.21V1803.8ZM425.21 1803.8V1773.4H432.07V1803.8ZM432.07 1803.8V1780.61H438.92V1803.8ZM438.92 1803.8V1792.91H445.77V1803.8ZM445.77 1803.8V1797.58H452.63V1803.8ZM452.63 1803.8V1796.73H459.48V1803.8ZM459.48 1803.8V1797.58H466.33V1803.8ZM466.33 1803.8V1800.41H473.19V1803.8ZM130.5 1803.8V1803.23H137.35V1803.8ZM137.35 1803.8V1802.95H144.2V1803.8ZM144.2 1803.8V1802.95H151.06V1803.8ZM151.06 1803.8V1802.95H157.91V1803.8ZM157.91 1803.8V1801.68H164.77V1803.8ZM164.77 1803.8V1800.97H171.62V1803.8ZM473.19 1803.8V1802.39H480.04V1803.8ZM480.04 1803.8V1802.1H486.9V1803.8Z" fill="#74acda"/>
<path d="M130.5 1803.8V1803.23H137.35V1803.8ZM137.35 1803.8V1802.95H144.2V1803.8ZM144.2 1803.8V1802.95H151.06V1803.8ZM151.06 1803.8V1802.95H157.91V1803.8ZM157.91 1803.8V1801.68H164.77V1803.8ZM164.77 1803.8V1800.97H171.62V1803.8ZM473.19 1803.8V1802.39H480.04V1803.8ZM480.04 1803.8V1802.1H486.9V1803.8Z" fill="none" stroke="#08101f" stroke-width="0.9" stroke-linejoin="miter"/>
<path d="M171.62 1803.8V1800.41H178.47V1803.8ZM178.47 1803.8V1792.91H185.33V1803.8ZM185.33 1803.8V1795.74H192.18V1803.8ZM192.18 1803.8V1788.1H199.03V1803.8ZM199.03 1803.8V1767.74H205.89V1803.8ZM205.89 1803.8V1768.31H212.74V1803.8ZM212.74 1803.8V1756.01H219.6V1803.8ZM219.6 1803.8V1730.98H226.45V1803.8ZM226.45 1803.8V1712.6H233.3V1803.8ZM233.3 1803.8V1708.92H240.16V1803.8ZM240.16 1803.8V1668.34H247.01V1803.8ZM247.01 1803.8V1638.5H253.87V1803.8ZM253.87 1803.8V1622.1H260.72V1803.8ZM260.72 1803.8V1570.49H267.57V1803.8ZM267.57 1803.8V1527.79H274.43V1803.8ZM274.43 1803.8V1520.72H281.28V1803.8ZM281.28 1803.8V1453.69H288.13V1803.8ZM288.13 1803.8V1465.85H294.99V1803.8ZM294.99 1803.8V1464.44H301.84V1803.8ZM301.84 1803.8V1416.36H308.7V1803.8ZM308.7 1803.8V1403.21H315.55V1803.8ZM315.55 1803.8V1408.3H322.4V1803.8ZM322.4 1803.8V1424H329.26V1803.8ZM329.26 1803.8V1442.24H336.11V1803.8ZM336.11 1803.8V1469.25H342.97V1803.8ZM342.97 1803.8V1475.75H349.82V1803.8ZM349.82 1803.8V1506.01H356.67V1803.8ZM356.67 1803.8V1525.81H363.53V1803.8ZM363.53 1803.8V1575.44H370.38V1803.8ZM370.38 1803.8V1610.79H377.23V1803.8ZM377.23 1803.8V1634.97H384.09V1803.8ZM384.09 1803.8V1655.47H390.94V1803.8ZM390.94 1803.8V1695.63H397.8V1803.8ZM397.8 1803.8V1719.81H404.65V1803.8ZM404.65 1803.8V1739.04H411.5V1803.8ZM411.5 1803.8V1750.35H418.36V1803.8ZM418.36 1803.8V1772.69H425.21V1803.8ZM425.21 1803.8V1773.4H432.07V1803.8ZM432.07 1803.8V1780.61H438.92V1803.8ZM438.92 1803.8V1792.91H445.77V1803.8ZM445.77 1803.8V1797.58H452.63V1803.8ZM452.63 1803.8V1796.73H459.48V1803.8ZM459.48 1803.8V1797.58H466.33V1803.8ZM466.33 1803.8V1800.41H473.19V1803.8Z" fill="none" stroke="#08101f" stroke-width="1.85" stroke-linejoin="miter"/>
<line x1="490.6" y1="1379.6" x2="490.6" y2="1803.8" stroke="#dc5257" stroke-width="1.3"/>
<text x="101" y="1417.2" font-size="25.6" fill="#000">P-value &lt; 0.0001</text>
<text x="28" y="1591.7" font-size="34.5" text-anchor="middle" transform="rotate(-90 28 1591.7)" fill="#404040">Density</text>
<text x="315.55" y="1899.8" font-size="34.5" text-anchor="middle" fill="#404040">Correlation - Linear Scale</text>
<text x="-0.8" y="1352.3" font-size="33.6" font-weight="bold" fill="#000">g</text>
</g>
<g id="panel-h">
<path d="M704.99 1803.5v-5M704.99 1379.6v5M808.18 1803.5v-5M808.18 1379.6v5M911.37 1803.5v-5M911.37 1379.6v5M1014.57 1803.5v-5M1014.57 1379.6v5M1117.76 1803.5v-5M1117.76 1379.6v5M686 1803.5h5M1135.2 1803.5h-5M686 1662.2h5M1135.2 1662.2h-5M686 1520.9h5M1135.2 1520.9h-5M686 1379.6h5M1135.2 1379.6h-5M686 1379.6H1135.2V1803.5H686Z" fill="none" stroke="#474747" stroke-width="1.55"/>
<text x="670.2" y="1816.9" font-size="34.5" text-anchor="end" fill="#404040">0</text>
<text x="670.2" y="1675.6" font-size="34.5" text-anchor="end" fill="#404040">1</text>
<text x="670.2" y="1534.3" font-size="34.5" text-anchor="end" fill="#404040">2</text>
<text x="670.2" y="1393" font-size="34.5" text-anchor="end" fill="#404040">3</text>
<text x="704.99" y="1854" font-size="34.5" text-anchor="middle" fill="#404040">-0.6</text>
<text x="808.18" y="1854" font-size="34.5" text-anchor="middle" fill="#404040">-0.3</text>
<text x="911.37" y="1854" font-size="34.5" text-anchor="middle" fill="#404040">0</text>
<text x="1014.57" y="1854" font-size="34.5" text-anchor="middle" fill="#404040">0.3</text>
<text x="1117.76" y="1854" font-size="34.5" text-anchor="middle" fill="#404040">0.6</text>
<path d="M766.9 1803.5V1798.27H773.78V1803.5ZM773.78 1803.5V1795.02H780.66V1803.5ZM780.66 1803.5V1792.05H787.54V1803.5ZM787.54 1803.5V1786.97H794.42V1803.5ZM794.42 1803.5V1780.75H801.3V1803.5ZM801.3 1803.5V1765.63H808.18V1803.5ZM808.18 1803.5V1754.33H815.06V1803.5ZM815.06 1803.5V1740.2H821.94V1803.5ZM821.94 1803.5V1712.36H828.82V1803.5ZM828.82 1803.5V1705.3H835.7V1803.5ZM835.7 1803.5V1666.16H842.58V1803.5ZM842.58 1803.5V1647.36H849.46V1803.5ZM849.46 1803.5V1591.41H856.34V1803.5ZM856.34 1803.5V1557.36H863.22V1803.5ZM863.22 1803.5V1528.95H870.1V1803.5ZM870.1 1803.5V1493.63H876.98V1803.5ZM876.98 1803.5V1485.72H883.86V1803.5ZM883.86 1803.5V1446.58H890.74V1803.5ZM890.74 1803.5V1456.89H897.61V1803.5ZM897.61 1803.5V1426.23H904.49V1803.5ZM904.49 1803.5V1412.52H911.37V1803.5ZM911.37 1803.5V1413.51H918.25V1803.5ZM918.25 1803.5V1428.21H925.13V1803.5ZM925.13 1803.5V1448.84H932.01V1803.5ZM932.01 1803.5V1472.58H938.89V1803.5ZM938.89 1803.5V1469.47H945.77V1803.5ZM945.77 1803.5V1548.03H952.65V1803.5ZM952.65 1803.5V1523.3H959.53V1803.5ZM959.53 1803.5V1554.53H966.41V1803.5ZM966.41 1803.5V1592.26H973.29V1803.5ZM973.29 1803.5V1648.35H980.17V1803.5ZM980.17 1803.5V1656.27H987.05V1803.5ZM987.05 1803.5V1699.64H993.93V1803.5ZM993.93 1803.5V1701.62H1000.81V1803.5ZM1000.81 1803.5V1729.03H1007.69V1803.5ZM1007.69 1803.5V1754.47H1014.57V1803.5ZM1014.57 1803.5V1766.2H1021.45V1803.5ZM1021.45 1803.5V1774.67H1028.33V1803.5ZM1028.33 1803.5V1785.41H1035.21V1803.5ZM1035.21 1803.5V1792.05H1042.09V1803.5ZM1042.09 1803.5V1795.02H1048.96V1803.5ZM1048.96 1803.5V1799.26H1055.84V1803.5ZM1069.6 1803.5V1799.26H1076.48V1803.5ZM746.26 1803.5V1802.79H753.14V1803.5ZM753.14 1803.5V1802.09H760.02V1803.5ZM760.02 1803.5V1801.38H766.9V1803.5ZM1055.84 1803.5V1801.38H1062.72V1803.5ZM1062.72 1803.5V1800.67H1069.6V1803.5ZM1076.48 1803.5V1800.67H1083.36V1803.5ZM1083.36 1803.5V1802.37H1090.24V1803.5Z" fill="#74acda"/>
<path d="M746.26 1803.5V1802.79H753.14V1803.5ZM753.14 1803.5V1802.09H760.02V1803.5ZM760.02 1803.5V1801.38H766.9V1803.5ZM1055.84 1803.5V1801.38H1062.72V1803.5ZM1062.72 1803.5V1800.67H1069.6V1803.5ZM1076.48 1803.5V1800.67H1083.36V1803.5ZM1083.36 1803.5V1802.37H1090.24V1803.5Z" fill="none" stroke="#08101f" stroke-width="0.9" stroke-linejoin="miter"/>
<path d="M766.9 1803.5V1798.27H773.78V1803.5ZM773.78 1803.5V1795.02H780.66V1803.5ZM780.66 1803.5V1792.05H787.54V1803.5ZM787.54 1803.5V1786.97H794.42V1803.5ZM794.42 1803.5V1780.75H801.3V1803.5ZM801.3 1803.5V1765.63H808.18V1803.5ZM808.18 1803.5V1754.33H815.06V1803.5ZM815.06 1803.5V1740.2H821.94V1803.5ZM821.94 1803.5V1712.36H828.82V1803.5ZM828.82 1803.5V1705.3H835.7V1803.5ZM835.7 1803.5V1666.16H842.58V1803.5ZM842.58 1803.5V1647.36H849.46V1803.5ZM849.46 1803.5V1591.41H856.34V1803.5ZM856.34 1803.5V1557.36H863.22V1803.5ZM863.22 1803.5V1528.95H870.1V1803.5ZM870.1 1803.5V1493.63H876.98V1803.5ZM876.98 1803.5V1485.72H883.86V1803.5ZM883.86 1803.5V1446.58H890.74V1803.5ZM890.74 1803.5V1456.89H897.61V1803.5ZM897.61 1803.5V1426.23H904.49V1803.5ZM904.49 1803.5V1412.52H911.37V1803.5ZM911.37 1803.5V1413.51H918.25V1803.5ZM918.25 1803.5V1428.21H925.13V1803.5ZM925.13 1803.5V1448.84H932.01V1803.5ZM932.01 1803.5V1472.58H938.89V1803.5ZM938.89 1803.5V1469.47H945.77V1803.5ZM945.77 1803.5V1548.03H952.65V1803.5ZM952.65 1803.5V1523.3H959.53V1803.5ZM959.53 1803.5V1554.53H966.41V1803.5ZM966.41 1803.5V1592.26H973.29V1803.5ZM973.29 1803.5V1648.35H980.17V1803.5ZM980.17 1803.5V1656.27H987.05V1803.5ZM987.05 1803.5V1699.64H993.93V1803.5ZM993.93 1803.5V1701.62H1000.81V1803.5ZM1000.81 1803.5V1729.03H1007.69V1803.5ZM1007.69 1803.5V1754.47H1014.57V1803.5ZM1014.57 1803.5V1766.2H1021.45V1803.5ZM1021.45 1803.5V1774.67H1028.33V1803.5ZM1028.33 1803.5V1785.41H1035.21V1803.5ZM1035.21 1803.5V1792.05H1042.09V1803.5ZM1042.09 1803.5V1795.02H1048.96V1803.5ZM1048.96 1803.5V1799.26H1055.84V1803.5ZM1069.6 1803.5V1799.26H1076.48V1803.5Z" fill="none" stroke="#08101f" stroke-width="1.85" stroke-linejoin="miter"/>
<line x1="1053.3" y1="1379.6" x2="1053.3" y2="1803.5" stroke="#dc5257" stroke-width="1.3"/>
<text x="701.8" y="1417.2" font-size="25.6" fill="#000">P-value &lt; 0.0015</text>
<text x="616.5" y="1591.55" font-size="34.5" text-anchor="middle" transform="rotate(-90 616.5 1591.55)" fill="#404040">Density</text>
<text x="910.6" y="1899.5" font-size="34.5" text-anchor="middle" fill="#404040">Correlation - Linear Scale</text>
<text x="588.5" y="1352.3" font-size="33.6" font-weight="bold" fill="#000">h</text>
</g>
<g id="panel-i">
<path d="M1299.32 1803.8v-5M1299.32 1379.6v5M1402.63 1803.8v-5M1402.63 1379.6v5M1505.95 1803.8v-5M1505.95 1379.6v5M1609.27 1803.8v-5M1609.27 1379.6v5M1712.58 1803.8v-5M1712.58 1379.6v5M1282.1 1803.8h5M1729.8 1803.8h-5M1282.1 1662.4h5M1729.8 1662.4h-5M1282.1 1521h5M1729.8 1521h-5M1282.1 1379.6h5M1729.8 1379.6h-5M1282.1 1379.6H1729.8V1803.8H1282.1Z" fill="none" stroke="#474747" stroke-width="1.55"/>
<text x="1266.3" y="1817.2" font-size="34.5" text-anchor="end" fill="#404040">0</text>
<text x="1266.3" y="1675.8" font-size="34.5" text-anchor="end" fill="#404040">1</text>
<text x="1266.3" y="1534.4" font-size="34.5" text-anchor="end" fill="#404040">2</text>
<text x="1266.3" y="1393" font-size="34.5" text-anchor="end" fill="#404040">3</text>
<text x="1299.32" y="1854.3" font-size="34.5" text-anchor="middle" fill="#404040">-0.6</text>
<text x="1402.63" y="1854.3" font-size="34.5" text-anchor="middle" fill="#404040">-0.3</text>
<text x="1505.95" y="1854.3" font-size="34.5" text-anchor="middle" fill="#404040">0</text>
<text x="1609.27" y="1854.3" font-size="34.5" text-anchor="middle" fill="#404040">0.3</text>
<text x="1712.58" y="1854.3" font-size="34.5" text-anchor="middle" fill="#404040">0.6</text>
<path d="M1340.65 1803.8V1800.69H1350.98V1803.8ZM1350.98 1803.8V1799.28H1361.31V1803.8ZM1361.31 1803.8V1789.24H1371.64V1803.8ZM1371.64 1803.8V1781.6H1381.97V1803.8ZM1381.97 1803.8V1769.44H1392.3V1803.8ZM1392.3 1803.8V1743.56H1402.63V1803.8ZM1402.63 1803.8V1724.19H1412.97V1803.8ZM1412.97 1803.8V1685.73H1423.3V1803.8ZM1423.3 1803.8V1669.47H1433.63V1803.8ZM1433.63 1803.8V1636.38H1443.96V1803.8ZM1443.96 1803.8V1602.3H1454.29V1803.8ZM1454.29 1803.8V1552.25H1464.62V1803.8ZM1464.62 1803.8V1526.8H1474.96V1803.8ZM1474.96 1803.8V1463.45H1485.29V1803.8ZM1485.29 1803.8V1448.74H1495.62V1803.8ZM1495.62 1803.8V1471.37H1505.95V1803.8ZM1505.95 1803.8V1463.03H1516.28V1803.8ZM1516.28 1803.8V1457.09H1526.61V1803.8ZM1526.61 1803.8V1504.17H1536.94V1803.8ZM1536.94 1803.8V1541.08H1547.28V1803.8ZM1547.28 1803.8V1580.81H1557.61V1803.8ZM1557.61 1803.8V1582.79H1567.94V1803.8ZM1567.94 1803.8V1639.78H1578.27V1803.8ZM1578.27 1803.8V1676.82H1588.6V1803.8ZM1588.6 1803.8V1684.46H1598.93V1803.8ZM1598.93 1803.8V1736.35H1609.27V1803.8ZM1609.27 1803.8V1755.87H1619.6V1803.8ZM1619.6 1803.8V1780.89H1629.93V1803.8ZM1629.93 1803.8V1786.83H1640.26V1803.8ZM1640.26 1803.8V1795.17H1650.59V1803.8ZM1650.59 1803.8V1796.87H1660.92V1803.8ZM1660.92 1803.8V1799.56H1671.25V1803.8ZM1319.98 1803.8V1803.09H1330.31V1803.8ZM1330.31 1803.8V1802.81H1340.65V1803.8ZM1671.25 1803.8V1801.25H1681.59V1803.8ZM1681.59 1803.8V1802.39H1691.92V1803.8Z" fill="#74acda"/>
<path d="M1319.98 1803.8V1803.09H1330.31V1803.8ZM1330.31 1803.8V1802.81H1340.65V1803.8ZM1671.25 1803.8V1801.25H1681.59V1803.8ZM1681.59 1803.8V1802.39H1691.92V1803.8Z" fill="none" stroke="#08101f" stroke-width="0.9" stroke-linejoin="miter"/>
<path d="M1340.65 1803.8V1800.69H1350.98V1803.8ZM1350.98 1803.8V1799.28H1361.31V1803.8ZM1361.31 1803.8V1789.24H1371.64V1803.8ZM1371.64 1803.8V1781.6H1381.97V1803.8ZM1381.97 1803.8V1769.44H1392.3V1803.8ZM1392.3 1803.8V1743.56H1402.63V1803.8ZM1402.63 1803.8V1724.19H1412.97V1803.8ZM1412.97 1803.8V1685.73H1423.3V1803.8ZM1423.3 1803.8V1669.47H1433.63V1803.8ZM1433.63 1803.8V1636.38H1443.96V1803.8ZM1443.96 1803.8V1602.3H1454.29V1803.8ZM1454.29 1803.8V1552.25H1464.62V1803.8ZM1464.62 1803.8V1526.8H1474.96V1803.8ZM1474.96 1803.8V1463.45H1485.29V1803.8ZM1485.29 1803.8V1448.74H1495.62V1803.8ZM1495.62 1803.8V1471.37H1505.95V1803.8ZM1505.95 1803.8V1463.03H1516.28V1803.8ZM1516.28 1803.8V1457.09H1526.61V1803.8ZM1526.61 1803.8V1504.17H1536.94V1803.8ZM1536.94 1803.8V1541.08H1547.28V1803.8ZM1547.28 1803.8V1580.81H1557.61V1803.8ZM1557.61 1803.8V1582.79H1567.94V1803.8ZM1567.94 1803.8V1639.78H1578.27V1803.8ZM1578.27 1803.8V1676.82H1588.6V1803.8ZM1588.6 1803.8V1684.46H1598.93V1803.8ZM1598.93 1803.8V1736.35H1609.27V1803.8ZM1609.27 1803.8V1755.87H1619.6V1803.8ZM1619.6 1803.8V1780.89H1629.93V1803.8ZM1629.93 1803.8V1786.83H1640.26V1803.8ZM1640.26 1803.8V1795.17H1650.59V1803.8ZM1650.59 1803.8V1796.87H1660.92V1803.8ZM1660.92 1803.8V1799.56H1671.25V1803.8Z" fill="none" stroke="#08101f" stroke-width="1.85" stroke-linejoin="miter"/>
<line x1="1687.1" y1="1379.6" x2="1687.1" y2="1803.8" stroke="#dc5257" stroke-width="1.3"/>
<text x="1295.5" y="1417.2" font-size="25.6" fill="#000">P-value &lt; 0.0001</text>
<text x="1213.5" y="1591.7" font-size="34.5" text-anchor="middle" transform="rotate(-90 1213.5 1591.7)" fill="#404040">Density</text>
<text x="1505.95" y="1899.8" font-size="34.5" text-anchor="middle" fill="#404040">Correlation - Linear Scale</text>
<text x="1199" y="1352.3" font-size="33.6" font-weight="bold" fill="#000">i</text>
</g>
<g id="panel-j">
<rect x="96.7" y="1997" width="110.89" height="444.2" fill="#f3dcdc"/>
<rect x="452.35" y="1997" width="89.05" height="444.2" fill="#f3dcdc"/>
<path d="M175.73 2441.2v-5M175.73 1997v5M288.32 2441.2v-5M288.32 1997v5M400.9 2441.2v-5M400.9 1997v5M513.48 2441.2v-5M513.48 1997v5M96.7 2441.2h5M541.4 2441.2h-5M96.7 2377.74h5M541.4 2377.74h-5M96.7 2314.29h5M541.4 2314.29h-5M96.7 2250.83h5M541.4 2250.83h-5M96.7 2187.37h5M541.4 2187.37h-5M96.7 2123.91h5M541.4 2123.91h-5M96.7 2060.46h5M541.4 2060.46h-5M96.7 1997h5M541.4 1997h-5M96.7 1997H541.4V2441.2H96.7Z" fill="none" stroke="#474747" stroke-width="1.55"/>
<text x="76.4" y="2452.4" font-size="34.5" text-anchor="end" fill="#404040">0</text>
<text x="76.4" y="2388.94" font-size="34.5" text-anchor="end" fill="#404040">1</text>
<text x="76.4" y="2325.49" font-size="34.5" text-anchor="end" fill="#404040">2</text>
<text x="76.4" y="2262.03" font-size="34.5" text-anchor="end" fill="#404040">3</text>
<text x="76.4" y="2198.57" font-size="34.5" text-anchor="end" fill="#404040">4</text>
<text x="76.4" y="2135.11" font-size="34.5" text-anchor="end" fill="#404040">5</text>
<text x="76.4" y="2071.66" font-size="34.5" text-anchor="end" fill="#404040">6</text>
<text x="76.4" y="2008.2" font-size="34.5" text-anchor="end" fill="#404040">7</text>
<text x="180.23" y="2482.5" font-size="34.5" text-anchor="middle" fill="#404040">0.4</text>
<text x="292.82" y="2482.5" font-size="34.5" text-anchor="middle" fill="#404040">0.5</text>
<text x="405.4" y="2482.5" font-size="34.5" text-anchor="middle" fill="#404040">0.6</text>
<text x="517.98" y="2482.5" font-size="34.5" text-anchor="middle" fill="#404040">0.7</text>
<path d="M119.44 2441.2V2415.82H175.73V2441.2ZM175.73 2441.2V2348.55H232.02V2441.2ZM232.02 2441.2V2260.98H288.32V2441.2ZM288.32 2441.2V2021.43H344.61V2441.2ZM344.61 2441.2V2132.16H400.9V2441.2ZM400.9 2441.2V2257.17H457.19V2441.2ZM457.19 2441.2V2397.41H513.48V2441.2ZM513.48 2441.2V2431.68H541.4V2441.2ZM96.7 2441.2V2438.66H119.44V2441.2Z" fill="#74acda"/>
<clipPath id="pk1">
<rect x="96.7" y="1997" width="110.89" height="444.2" fill="#000"/>
<rect x="452.35" y="1997" width="89.05" height="444.2" fill="#000"/>
</clipPath>
<path d="M119.44 2441.2V2415.82H175.73V2441.2ZM175.73 2441.2V2348.55H232.02V2441.2ZM232.02 2441.2V2260.98H288.32V2441.2ZM288.32 2441.2V2021.43H344.61V2441.2ZM344.61 2441.2V2132.16H400.9V2441.2ZM400.9 2441.2V2257.17H457.19V2441.2ZM457.19 2441.2V2397.41H513.48V2441.2ZM513.48 2441.2V2431.68H541.4V2441.2ZM96.7 2441.2V2438.66H119.44V2441.2Z" fill="#8097cc" clip-path="url(#pk1)"/>
<path d="M96.7 2441.2V2438.66H119.44V2441.2Z" fill="none" stroke="#08101f" stroke-width="0.9" stroke-linejoin="miter"/>
<path d="M119.44 2441.2V2415.82H175.73V2441.2ZM175.73 2441.2V2348.55H232.02V2441.2ZM232.02 2441.2V2260.98H288.32V2441.2ZM288.32 2441.2V2021.43H344.61V2441.2ZM344.61 2441.2V2132.16H400.9V2441.2ZM400.9 2441.2V2257.17H457.19V2441.2ZM457.19 2441.2V2397.41H513.48V2441.2ZM513.48 2441.2V2431.68H541.4V2441.2Z" fill="none" stroke="#08101f" stroke-width="2" stroke-linejoin="miter"/>
<line x1="195.77" y1="1997.8" x2="195.77" y2="2440.4" stroke="#5c5c5c" stroke-width="7" stroke-opacity="0.74"/>
<text x="233" y="2219.5" font-size="33.5" transform="rotate(-90 233 2219.5)" fill="#404040">0.43</text>
<text x="482" y="2219.5" font-size="33.5" transform="rotate(-90 482 2219.5)" fill="#404040">0.65</text>
<text x="28" y="2219.1" font-size="34.5" text-anchor="middle" transform="rotate(-90 28 2219.1)" fill="#404040">Density</text>
<text x="337.8" y="2522.3" font-size="34.5" text-anchor="middle" fill="#404040">Performance</text>
<text x="3" y="1971.5" font-size="33.6" font-weight="bold" fill="#000">j</text>
</g>
<g id="panel-k">
<rect x="687.1" y="1997.3" width="177.61" height="443.3" fill="#f3dcdc"/>
<rect x="1008.05" y="1997.3" width="127.55" height="443.3" fill="#f3dcdc"/>
<path d="M687.1 2440.6v-5M687.1 1997.3v5M776.8 2440.6v-5M776.8 1997.3v5M866.5 2440.6v-5M866.5 1997.3v5M956.2 2440.6v-5M956.2 1997.3v5M1045.9 2440.6v-5M1045.9 1997.3v5M1135.6 2440.6v-5M1135.6 1997.3v5M687.1 2440.6h5M1135.6 2440.6h-5M687.1 2351.94h5M1135.6 2351.94h-5M687.1 2263.28h5M1135.6 2263.28h-5M687.1 2174.62h5M1135.6 2174.62h-5M687.1 2085.96h5M1135.6 2085.96h-5M687.1 1997.3h5M1135.6 1997.3h-5M687.1 1997.3H1135.6V2440.6H687.1Z" fill="none" stroke="#474747" stroke-width="1.55"/>
<text x="680.6" y="2451.8" font-size="34.5" text-anchor="end" fill="#404040">0</text>
<text x="680.6" y="2363.14" font-size="34.5" text-anchor="end" fill="#404040">0.5</text>
<text x="680.6" y="2274.48" font-size="34.5" text-anchor="end" fill="#404040">1</text>
<text x="680.6" y="2185.82" font-size="34.5" text-anchor="end" fill="#404040">1.5</text>
<text x="680.6" y="2097.16" font-size="34.5" text-anchor="end" fill="#404040">2</text>
<text x="680.6" y="2008.5" font-size="34.5" text-anchor="end" fill="#404040">2.5</text>
<text x="689.7" y="2481.9" font-size="34.5" text-anchor="middle" fill="#404040">0</text>
<text x="779.4" y="2481.9" font-size="34.5" text-anchor="middle" fill="#404040">0.5</text>
<text x="869.1" y="2481.9" font-size="34.5" text-anchor="middle" fill="#404040">1</text>
<text x="958.8" y="2481.9" font-size="34.5" text-anchor="middle" fill="#404040">1.5</text>
<text x="1048.5" y="2481.9" font-size="34.5" text-anchor="middle" fill="#404040">2</text>
<text x="1138.2" y="2481.9" font-size="34.5" text-anchor="middle" fill="#404040">2.5</text>
<path d="M794.74 2440.6V2428.9H803.71V2440.6ZM803.71 2440.6V2423.93H812.68V2440.6ZM812.68 2440.6V2429.78H821.65V2440.6ZM821.65 2440.6V2427.66H830.62V2440.6ZM830.62 2440.6V2425.17H839.59V2440.6ZM839.59 2440.6V2411.34H848.56V2440.6ZM848.56 2440.6V2404.43H857.53V2440.6ZM857.53 2440.6V2381.55H866.5V2440.6ZM866.5 2440.6V2367.37H875.47V2440.6ZM875.47 2440.6V2332.26H884.44V2440.6ZM884.44 2440.6V2315.41H893.41V2440.6ZM893.41 2440.6V2277.11H902.38V2440.6ZM902.38 2440.6V2241.47H911.35V2440.6ZM911.35 2440.6V2202.99H920.32V2440.6ZM920.32 2440.6V2142.35H929.29V2440.6ZM929.29 2440.6V2164.87H938.26V2440.6ZM938.26 2440.6V2136.5H947.23V2440.6ZM947.23 2440.6V2146.6H956.2V2440.6ZM956.2 2440.6V2190.93H965.17V2440.6ZM965.17 2440.6V2201.4H974.14V2440.6ZM974.14 2440.6V2223.56H983.11V2440.6ZM983.11 2440.6V2278.88H992.08V2440.6ZM992.08 2440.6V2307.43H1001.05V2440.6ZM1001.05 2440.6V2339.7H1010.02V2440.6ZM1010.02 2440.6V2386.52H1018.99V2440.6ZM1018.99 2440.6V2393.26H1027.96V2440.6ZM1027.96 2440.6V2416.84H1036.93V2440.6ZM1036.93 2440.6V2424.11H1045.9V2440.6ZM1045.9 2440.6V2433.86H1054.87V2440.6ZM1054.87 2440.6V2434.93H1063.84V2440.6ZM1063.84 2440.6V2437.59H1072.81V2440.6ZM731.95 2440.6V2438.29H740.92V2440.6ZM749.89 2440.6V2438.83H758.86V2440.6ZM767.83 2440.6V2438.29H776.8V2440.6ZM776.8 2440.6V2439.89H785.77V2440.6ZM785.77 2440.6V2440.07H794.74V2440.6ZM1072.81 2440.6V2438.29H1081.78V2440.6ZM1081.78 2440.6V2439.71H1090.75V2440.6Z" fill="#74acda"/>
<clipPath id="pk2">
<rect x="687.1" y="1997.3" width="177.61" height="443.3" fill="#000"/>
<rect x="1008.05" y="1997.3" width="127.55" height="443.3" fill="#000"/>
</clipPath>
<path d="M794.74 2440.6V2428.9H803.71V2440.6ZM803.71 2440.6V2423.93H812.68V2440.6ZM812.68 2440.6V2429.78H821.65V2440.6ZM821.65 2440.6V2427.66H830.62V2440.6ZM830.62 2440.6V2425.17H839.59V2440.6ZM839.59 2440.6V2411.34H848.56V2440.6ZM848.56 2440.6V2404.43H857.53V2440.6ZM857.53 2440.6V2381.55H866.5V2440.6ZM866.5 2440.6V2367.37H875.47V2440.6ZM875.47 2440.6V2332.26H884.44V2440.6ZM884.44 2440.6V2315.41H893.41V2440.6ZM893.41 2440.6V2277.11H902.38V2440.6ZM902.38 2440.6V2241.47H911.35V2440.6ZM911.35 2440.6V2202.99H920.32V2440.6ZM920.32 2440.6V2142.35H929.29V2440.6ZM929.29 2440.6V2164.87H938.26V2440.6ZM938.26 2440.6V2136.5H947.23V2440.6ZM947.23 2440.6V2146.6H956.2V2440.6ZM956.2 2440.6V2190.93H965.17V2440.6ZM965.17 2440.6V2201.4H974.14V2440.6ZM974.14 2440.6V2223.56H983.11V2440.6ZM983.11 2440.6V2278.88H992.08V2440.6ZM992.08 2440.6V2307.43H1001.05V2440.6ZM1001.05 2440.6V2339.7H1010.02V2440.6ZM1010.02 2440.6V2386.52H1018.99V2440.6ZM1018.99 2440.6V2393.26H1027.96V2440.6ZM1027.96 2440.6V2416.84H1036.93V2440.6ZM1036.93 2440.6V2424.11H1045.9V2440.6ZM1045.9 2440.6V2433.86H1054.87V2440.6ZM1054.87 2440.6V2434.93H1063.84V2440.6ZM1063.84 2440.6V2437.59H1072.81V2440.6ZM731.95 2440.6V2438.29H740.92V2440.6ZM749.89 2440.6V2438.83H758.86V2440.6ZM767.83 2440.6V2438.29H776.8V2440.6ZM776.8 2440.6V2439.89H785.77V2440.6ZM785.77 2440.6V2440.07H794.74V2440.6ZM1072.81 2440.6V2438.29H1081.78V2440.6ZM1081.78 2440.6V2439.71H1090.75V2440.6Z" fill="#8097cc" clip-path="url(#pk2)"/>
<path d="M731.95 2440.6V2438.29H740.92V2440.6ZM749.89 2440.6V2438.83H758.86V2440.6ZM767.83 2440.6V2438.29H776.8V2440.6ZM776.8 2440.6V2439.89H785.77V2440.6ZM785.77 2440.6V2440.07H794.74V2440.6ZM1072.81 2440.6V2438.29H1081.78V2440.6ZM1081.78 2440.6V2439.71H1090.75V2440.6Z" fill="none" stroke="#08101f" stroke-width="0.9" stroke-linejoin="miter"/>
<path d="M794.74 2440.6V2428.9H803.71V2440.6ZM803.71 2440.6V2423.93H812.68V2440.6ZM812.68 2440.6V2429.78H821.65V2440.6ZM821.65 2440.6V2427.66H830.62V2440.6ZM830.62 2440.6V2425.17H839.59V2440.6ZM839.59 2440.6V2411.34H848.56V2440.6ZM848.56 2440.6V2404.43H857.53V2440.6ZM857.53 2440.6V2381.55H866.5V2440.6ZM866.5 2440.6V2367.37H875.47V2440.6ZM875.47 2440.6V2332.26H884.44V2440.6ZM884.44 2440.6V2315.41H893.41V2440.6ZM893.41 2440.6V2277.11H902.38V2440.6ZM902.38 2440.6V2241.47H911.35V2440.6ZM911.35 2440.6V2202.99H920.32V2440.6ZM920.32 2440.6V2142.35H929.29V2440.6ZM929.29 2440.6V2164.87H938.26V2440.6ZM938.26 2440.6V2136.5H947.23V2440.6ZM947.23 2440.6V2146.6H956.2V2440.6ZM956.2 2440.6V2190.93H965.17V2440.6ZM965.17 2440.6V2201.4H974.14V2440.6ZM974.14 2440.6V2223.56H983.11V2440.6ZM983.11 2440.6V2278.88H992.08V2440.6ZM992.08 2440.6V2307.43H1001.05V2440.6ZM1001.05 2440.6V2339.7H1010.02V2440.6ZM1010.02 2440.6V2386.52H1018.99V2440.6ZM1018.99 2440.6V2393.26H1027.96V2440.6ZM1027.96 2440.6V2416.84H1036.93V2440.6ZM1036.93 2440.6V2424.11H1045.9V2440.6ZM1045.9 2440.6V2433.86H1054.87V2440.6ZM1054.87 2440.6V2434.93H1063.84V2440.6ZM1063.84 2440.6V2437.59H1072.81V2440.6Z" fill="none" stroke="#08101f" stroke-width="1.7" stroke-linejoin="miter"/>
<line x1="866.5" y1="1998.1" x2="866.5" y2="2439.8" stroke="#5c5c5c" stroke-width="7" stroke-opacity="0.74"/>
<text x="859.5" y="2262" font-size="33.5" transform="rotate(-90 859.5 2262)" fill="#404040">0.98</text>
<text x="1041" y="2262" font-size="33.5" transform="rotate(-90 1041 2262)" fill="#404040">1.79</text>
<text x="616.5" y="2218.95" font-size="34.5" text-anchor="middle" transform="rotate(-90 616.5 2218.95)" fill="#404040">Density</text>
<text x="925" y="2522.3" font-size="34.5" text-anchor="middle" fill="#404040">Performance</text>
<text x="589.5" y="1971.5" font-size="33.6" font-weight="bold" fill="#000">k</text>
</g>
<g id="panel-l">
<rect x="1276.5" y="1999.3" width="254.33" height="438.5" fill="#f3dcdc"/>
<rect x="1633.9" y="1999.3" width="87.5" height="438.5" fill="#f3dcdc"/>
<path d="M1276.5 2437.8v-5M1276.5 1999.3v5M1424.8 2437.8v-5M1424.8 1999.3v5M1573.1 2437.8v-5M1573.1 1999.3v5M1721.4 2437.8v-5M1721.4 1999.3v5M1276.5 2437.8h5M1721.4 2437.8h-5M1276.5 2350.1h5M1721.4 2350.1h-5M1276.5 2262.4h5M1721.4 2262.4h-5M1276.5 2174.7h5M1721.4 2174.7h-5M1276.5 2087h5M1721.4 2087h-5M1276.5 1999.3h5M1721.4 1999.3h-5M1276.5 1999.3H1721.4V2437.8H1276.5Z" fill="none" stroke="#474747" stroke-width="1.55"/>
<text x="1261.8" y="2449" font-size="34.5" text-anchor="end" fill="#404040">0</text>
<text x="1271.3" y="2361.3" font-size="34.5" text-anchor="end" fill="#404040">0.5</text>
<text x="1261.8" y="2273.6" font-size="34.5" text-anchor="end" fill="#404040">1</text>
<text x="1271.3" y="2185.9" font-size="34.5" text-anchor="end" fill="#404040">1.5</text>
<text x="1261.8" y="2098.2" font-size="34.5" text-anchor="end" fill="#404040">2</text>
<text x="1271.3" y="2010.5" font-size="34.5" text-anchor="end" fill="#404040">2.5</text>
<text x="1276.5" y="2477.6" font-size="34.5" text-anchor="middle" fill="#404040">0</text>
<text x="1424.8" y="2477.6" font-size="34.5" text-anchor="middle" fill="#404040">1</text>
<text x="1573.1" y="2477.6" font-size="34.5" text-anchor="middle" fill="#404040">2</text>
<text x="1721.4" y="2477.6" font-size="34.5" text-anchor="middle" fill="#404040">3</text>
<path d="M1491.54 2437.8V2433.94H1498.95V2437.8ZM1498.95 2437.8V2429.38H1506.37V2437.8ZM1506.37 2437.8V2414.65H1513.78V2437.8ZM1513.78 2437.8V2390.09H1521.2V2437.8ZM1521.2 2437.8V2377.64H1528.61V2437.8ZM1528.61 2437.8V2348H1536.03V2437.8ZM1536.03 2437.8V2305.2H1543.44V2437.8ZM1543.44 2437.8V2254.33H1550.86V2437.8ZM1550.86 2437.8V2207.5H1558.27V2437.8ZM1558.27 2437.8V2135.41H1565.68V2437.8ZM1565.68 2437.8V2125.76H1573.1V2437.8ZM1573.1 2437.8V2127.87H1580.52V2437.8ZM1580.52 2437.8V2163.47H1587.93V2437.8ZM1587.93 2437.8V2078.58H1595.35V2437.8ZM1595.35 2437.8V2125.06H1602.76V2437.8ZM1602.76 2437.8V2184.35H1610.18V2437.8ZM1610.18 2437.8V2272.57H1617.59V2437.8ZM1617.59 2437.8V2283.27H1625.01V2437.8ZM1625.01 2437.8V2335.02H1632.42V2437.8ZM1632.42 2437.8V2354.84H1639.84V2437.8ZM1639.84 2437.8V2390.09H1647.25V2437.8ZM1647.25 2437.8V2416.75H1654.67V2437.8ZM1654.67 2437.8V2417.28H1662.08V2437.8ZM1662.08 2437.8V2429.73H1669.5V2437.8ZM1676.91 2437.8V2433.94H1684.33V2437.8ZM1476.7 2437.8V2436.4H1484.12V2437.8ZM1484.12 2437.8V2436.05H1491.54V2437.8ZM1669.5 2437.8V2436.57H1676.91V2437.8ZM1684.33 2437.8V2436.4H1691.74V2437.8Z" fill="#74acda"/>
<clipPath id="pk3">
<rect x="1276.5" y="1999.3" width="254.33" height="438.5" fill="#000"/>
<rect x="1633.9" y="1999.3" width="87.5" height="438.5" fill="#000"/>
</clipPath>
<path d="M1491.54 2437.8V2433.94H1498.95V2437.8ZM1498.95 2437.8V2429.38H1506.37V2437.8ZM1506.37 2437.8V2414.65H1513.78V2437.8ZM1513.78 2437.8V2390.09H1521.2V2437.8ZM1521.2 2437.8V2377.64H1528.61V2437.8ZM1528.61 2437.8V2348H1536.03V2437.8ZM1536.03 2437.8V2305.2H1543.44V2437.8ZM1543.44 2437.8V2254.33H1550.86V2437.8ZM1550.86 2437.8V2207.5H1558.27V2437.8ZM1558.27 2437.8V2135.41H1565.68V2437.8ZM1565.68 2437.8V2125.76H1573.1V2437.8ZM1573.1 2437.8V2127.87H1580.52V2437.8ZM1580.52 2437.8V2163.47H1587.93V2437.8ZM1587.93 2437.8V2078.58H1595.35V2437.8ZM1595.35 2437.8V2125.06H1602.76V2437.8ZM1602.76 2437.8V2184.35H1610.18V2437.8ZM1610.18 2437.8V2272.57H1617.59V2437.8ZM1617.59 2437.8V2283.27H1625.01V2437.8ZM1625.01 2437.8V2335.02H1632.42V2437.8ZM1632.42 2437.8V2354.84H1639.84V2437.8ZM1639.84 2437.8V2390.09H1647.25V2437.8ZM1647.25 2437.8V2416.75H1654.67V2437.8ZM1654.67 2437.8V2417.28H1662.08V2437.8ZM1662.08 2437.8V2429.73H1669.5V2437.8ZM1676.91 2437.8V2433.94H1684.33V2437.8ZM1476.7 2437.8V2436.4H1484.12V2437.8ZM1484.12 2437.8V2436.05H1491.54V2437.8ZM1669.5 2437.8V2436.57H1676.91V2437.8ZM1684.33 2437.8V2436.4H1691.74V2437.8Z" fill="#8097cc" clip-path="url(#pk3)"/>
<path d="M1476.7 2437.8V2436.4H1484.12V2437.8ZM1484.12 2437.8V2436.05H1491.54V2437.8ZM1669.5 2437.8V2436.57H1676.91V2437.8ZM1684.33 2437.8V2436.4H1691.74V2437.8Z" fill="none" stroke="#08101f" stroke-width="0.9" stroke-linejoin="miter"/>
<path d="M1491.54 2437.8V2433.94H1498.95V2437.8ZM1498.95 2437.8V2429.38H1506.37V2437.8ZM1506.37 2437.8V2414.65H1513.78V2437.8ZM1513.78 2437.8V2390.09H1521.2V2437.8ZM1521.2 2437.8V2377.64H1528.61V2437.8ZM1528.61 2437.8V2348H1536.03V2437.8ZM1536.03 2437.8V2305.2H1543.44V2437.8ZM1543.44 2437.8V2254.33H1550.86V2437.8ZM1550.86 2437.8V2207.5H1558.27V2437.8ZM1558.27 2437.8V2135.41H1565.68V2437.8ZM1565.68 2437.8V2125.76H1573.1V2437.8ZM1573.1 2437.8V2127.87H1580.52V2437.8ZM1580.52 2437.8V2163.47H1587.93V2437.8ZM1587.93 2437.8V2078.58H1595.35V2437.8ZM1595.35 2437.8V2125.06H1602.76V2437.8ZM1602.76 2437.8V2184.35H1610.18V2437.8ZM1610.18 2437.8V2272.57H1617.59V2437.8ZM1617.59 2437.8V2283.27H1625.01V2437.8ZM1625.01 2437.8V2335.02H1632.42V2437.8ZM1632.42 2437.8V2354.84H1639.84V2437.8ZM1639.84 2437.8V2390.09H1647.25V2437.8ZM1647.25 2437.8V2416.75H1654.67V2437.8ZM1654.67 2437.8V2417.28H1662.08V2437.8ZM1662.08 2437.8V2429.73H1669.5V2437.8ZM1676.91 2437.8V2433.94H1684.33V2437.8Z" fill="none" stroke="#08101f" stroke-width="1.7" stroke-linejoin="miter"/>
<line x1="1424.36" y1="2000.1" x2="1424.36" y2="2437" stroke="#5c5c5c" stroke-width="7" stroke-opacity="0.74"/>
<text x="1537.5" y="2260" font-size="33.5" transform="rotate(-90 1537.5 2260)" fill="#404040">1.72</text>
<text x="1654.3" y="2261" font-size="33.5" transform="rotate(-90 1654.3 2261)" fill="#404040">2.41</text>
<text x="1213.5" y="2218.55" font-size="34.5" text-anchor="middle" transform="rotate(-90 1213.5 2218.55)" fill="#404040">Density</text>
<text x="1512.5" y="2515.2" font-size="34.5" text-anchor="middle" fill="#404040">Performance</text>
<text x="1199.5" y="1971.5" font-size="33.6" font-weight="bold" fill="#000">l</text>
</g>
</svg>
</body>
</html>
